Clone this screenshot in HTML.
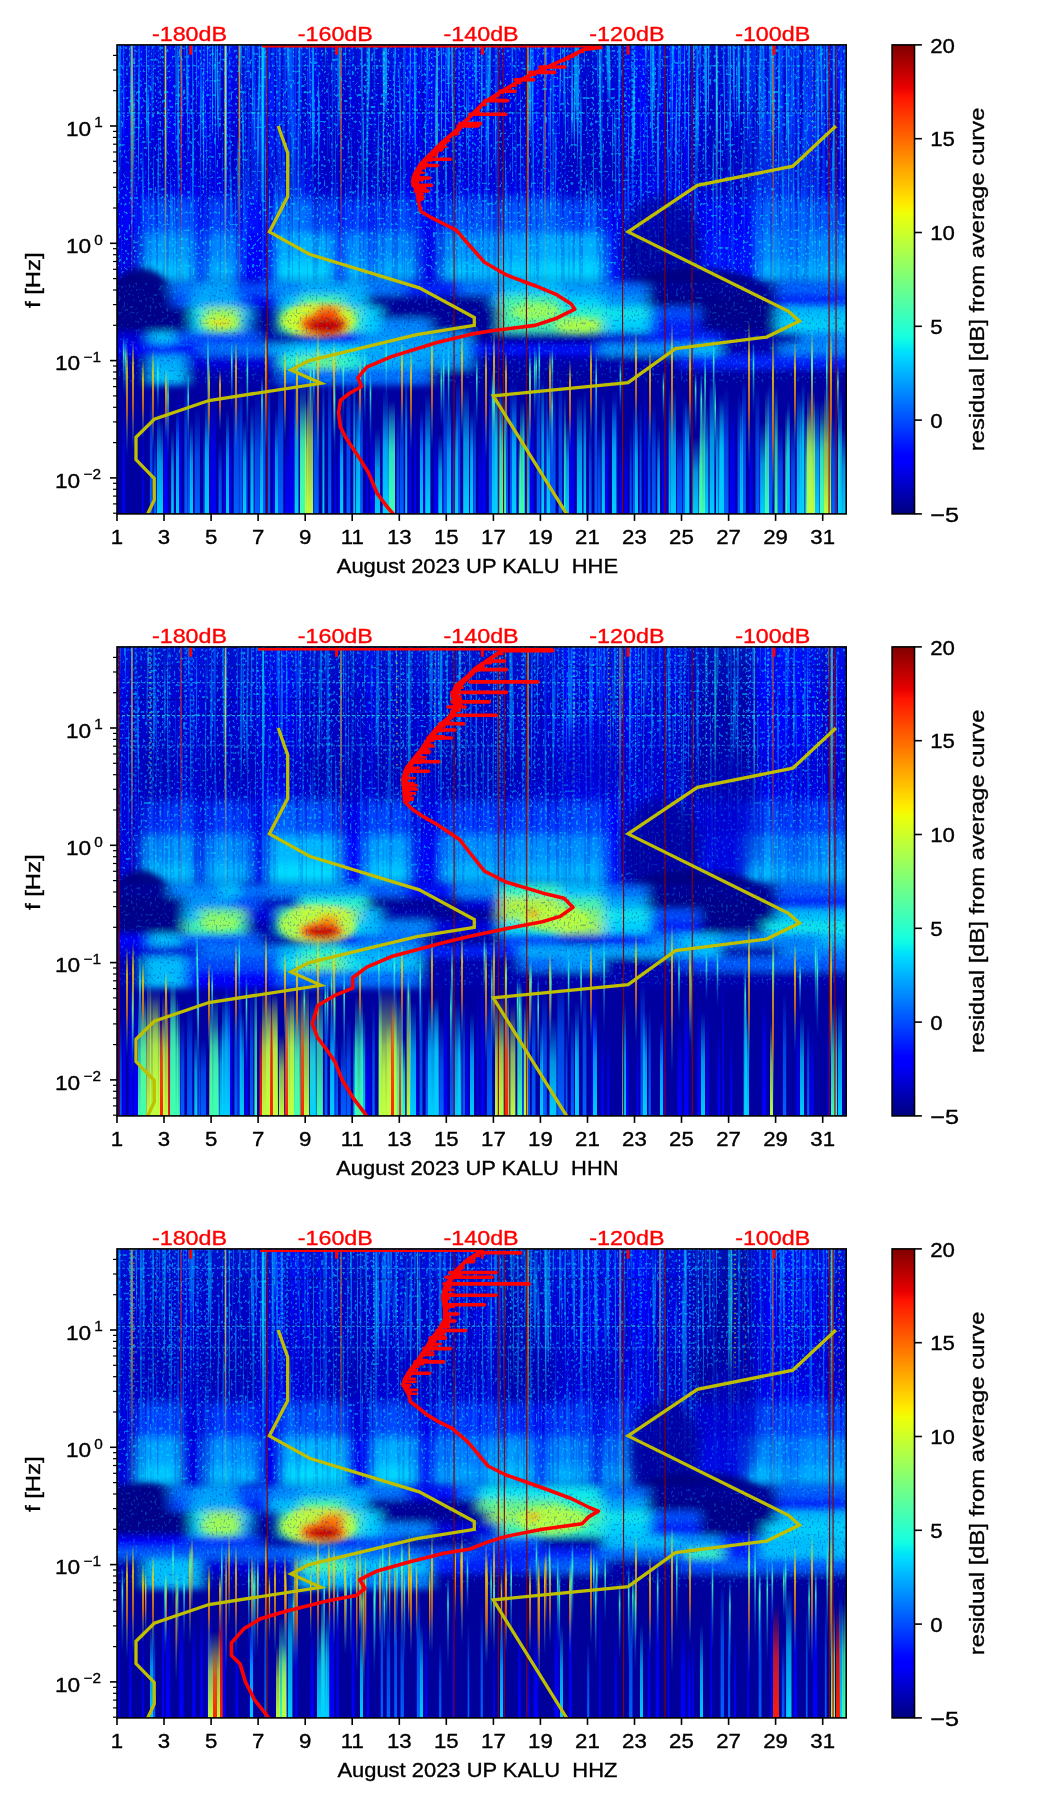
<!DOCTYPE html>
<html><head><meta charset="utf-8"><style>html,body{margin:0;padding:0;background:#fff;width:1052px;height:1806px;overflow:hidden}svg{display:block} text{opacity:0.999}</style></head>
<body><svg width="1052" height="1806" viewBox="0 0 1052 1806"><defs><linearGradient id="jetg" x1="0" y1="0" x2="0" y2="1"><stop offset="0.00" stop-color="#800000"/><stop offset="0.01" stop-color="#8b0000"/><stop offset="0.02" stop-color="#970000"/><stop offset="0.03" stop-color="#a20000"/><stop offset="0.04" stop-color="#ae0000"/><stop offset="0.05" stop-color="#b90000"/><stop offset="0.06" stop-color="#c50000"/><stop offset="0.07" stop-color="#d10000"/><stop offset="0.08" stop-color="#dc0000"/><stop offset="0.09" stop-color="#e80000"/><stop offset="0.10" stop-color="#f30900"/><stop offset="0.11" stop-color="#ff1300"/><stop offset="0.12" stop-color="#ff1c00"/><stop offset="0.13" stop-color="#ff2600"/><stop offset="0.14" stop-color="#ff2f00"/><stop offset="0.15" stop-color="#ff3900"/><stop offset="0.16" stop-color="#ff4200"/><stop offset="0.17" stop-color="#ff4c00"/><stop offset="0.18" stop-color="#ff5500"/><stop offset="0.19" stop-color="#ff5e00"/><stop offset="0.20" stop-color="#ff6800"/><stop offset="0.21" stop-color="#ff7100"/><stop offset="0.22" stop-color="#ff7b00"/><stop offset="0.23" stop-color="#ff8400"/><stop offset="0.24" stop-color="#ff8e00"/><stop offset="0.25" stop-color="#ff9700"/><stop offset="0.26" stop-color="#ffa100"/><stop offset="0.27" stop-color="#ffaa00"/><stop offset="0.28" stop-color="#ffb300"/><stop offset="0.29" stop-color="#ffbd00"/><stop offset="0.30" stop-color="#ffc600"/><stop offset="0.31" stop-color="#ffd000"/><stop offset="0.32" stop-color="#ffd900"/><stop offset="0.33" stop-color="#ffe300"/><stop offset="0.34" stop-color="#ffec00"/><stop offset="0.35" stop-color="#f7f600"/><stop offset="0.36" stop-color="#efff08"/><stop offset="0.37" stop-color="#e6ff10"/><stop offset="0.38" stop-color="#deff19"/><stop offset="0.39" stop-color="#d6ff21"/><stop offset="0.40" stop-color="#ceff29"/><stop offset="0.41" stop-color="#c5ff31"/><stop offset="0.42" stop-color="#bdff3a"/><stop offset="0.43" stop-color="#b5ff42"/><stop offset="0.44" stop-color="#adff4a"/><stop offset="0.45" stop-color="#a5ff52"/><stop offset="0.46" stop-color="#9cff5a"/><stop offset="0.47" stop-color="#94ff63"/><stop offset="0.48" stop-color="#8cff6b"/><stop offset="0.49" stop-color="#84ff73"/><stop offset="0.50" stop-color="#7bff7b"/><stop offset="0.51" stop-color="#73ff84"/><stop offset="0.52" stop-color="#6bff8c"/><stop offset="0.53" stop-color="#63ff94"/><stop offset="0.54" stop-color="#5aff9c"/><stop offset="0.55" stop-color="#52ffa5"/><stop offset="0.56" stop-color="#4affad"/><stop offset="0.57" stop-color="#42ffb5"/><stop offset="0.58" stop-color="#3affbd"/><stop offset="0.59" stop-color="#31ffc5"/><stop offset="0.60" stop-color="#29ffce"/><stop offset="0.61" stop-color="#21ffd6"/><stop offset="0.62" stop-color="#19ffde"/><stop offset="0.63" stop-color="#10fae6"/><stop offset="0.64" stop-color="#08f0ef"/><stop offset="0.65" stop-color="#00e5f7"/><stop offset="0.66" stop-color="#00dbff"/><stop offset="0.67" stop-color="#00d1ff"/><stop offset="0.68" stop-color="#00c7ff"/><stop offset="0.69" stop-color="#00bdff"/><stop offset="0.70" stop-color="#00b2ff"/><stop offset="0.71" stop-color="#00a8ff"/><stop offset="0.72" stop-color="#009eff"/><stop offset="0.73" stop-color="#0094ff"/><stop offset="0.74" stop-color="#008aff"/><stop offset="0.75" stop-color="#0080ff"/><stop offset="0.76" stop-color="#0075ff"/><stop offset="0.77" stop-color="#006bff"/><stop offset="0.78" stop-color="#0061ff"/><stop offset="0.79" stop-color="#0057ff"/><stop offset="0.80" stop-color="#004dff"/><stop offset="0.81" stop-color="#0042ff"/><stop offset="0.82" stop-color="#0038ff"/><stop offset="0.83" stop-color="#002eff"/><stop offset="0.84" stop-color="#0024ff"/><stop offset="0.85" stop-color="#0019ff"/><stop offset="0.86" stop-color="#000fff"/><stop offset="0.87" stop-color="#0005ff"/><stop offset="0.88" stop-color="#0000ff"/><stop offset="0.89" stop-color="#0000ff"/><stop offset="0.90" stop-color="#0000f3"/><stop offset="0.91" stop-color="#0000e8"/><stop offset="0.92" stop-color="#0000dc"/><stop offset="0.93" stop-color="#0000d1"/><stop offset="0.94" stop-color="#0000c5"/><stop offset="0.95" stop-color="#0000b9"/><stop offset="0.96" stop-color="#0000ae"/><stop offset="0.97" stop-color="#0000a2"/><stop offset="0.98" stop-color="#000097"/><stop offset="0.99" stop-color="#00008b"/><stop offset="1.00" stop-color="#000080"/></linearGradient><filter id="bl2" x="-20%" y="-20%" width="140%" height="140%"><feGaussianBlur stdDeviation="2"/></filter><filter id="bl3" x="-20%" y="-20%" width="140%" height="140%"><feGaussianBlur stdDeviation="3"/></filter><filter id="bl4" x="-5%" y="-5%" width="110%" height="110%"><feGaussianBlur stdDeviation="5.5 5"/></filter><filter id="bl5" x="-5%" y="-20%" width="110%" height="140%"><feGaussianBlur stdDeviation="6 3.5"/></filter><filter id="bl6" x="-20%" y="-20%" width="140%" height="140%"><feGaussianBlur stdDeviation="6"/></filter><linearGradient id="up0" gradientUnits="userSpaceOnUse" x1="0" y1="44.9" x2="0" y2="513.9"><stop offset="0" stop-color="#000080" stop-opacity="0"/><stop offset="0.4842" stop-color="#000080" stop-opacity="0"/><stop offset="0.5269" stop-color="#000080" stop-opacity="0.35"/><stop offset="0.5439" stop-color="#000080" stop-opacity="0.5"/></linearGradient><linearGradient id="up1" gradientUnits="userSpaceOnUse" x1="0" y1="44.9" x2="0" y2="513.9"><stop offset="0" stop-color="#000080" stop-opacity="0"/><stop offset="0.4842" stop-color="#000080" stop-opacity="0"/><stop offset="0.5269" stop-color="#000080" stop-opacity="0.35"/><stop offset="0.5439" stop-color="#000080" stop-opacity="0.5"/></linearGradient><linearGradient id="up2" gradientUnits="userSpaceOnUse" x1="0" y1="44.9" x2="0" y2="513.9"><stop offset="0" stop-color="#000080" stop-opacity="0"/><stop offset="0.4842" stop-color="#000080" stop-opacity="0"/><stop offset="0.5269" stop-color="#000080" stop-opacity="0.35"/><stop offset="0.5439" stop-color="#000080" stop-opacity="0.5"/></linearGradient><linearGradient id="vshade" gradientUnits="userSpaceOnUse" x1="0" y1="44" x2="0" y2="210"><stop offset="0" stop-color="#0090ff" stop-opacity="0.12"/><stop offset="0.35" stop-color="#0090ff" stop-opacity="0.0"/><stop offset="0.45" stop-color="#000080" stop-opacity="0.0"/><stop offset="0.75" stop-color="#000080" stop-opacity="0.18"/><stop offset="1" stop-color="#000080" stop-opacity="0"/></linearGradient><filter id="streaks" x="0" y="0" width="100%" height="100%" filterUnits="objectBoundingBox">
<feTurbulence type="fractalNoise" baseFrequency="0.45 0.012" numOctaves="2" seed="7" result="n"/>
<feColorMatrix in="n" type="matrix" values="0 0 0 0 0  0 0 0 0 0.55  0 0 0 0 1  0 0 0 9 -5.2"/>
</filter><filter id="speckd" x="0" y="0" width="100%" height="100%"><feTurbulence type="fractalNoise" baseFrequency="0.5 0.4" numOctaves="1" seed="11"/><feColorMatrix type="matrix" values="0 0 0 0 0  0 0 0 0 0  0 0 0 0 0.55  0 0 0 9 -5.2"/></filter><filter id="vl0" x="0" y="0" width="100%" height="100%"><feTurbulence type="fractalNoise" baseFrequency="0.4 0.006" numOctaves="2" seed="3"/><feColorMatrix type="matrix" values="0 0 0 0 0  0 0 0 0 0.5  0 0 0 0 1  0 0 0 7 -3.9"/></filter>
<filter id="vd0" x="0" y="0" width="100%" height="100%"><feTurbulence type="fractalNoise" baseFrequency="0.4 0.006" numOctaves="2" seed="9"/><feColorMatrix type="matrix" values="0 0 0 0 0  0 0 0 0 0  0 0 0 0 0.55  0 0 0 7 -3.4"/></filter>
<filter id="sp0" x="0" y="0" width="100%" height="100%"><feTurbulence type="fractalNoise" baseFrequency="0.42 0.34" numOctaves="1" seed="21"/><feColorMatrix type="matrix" values="0 0 0 0 0  0 0 0 0 0.75  0 0 0 0 1  0 0 0 12 -7.2"/></filter><filter id="vl1" x="0" y="0" width="100%" height="100%"><feTurbulence type="fractalNoise" baseFrequency="0.4 0.006" numOctaves="2" seed="13"/><feColorMatrix type="matrix" values="0 0 0 0 0  0 0 0 0 0.5  0 0 0 0 1  0 0 0 7 -3.9"/></filter>
<filter id="vd1" x="0" y="0" width="100%" height="100%"><feTurbulence type="fractalNoise" baseFrequency="0.4 0.006" numOctaves="2" seed="19"/><feColorMatrix type="matrix" values="0 0 0 0 0  0 0 0 0 0  0 0 0 0 0.55  0 0 0 7 -3.4"/></filter>
<filter id="sp1" x="0" y="0" width="100%" height="100%"><feTurbulence type="fractalNoise" baseFrequency="0.42 0.34" numOctaves="1" seed="31"/><feColorMatrix type="matrix" values="0 0 0 0 0  0 0 0 0 0.75  0 0 0 0 1  0 0 0 12 -7.2"/></filter><filter id="vl2" x="0" y="0" width="100%" height="100%"><feTurbulence type="fractalNoise" baseFrequency="0.4 0.006" numOctaves="2" seed="23"/><feColorMatrix type="matrix" values="0 0 0 0 0  0 0 0 0 0.5  0 0 0 0 1  0 0 0 7 -3.9"/></filter>
<filter id="vd2" x="0" y="0" width="100%" height="100%"><feTurbulence type="fractalNoise" baseFrequency="0.4 0.006" numOctaves="2" seed="29"/><feColorMatrix type="matrix" values="0 0 0 0 0  0 0 0 0 0  0 0 0 0 0.55  0 0 0 7 -3.4"/></filter>
<filter id="sp2" x="0" y="0" width="100%" height="100%"><feTurbulence type="fractalNoise" baseFrequency="0.42 0.34" numOctaves="1" seed="41"/><feColorMatrix type="matrix" values="0 0 0 0 0  0 0 0 0 0.75  0 0 0 0 1  0 0 0 12 -7.2"/></filter><linearGradient id="stm" gradientUnits="userSpaceOnUse" x1="0" y1="44" x2="0" y2="300"><stop offset="0" stop-color="#fff"/><stop offset="0.45" stop-color="#fff"/><stop offset="0.72" stop-color="#fff" stop-opacity="0.3"/><stop offset="1" stop-color="#fff" stop-opacity="0.15"/></linearGradient><mask id="stmask" maskUnits="userSpaceOnUse" x="100" y="30" width="760" height="290"><rect x="100" y="30" width="760" height="290" fill="url(#stm)"/></mask><linearGradient id="sLB" x1="0" y1="0" x2="0" y2="1"><stop offset="0" stop-color="#0060ff" stop-opacity="0"/><stop offset="0.45" stop-color="#0060ff" stop-opacity="0.7"/><stop offset="1" stop-color="#0060ff" stop-opacity="1"/></linearGradient><linearGradient id="sC" x1="0" y1="0" x2="0" y2="1"><stop offset="0" stop-color="#00d0ff" stop-opacity="0"/><stop offset="0.45" stop-color="#00d0ff" stop-opacity="0.7"/><stop offset="1" stop-color="#00d0ff" stop-opacity="1"/></linearGradient><linearGradient id="sG" x1="0" y1="0" x2="0" y2="1"><stop offset="0" stop-color="#40ffb0" stop-opacity="0"/><stop offset="0.45" stop-color="#40ffb0" stop-opacity="0.7"/><stop offset="1" stop-color="#40ffb0" stop-opacity="1"/></linearGradient><linearGradient id="sY" x1="0" y1="0" x2="0" y2="1"><stop offset="0" stop-color="#c0ff40" stop-opacity="0"/><stop offset="0.45" stop-color="#c0ff40" stop-opacity="0.7"/><stop offset="1" stop-color="#c0ff40" stop-opacity="1"/></linearGradient><linearGradient id="sB" x1="0" y1="0" x2="0" y2="1"><stop offset="0" stop-color="#0000ff" stop-opacity="0"/><stop offset="0.45" stop-color="#0000ff" stop-opacity="0.7"/><stop offset="1" stop-color="#0000ff" stop-opacity="1"/></linearGradient><linearGradient id="sR" x1="0" y1="0" x2="0" y2="1"><stop offset="0" stop-color="#ff2000" stop-opacity="0"/><stop offset="0.45" stop-color="#ff2000" stop-opacity="0.7"/><stop offset="1" stop-color="#ff2000" stop-opacity="1"/></linearGradient><linearGradient id="spk" x1="0" y1="0" x2="0" y2="1"><stop offset="0" stop-color="#ffff00" stop-opacity="0"/><stop offset="0.25" stop-color="#ffd000" stop-opacity="0.9"/><stop offset="0.6" stop-color="#ff8000" stop-opacity="0.8"/><stop offset="1" stop-color="#00c0ff" stop-opacity="0"/></linearGradient><linearGradient id="spkc" x1="0" y1="0" x2="0" y2="1"><stop offset="0" stop-color="#00ffff" stop-opacity="0"/><stop offset="0.3" stop-color="#40ffc0" stop-opacity="0.9"/><stop offset="1" stop-color="#0080ff" stop-opacity="0"/></linearGradient></defs>
<clipPath id="cp0"><rect x="117.0" y="44.9" width="729.2" height="469.0"/></clipPath>
<g clip-path="url(#cp0)">
<g transform="translate(0,0.0)"><rect x="117.0" y="44.9" width="729.2" height="469.0" fill="#0000a0"/><g><rect x="115.0" y="436" width="3.0" height="80" fill="url(#sB)"/><rect x="122.5" y="398" width="2.5" height="118" fill="url(#sB)"/><rect x="142.0" y="420" width="1.5" height="96" fill="url(#sB)"/><rect x="149.9" y="390" width="2.6" height="126" fill="url(#sLB)"/><rect x="153.7" y="437" width="2.6" height="79" fill="url(#sLB)"/><rect x="157.0" y="412" width="3.2" height="104" fill="url(#sC)"/><rect x="163.9" y="407" width="3.9" height="109" fill="url(#sB)"/><rect x="171.2" y="429" width="2.6" height="87" fill="url(#sC)"/><rect x="176.3" y="395" width="5.2" height="121" fill="url(#sB)"/><rect x="184.4" y="378" width="2.6" height="138" fill="url(#sLB)"/><rect x="187.3" y="425" width="3.9" height="91" fill="url(#sLB)"/><rect x="194.7" y="407" width="5.2" height="109" fill="url(#sLB)"/><rect x="203.5" y="423" width="5.2" height="93" fill="url(#sLB)"/><rect x="210.7" y="390" width="5.2" height="125" fill="url(#sB)"/><rect x="218.5" y="440" width="3.2" height="76" fill="url(#sLB)"/><rect x="223.4" y="432" width="2.0" height="84" fill="url(#sB)"/><rect x="227.8" y="423" width="3.9" height="93" fill="url(#sB)"/><rect x="233.7" y="384" width="5.2" height="132" fill="url(#sLB)"/><rect x="239.3" y="377" width="3.2" height="139" fill="url(#sLB)"/><rect x="245.5" y="419" width="2.0" height="97" fill="url(#sLB)"/><rect x="250.4" y="404" width="3.2" height="112" fill="url(#sC)"/><rect x="254.6" y="392" width="5.2" height="124" fill="url(#sLB)"/><rect x="261.6" y="379" width="3.9" height="136" fill="url(#sLB)"/><rect x="267.6" y="368" width="2.6" height="148" fill="url(#sLB)"/><rect x="272.9" y="411" width="2.6" height="105" fill="url(#sB)"/><rect x="278.1" y="368" width="5.2" height="148" fill="url(#sLB)"/><rect x="285.1" y="430" width="3.9" height="85" fill="url(#sB)"/><rect x="289.3" y="377" width="2.6" height="139" fill="url(#sB)"/><rect x="292.2" y="374" width="2.0" height="142" fill="url(#sB)"/><rect x="294.6" y="368" width="3.9" height="148" fill="url(#sC)"/><rect x="300.2" y="404" width="5.7" height="112" fill="url(#sG)"/><rect x="307.3" y="376" width="5.7" height="140" fill="url(#sY)"/><rect x="313.5" y="385" width="5.2" height="131" fill="url(#sLB)"/><rect x="322.4" y="379" width="2.0" height="137" fill="url(#sC)"/><rect x="328.1" y="365" width="3.2" height="151" fill="url(#sLB)"/><rect x="334.4" y="439" width="2.0" height="76" fill="url(#sB)"/><rect x="338.5" y="414" width="2.0" height="102" fill="url(#sB)"/><rect x="341.4" y="429" width="2.0" height="87" fill="url(#sLB)"/><rect x="346.5" y="368" width="3.9" height="148" fill="url(#sLB)"/><rect x="353.3" y="367" width="2.0" height="149" fill="url(#sC)"/><rect x="357.6" y="376" width="5.2" height="140" fill="url(#sLB)"/><rect x="366.2" y="418" width="2.0" height="98" fill="url(#sB)"/><rect x="370.2" y="420" width="3.9" height="96" fill="url(#sB)"/><rect x="374.9" y="428" width="5.2" height="88" fill="url(#sC)"/><rect x="382.3" y="412" width="5.2" height="103" fill="url(#sLB)"/><rect x="388.0" y="403" width="7.0" height="113" fill="url(#sC)"/><rect x="396.6" y="408" width="2.6" height="107" fill="url(#sLB)"/><rect x="399.8" y="397" width="3.9" height="119" fill="url(#sLB)"/><rect x="405.2" y="368" width="2.0" height="147" fill="url(#sC)"/><rect x="408.9" y="401" width="2.6" height="115" fill="url(#sB)"/><rect x="414.1" y="407" width="2.0" height="109" fill="url(#sB)"/><rect x="419.2" y="409" width="5.2" height="107" fill="url(#sB)"/><rect x="425.2" y="393" width="5.2" height="122" fill="url(#sC)"/><rect x="433.8" y="428" width="3.9" height="88" fill="url(#sB)"/><rect x="438.3" y="434" width="3.9" height="82" fill="url(#sC)"/><rect x="443.4" y="382" width="3.6" height="134" fill="url(#sLB)"/><rect x="449.9" y="406" width="2.2" height="110" fill="url(#sB)"/><rect x="452.6" y="420" width="2.2" height="96" fill="url(#sLB)"/><rect x="456.0" y="369" width="4.3" height="147" fill="url(#sLB)"/><rect x="463.2" y="384" width="5.8" height="132" fill="url(#sC)"/><rect x="471.0" y="417" width="2.0" height="99" fill="url(#sLB)"/><rect x="473.3" y="400" width="2.6" height="116" fill="url(#sLB)"/><rect x="478.5" y="431" width="3.2" height="85" fill="url(#sB)"/><rect x="482.4" y="388" width="3.2" height="128" fill="url(#sB)"/><rect x="488.9" y="379" width="5.2" height="137" fill="url(#sLB)"/><rect x="494.6" y="377" width="7.0" height="139" fill="url(#sC)"/><rect x="502.2" y="389" width="2.6" height="127" fill="url(#sC)"/><rect x="505.4" y="398" width="2.6" height="118" fill="url(#sLB)"/><rect x="509.9" y="377" width="7.0" height="139" fill="url(#sLB)"/><rect x="518.7" y="428" width="2.6" height="88" fill="url(#sG)"/><rect x="522.4" y="402" width="2.6" height="114" fill="url(#sC)"/><rect x="526.1" y="398" width="3.5" height="118" fill="url(#sC)"/><rect x="530.2" y="395" width="3.6" height="121" fill="url(#sB)"/><rect x="536.7" y="367" width="3.6" height="149" fill="url(#sLB)"/><rect x="541.3" y="369" width="2.9" height="147" fill="url(#sC)"/><rect x="545.6" y="378" width="2.2" height="138" fill="url(#sLB)"/><rect x="549.8" y="383" width="5.8" height="133" fill="url(#sLB)"/><rect x="558.6" y="368" width="3.6" height="148" fill="url(#sLB)"/><rect x="563.9" y="392" width="2.0" height="124" fill="url(#sG)"/><rect x="569.3" y="399" width="5.2" height="117" fill="url(#sB)"/><rect x="576.9" y="395" width="5.2" height="121" fill="url(#sC)"/><rect x="583.5" y="390" width="2.6" height="125" fill="url(#sC)"/><rect x="589.0" y="422" width="2.6" height="94" fill="url(#sLB)"/><rect x="594.5" y="371" width="2.6" height="145" fill="url(#sLB)"/><rect x="597.5" y="428" width="3.2" height="88" fill="url(#sLB)"/><rect x="601.7" y="395" width="3.2" height="120" fill="url(#sC)"/><rect x="605.3" y="417" width="3.2" height="99" fill="url(#sB)"/><rect x="612.0" y="387" width="5.2" height="129" fill="url(#sLB)"/><rect x="619.5" y="438" width="3.2" height="77" fill="url(#sB)"/><rect x="624.4" y="436" width="3.2" height="80" fill="url(#sB)"/><rect x="629.7" y="427" width="2.0" height="89" fill="url(#sLB)"/><rect x="632.9" y="405" width="3.9" height="111" fill="url(#sLB)"/><rect x="639.6" y="402" width="2.0" height="114" fill="url(#sLB)"/><rect x="644.0" y="372" width="2.0" height="144" fill="url(#sB)"/><rect x="647.8" y="405" width="2.6" height="111" fill="url(#sLB)"/><rect x="651.8" y="403" width="3.9" height="113" fill="url(#sLB)"/><rect x="657.3" y="426" width="2.6" height="90" fill="url(#sC)"/><rect x="661.7" y="416" width="5.2" height="100" fill="url(#sB)"/><rect x="668.7" y="387" width="2.0" height="129" fill="url(#sC)"/><rect x="670.8" y="387" width="5.2" height="129" fill="url(#sC)"/><rect x="676.9" y="428" width="5.2" height="87" fill="url(#sLB)"/><rect x="682.8" y="394" width="4.0" height="122" fill="url(#sLB)"/><rect x="687.0" y="423" width="2.4" height="93" fill="url(#sC)"/><rect x="692.0" y="437" width="6.4" height="79" fill="url(#sC)"/><rect x="698.9" y="427" width="3.2" height="89" fill="url(#sG)"/><rect x="704.4" y="404" width="4.0" height="112" fill="url(#sC)"/><rect x="709.6" y="374" width="4.8" height="142" fill="url(#sC)"/><rect x="716.0" y="403" width="2.4" height="113" fill="url(#sC)"/><rect x="718.7" y="394" width="4.8" height="122" fill="url(#sC)"/><rect x="723.7" y="385" width="4.8" height="131" fill="url(#sLB)"/><rect x="730.0" y="401" width="5.2" height="115" fill="url(#sB)"/><rect x="737.5" y="391" width="3.2" height="125" fill="url(#sLB)"/><rect x="742.0" y="365" width="3.9" height="151" fill="url(#sLB)"/><rect x="749.5" y="422" width="3.2" height="94" fill="url(#sB)"/><rect x="755.5" y="384" width="3.9" height="132" fill="url(#sLB)"/><rect x="760.1" y="422" width="6.4" height="94" fill="url(#sC)"/><rect x="767.5" y="374" width="4.8" height="142" fill="url(#sLB)"/><rect x="774.5" y="385" width="3.2" height="131" fill="url(#sG)"/><rect x="778.0" y="425" width="4.8" height="91" fill="url(#sLB)"/><rect x="785.3" y="409" width="4.0" height="107" fill="url(#sG)"/><rect x="791.1" y="421" width="4.0" height="95" fill="url(#sLB)"/><rect x="796.8" y="389" width="4.0" height="127" fill="url(#sC)"/><rect x="801.7" y="377" width="2.8" height="139" fill="url(#sC)"/><rect x="805.3" y="413" width="7.6" height="103" fill="url(#sG)"/><rect x="813.5" y="400" width="5.7" height="116" fill="url(#sC)"/><rect x="819.6" y="419" width="3.8" height="96" fill="url(#sC)"/><rect x="824.0" y="386" width="4.8" height="130" fill="url(#sY)"/><rect x="830.7" y="413" width="6.4" height="103" fill="url(#sLB)"/><rect x="838.0" y="424" width="2.4" height="92" fill="url(#sY)"/><rect x="842.1" y="428" width="4.8" height="88" fill="url(#sC)"/><rect x="300.0" y="380" width="6" height="136" fill="url(#sG)"/><rect x="305.0" y="400" width="3" height="116" fill="url(#sY)"/><rect x="383.0" y="390" width="5" height="126" fill="url(#sC)"/><rect x="389.0" y="400" width="6" height="116" fill="url(#sG)"/><rect x="447.0" y="400" width="4" height="116" fill="url(#sC)"/><rect x="455.0" y="410" width="3" height="106" fill="url(#sC)"/><rect x="492.0" y="390" width="5" height="126" fill="url(#sC)"/><rect x="500.0" y="400" width="6" height="116" fill="url(#sG)"/><rect x="512.0" y="395" width="4" height="121" fill="url(#sC)"/><rect x="520.0" y="400" width="4" height="116" fill="url(#sG)"/><rect x="547.0" y="410" width="3" height="106" fill="url(#sC)"/><rect x="565.0" y="420" width="4" height="96" fill="url(#sC)"/><rect x="612.0" y="400" width="4" height="116" fill="url(#sC)"/><rect x="635.0" y="410" width="3" height="106" fill="url(#sC)"/><rect x="685.0" y="400" width="4" height="116" fill="url(#sC)"/><rect x="700.0" y="390" width="5" height="126" fill="url(#sG)"/><rect x="720.0" y="400" width="4" height="116" fill="url(#sC)"/><rect x="740.0" y="400" width="3" height="116" fill="url(#sC)"/><rect x="765.0" y="390" width="4" height="126" fill="url(#sG)"/><rect x="787.0" y="400" width="3" height="116" fill="url(#sC)"/><rect x="800.0" y="400" width="4" height="116" fill="url(#sC)"/><rect x="807.0" y="390" width="8" height="126" fill="url(#sY)"/><rect x="820.0" y="400" width="4" height="116" fill="url(#sG)"/><rect x="828.0" y="395" width="3" height="121" fill="url(#sY)"/><rect x="838.0" y="390" width="4" height="126" fill="url(#sC)"/><rect x="160.0" y="420" width="3" height="96" fill="url(#sC)"/><rect x="176.0" y="410" width="3" height="106" fill="url(#sC)"/><rect x="190.0" y="420" width="3" height="96" fill="url(#sC)"/><rect x="205.0" y="400" width="4" height="116" fill="url(#sC)"/><rect x="226.0" y="410" width="3" height="106" fill="url(#sC)"/><rect x="243.0" y="420" width="3" height="96" fill="url(#sC)"/><rect x="260.0" y="410" width="3" height="106" fill="url(#sC)"/><rect x="275.0" y="410" width="3" height="106" fill="url(#sC)"/><rect x="340.0" y="410" width="3" height="106" fill="url(#sC)"/><rect x="356.0" y="400" width="4" height="116" fill="url(#sC)"/><rect x="420.0" y="410" width="3" height="106" fill="url(#sC)"/><rect x="470.0" y="410" width="3" height="106" fill="url(#sC)"/></g><g filter="url(#bl4)"><rect x="105.0" y="30" width="45.0" height="172" fill="#0000ff"/><rect x="150.0" y="30" width="15.0" height="172" fill="#0000e1"/><rect x="165.0" y="30" width="13.0" height="172" fill="#0000ff"/><rect x="178.0" y="30" width="22.0" height="172" fill="#0000ff"/><rect x="200.0" y="30" width="12.0" height="172" fill="#0000f8"/><rect x="212.0" y="30" width="18.0" height="172" fill="#0000f8"/><rect x="230.0" y="30" width="6.0" height="172" fill="#0000e1"/><rect x="236.0" y="30" width="9.0" height="172" fill="#0000e1"/><rect x="245.0" y="30" width="20.0" height="172" fill="#0028ff"/><rect x="265.0" y="30" width="3.0" height="172" fill="#0000ff"/><rect x="268.0" y="30" width="10.0" height="172" fill="#0000ff"/><rect x="278.0" y="30" width="22.0" height="172" fill="#003cff"/><rect x="300.0" y="30" width="14.0" height="172" fill="#0007ff"/><rect x="314.0" y="30" width="66.0" height="172" fill="#0000dc"/><rect x="380.0" y="30" width="20.0" height="172" fill="#0000e1"/><rect x="400.0" y="30" width="6.0" height="172" fill="#0000ff"/><rect x="406.0" y="30" width="24.0" height="172" fill="#0000ff"/><rect x="430.0" y="30" width="25.0" height="172" fill="#0000f3"/><rect x="455.0" y="30" width="5.0" height="172" fill="#0000f3"/><rect x="460.0" y="30" width="22.0" height="172" fill="#0000ff"/><rect x="482.0" y="30" width="48.0" height="172" fill="#0000f8"/><rect x="530.0" y="30" width="32.0" height="172" fill="#0000ff"/><rect x="562.0" y="30" width="38.0" height="172" fill="#0000d3"/><rect x="600.0" y="30" width="21.0" height="172" fill="#0000d3"/><rect x="621.0" y="30" width="1.0" height="172" fill="#0000dc"/><rect x="622.0" y="30" width="43.0" height="172" fill="#0000ff"/><rect x="665.0" y="30" width="30.0" height="172" fill="#0000fd"/><rect x="695.0" y="30" width="58.0" height="172" fill="#0000d8"/><rect x="753.0" y="30" width="17.0" height="172" fill="#0034ff"/><rect x="770.0" y="30" width="30.0" height="172" fill="#0034ff"/><rect x="800.0" y="30" width="15.0" height="172" fill="#0034ff"/><rect x="815.0" y="30" width="43.2" height="172" fill="#0007ff"/><rect x="105.0" y="200" width="40.0" height="36" fill="#0000fa"/><rect x="145.0" y="200" width="5.0" height="36" fill="#0055ff"/><rect x="150.0" y="200" width="15.0" height="36" fill="#0040ff"/><rect x="165.0" y="200" width="13.0" height="36" fill="#0055ff"/><rect x="178.0" y="200" width="15.0" height="36" fill="#0055ff"/><rect x="193.0" y="200" width="7.0" height="36" fill="#0000ff"/><rect x="200.0" y="200" width="7.0" height="36" fill="#0000f8"/><rect x="207.0" y="200" width="5.0" height="36" fill="#0040ff"/><rect x="212.0" y="200" width="18.0" height="36" fill="#0040ff"/><rect x="230.0" y="200" width="5.0" height="36" fill="#0036ff"/><rect x="235.0" y="200" width="1.0" height="36" fill="#0000f3"/><rect x="236.0" y="200" width="9.0" height="36" fill="#0000f3"/><rect x="245.0" y="200" width="20.0" height="36" fill="#000fff"/><rect x="265.0" y="200" width="3.0" height="36" fill="#0000ff"/><rect x="268.0" y="200" width="9.0" height="36" fill="#0000ff"/><rect x="277.0" y="200" width="1.0" height="36" fill="#005fff"/><rect x="278.0" y="200" width="22.0" height="36" fill="#007dff"/><rect x="300.0" y="200" width="14.0" height="36" fill="#0063ff"/><rect x="314.0" y="200" width="18.0" height="36" fill="#0048ff"/><rect x="332.0" y="200" width="14.0" height="36" fill="#0000f8"/><rect x="346.0" y="200" width="21.0" height="36" fill="#0038ff"/><rect x="367.0" y="200" width="7.0" height="36" fill="#0000f1"/><rect x="374.0" y="200" width="6.0" height="36" fill="#0034ff"/><rect x="380.0" y="200" width="20.0" height="36" fill="#0036ff"/><rect x="400.0" y="200" width="6.0" height="36" fill="#0046ff"/><rect x="406.0" y="200" width="9.0" height="36" fill="#0046ff"/><rect x="415.0" y="200" width="15.0" height="36" fill="#0000fa"/><rect x="430.0" y="200" width="13.0" height="36" fill="#0000f1"/><rect x="443.0" y="200" width="12.0" height="36" fill="#0046ff"/><rect x="455.0" y="200" width="5.0" height="36" fill="#0046ff"/><rect x="460.0" y="200" width="22.0" height="36" fill="#004fff"/><rect x="482.0" y="200" width="24.0" height="36" fill="#0048ff"/><rect x="506.0" y="200" width="24.0" height="36" fill="#004fff"/><rect x="530.0" y="200" width="17.0" height="36" fill="#0059ff"/><rect x="547.0" y="200" width="15.0" height="36" fill="#005fff"/><rect x="562.0" y="200" width="38.0" height="36" fill="#0044ff"/><rect x="600.0" y="200" width="3.0" height="36" fill="#0044ff"/><rect x="603.0" y="200" width="18.0" height="36" fill="#0000f8"/><rect x="621.0" y="200" width="1.0" height="36" fill="#0000fd"/><rect x="622.0" y="200" width="43.0" height="36" fill="#0000e1"/><rect x="665.0" y="200" width="30.0" height="36" fill="#0000da"/><rect x="695.0" y="200" width="58.0" height="36" fill="#0000fa"/><rect x="753.0" y="200" width="7.0" height="36" fill="#0020ff"/><rect x="760.0" y="200" width="10.0" height="36" fill="#0069ff"/><rect x="770.0" y="200" width="14.0" height="36" fill="#0069ff"/><rect x="784.0" y="200" width="16.0" height="36" fill="#0055ff"/><rect x="800.0" y="200" width="15.0" height="36" fill="#0065ff"/><rect x="815.0" y="200" width="43.2" height="36" fill="#004fff"/><rect x="105.0" y="234" width="40.0" height="28" fill="#0000e5"/><rect x="105.0" y="261" width="40.0" height="30" fill="#0000e5"/><rect x="145.0" y="234" width="48.0" height="28" fill="#009aff"/><rect x="145.0" y="261" width="48.0" height="30" fill="#00bfff"/><rect x="193.0" y="234" width="14.0" height="28" fill="#0000f8"/><rect x="193.0" y="261" width="14.0" height="30" fill="#0000f8"/><rect x="207.0" y="234" width="28.0" height="28" fill="#0086ff"/><rect x="207.0" y="261" width="28.0" height="30" fill="#00aaff"/><rect x="235.0" y="234" width="42.0" height="28" fill="#0000ff"/><rect x="235.0" y="261" width="42.0" height="30" fill="#0000ff"/><rect x="277.0" y="234" width="55.0" height="28" fill="#00aeff"/><rect x="277.0" y="261" width="55.0" height="30" fill="#00d3ff"/><rect x="332.0" y="234" width="14.0" height="28" fill="#0003ff"/><rect x="332.0" y="261" width="14.0" height="30" fill="#0003ff"/><rect x="346.0" y="234" width="21.0" height="28" fill="#008eff"/><rect x="346.0" y="261" width="21.0" height="30" fill="#00b2ff"/><rect x="367.0" y="234" width="7.0" height="28" fill="#0000ff"/><rect x="367.0" y="261" width="7.0" height="30" fill="#0000ff"/><rect x="374.0" y="234" width="41.0" height="28" fill="#0086ff"/><rect x="374.0" y="261" width="41.0" height="30" fill="#00aaff"/><rect x="415.0" y="234" width="28.0" height="28" fill="#0000ef"/><rect x="415.0" y="261" width="28.0" height="30" fill="#0000ef"/><rect x="443.0" y="234" width="63.0" height="28" fill="#0096ff"/><rect x="443.0" y="261" width="63.0" height="30" fill="#00bbff"/><rect x="506.0" y="234" width="41.0" height="28" fill="#00a2ff"/><rect x="506.0" y="261" width="41.0" height="30" fill="#00c7ff"/><rect x="547.0" y="234" width="56.0" height="28" fill="#00aeff"/><rect x="547.0" y="261" width="56.0" height="30" fill="#00d3ff"/><rect x="603.0" y="234" width="19.0" height="28" fill="#000bff"/><rect x="603.0" y="261" width="19.0" height="30" fill="#000bff"/><rect x="622.0" y="234" width="73.0" height="28" fill="#0000b7"/><rect x="622.0" y="261" width="73.0" height="30" fill="#0000b7"/><rect x="695.0" y="234" width="65.0" height="28" fill="#000bff"/><rect x="695.0" y="261" width="65.0" height="30" fill="#000bff"/><rect x="760.0" y="234" width="24.0" height="28" fill="#008eff"/><rect x="760.0" y="261" width="24.0" height="30" fill="#00b2ff"/><rect x="784.0" y="234" width="16.0" height="28" fill="#0065ff"/><rect x="784.0" y="261" width="16.0" height="30" fill="#008aff"/><rect x="800.0" y="234" width="58.2" height="28" fill="#0086ff"/><rect x="800.0" y="261" width="58.2" height="30" fill="#00aaff"/></g><g mask="url(#stmask)"><rect x="117.0" y="44.9" width="729.2" height="255.1" filter="url(#vd0)" opacity="0.9"/><rect x="117.0" y="44.9" width="729.2" height="255.1" filter="url(#vl0)" opacity="0.75"/><rect x="118.0" y="44.9" width="1.2" height="158" fill="#10d8ff" opacity="0.54"/><line x1="134.8" y1="44.9" x2="134.8" y2="265" stroke="#00b0ff" stroke-width="1.2" stroke-dasharray="2.6 1.5" opacity="0.53"/><line x1="148.7" y1="44.9" x2="148.7" y2="232" stroke="#0090ff" stroke-width="1.2" stroke-dasharray="2.6 2.4" opacity="0.53"/><line x1="160.2" y1="44.9" x2="160.2" y2="243" stroke="#00b0ff" stroke-width="1.2" stroke-dasharray="2.0 2.0" opacity="0.60"/><line x1="178.8" y1="44.9" x2="178.8" y2="229" stroke="#0090ff" stroke-width="1.5" stroke-dasharray="3.8 2.3" opacity="0.51"/><rect x="192.0" y="44.9" width="1.2" height="226" fill="#00b0ff" opacity="0.53"/><line x1="204.2" y1="44.9" x2="204.2" y2="218" stroke="#0070ff" stroke-width="2" stroke-dasharray="2.1 2.6" opacity="0.34"/><line x1="210.2" y1="44.9" x2="210.2" y2="246" stroke="#00b0ff" stroke-width="2" stroke-dasharray="2.8 1.6" opacity="0.39"/><rect x="224.3" y="44.9" width="1.2" height="183" fill="#40ffd0" opacity="0.38"/><line x1="229.7" y1="44.9" x2="229.7" y2="209" stroke="#00b0ff" stroke-width="2" stroke-dasharray="2.9 3.0" opacity="0.40"/><line x1="245.5" y1="44.9" x2="245.5" y2="281" stroke="#0090ff" stroke-width="1.5" stroke-dasharray="3.8 2.7" opacity="0.44"/><rect x="260.9" y="44.9" width="2" height="157" fill="#00b0ff" opacity="0.64"/><line x1="279.6" y1="44.9" x2="279.6" y2="213" stroke="#00b0ff" stroke-width="2" stroke-dasharray="1.5 2.6" opacity="0.27"/><rect x="290.4" y="44.9" width="1.2" height="207" fill="#0090ff" opacity="0.34"/><line x1="298.4" y1="44.9" x2="298.4" y2="266" stroke="#0070ff" stroke-width="1.2" stroke-dasharray="1.6 3.0" opacity="0.43"/><line x1="313.2" y1="44.9" x2="313.2" y2="237" stroke="#0090ff" stroke-width="1.5" stroke-dasharray="4.0 2.3" opacity="0.53"/><rect x="331.7" y="44.9" width="1.5" height="163" fill="#00b0ff" opacity="0.32"/><line x1="349.6" y1="44.9" x2="349.6" y2="285" stroke="#0090ff" stroke-width="2" stroke-dasharray="1.6 2.5" opacity="0.40"/><rect x="361.6" y="44.9" width="1.2" height="167" fill="#40ffd0" opacity="0.34"/><rect x="366.5" y="44.9" width="1.5" height="221" fill="#0090ff" opacity="0.57"/><line x1="374.6" y1="44.9" x2="374.6" y2="240" stroke="#0090ff" stroke-width="2.5" stroke-dasharray="1.6 1.8" opacity="0.29"/><line x1="394.0" y1="44.9" x2="394.0" y2="248" stroke="#0090ff" stroke-width="2.5" stroke-dasharray="2.7 2.7" opacity="0.32"/><rect x="403.0" y="44.9" width="2.5" height="199" fill="#0070ff" opacity="0.58"/><line x1="414.9" y1="44.9" x2="414.9" y2="290" stroke="#0090ff" stroke-width="2" stroke-dasharray="2.9 1.3" opacity="0.34"/><rect x="427.4" y="44.9" width="1.5" height="180" fill="#0070ff" opacity="0.26"/><rect x="436.0" y="44.9" width="2" height="163" fill="#40ffd0" opacity="0.60"/><line x1="454.1" y1="44.9" x2="454.1" y2="247" stroke="#0090ff" stroke-width="2" stroke-dasharray="2.0 1.7" opacity="0.63"/><line x1="459.1" y1="44.9" x2="459.1" y2="229" stroke="#40ffd0" stroke-width="1.5" stroke-dasharray="3.3 2.1" opacity="0.45"/><line x1="472.9" y1="44.9" x2="472.9" y2="246" stroke="#00b0ff" stroke-width="2" stroke-dasharray="2.7 3.0" opacity="0.36"/><rect x="485.4" y="44.9" width="2" height="234" fill="#00b0ff" opacity="0.42"/><rect x="495.7" y="44.9" width="2.5" height="235" fill="#0070ff" opacity="0.45"/><rect x="515.1" y="44.9" width="2" height="176" fill="#0070ff" opacity="0.31"/><rect x="531.5" y="44.9" width="2.5" height="200" fill="#00b0ff" opacity="0.37"/><line x1="537.8" y1="44.9" x2="537.8" y2="266" stroke="#00b0ff" stroke-width="1.2" stroke-dasharray="2.5 1.9" opacity="0.51"/><rect x="552.3" y="44.9" width="2" height="169" fill="#0090ff" opacity="0.56"/><line x1="565.1" y1="44.9" x2="565.1" y2="215" stroke="#0070ff" stroke-width="1.2" stroke-dasharray="3.8 2.2" opacity="0.50"/><line x1="579.6" y1="44.9" x2="579.6" y2="223" stroke="#0070ff" stroke-width="2" stroke-dasharray="2.0 2.0" opacity="0.32"/><line x1="592.6" y1="44.9" x2="592.6" y2="229" stroke="#10d8ff" stroke-width="1.2" stroke-dasharray="2.3 2.9" opacity="0.43"/><rect x="601.1" y="44.9" width="1.5" height="238" fill="#0090ff" opacity="0.34"/><rect x="618.0" y="44.9" width="2" height="171" fill="#0070ff" opacity="0.63"/><line x1="625.5" y1="44.9" x2="625.5" y2="218" stroke="#0070ff" stroke-width="2.5" stroke-dasharray="2.0 2.6" opacity="0.61"/><line x1="632.7" y1="44.9" x2="632.7" y2="242" stroke="#00b0ff" stroke-width="2.5" stroke-dasharray="3.9 1.7" opacity="0.63"/><line x1="647.1" y1="44.9" x2="647.1" y2="254" stroke="#0090ff" stroke-width="1.2" stroke-dasharray="3.6 1.7" opacity="0.26"/><line x1="654.2" y1="44.9" x2="654.2" y2="272" stroke="#0070ff" stroke-width="1.5" stroke-dasharray="3.0 2.2" opacity="0.40"/><rect x="670.4" y="44.9" width="1.2" height="237" fill="#00b0ff" opacity="0.52"/><line x1="679.0" y1="44.9" x2="679.0" y2="267" stroke="#10d8ff" stroke-width="1.2" stroke-dasharray="3.4 1.8" opacity="0.52"/><rect x="695.7" y="44.9" width="2.5" height="187" fill="#0090ff" opacity="0.43"/><rect x="715.7" y="44.9" width="2" height="234" fill="#40ffd0" opacity="0.54"/><rect x="727.3" y="44.9" width="2.5" height="186" fill="#0070ff" opacity="0.31"/><rect x="743.3" y="44.9" width="2" height="240" fill="#0070ff" opacity="0.53"/><line x1="760.7" y1="44.9" x2="760.7" y2="206" stroke="#10d8ff" stroke-width="1.5" stroke-dasharray="2.7 2.4" opacity="0.38"/><line x1="775.4" y1="44.9" x2="775.4" y2="262" stroke="#10d8ff" stroke-width="1.5" stroke-dasharray="1.8 2.8" opacity="0.29"/><line x1="786.6" y1="44.9" x2="786.6" y2="282" stroke="#0090ff" stroke-width="1.2" stroke-dasharray="1.7 2.2" opacity="0.51"/><rect x="797.8" y="44.9" width="1.2" height="233" fill="#0070ff" opacity="0.47"/><rect x="803.9" y="44.9" width="2.5" height="194" fill="#0070ff" opacity="0.53"/><rect x="816.5" y="44.9" width="2" height="227" fill="#0070ff" opacity="0.62"/><rect x="822.6" y="44.9" width="2.5" height="229" fill="#0070ff" opacity="0.41"/><rect x="832.9" y="44.9" width="2" height="216" fill="#00b0ff" opacity="0.65"/><rect x="845.0" y="44.9" width="1.5" height="168" fill="#00b0ff" opacity="0.30"/><line x1="181.3" y1="44.9" x2="181.3" y2="208" stroke="#00ffff" stroke-width="1.3" stroke-dasharray="1.5 4.1" opacity="0.52"/><line x1="425.3" y1="44.9" x2="425.3" y2="181" stroke="#00ffff" stroke-width="1.3" stroke-dasharray="1.5 4.4" opacity="0.58"/><line x1="703.9" y1="44.9" x2="703.9" y2="206" stroke="#40e0ff" stroke-width="1.3" stroke-dasharray="1.5 4.6" opacity="0.50"/><line x1="431.7" y1="44.9" x2="431.7" y2="228" stroke="#00ffff" stroke-width="1.3" stroke-dasharray="1.5 4.5" opacity="0.74"/><line x1="187.2" y1="44.9" x2="187.2" y2="276" stroke="#0090ff" stroke-width="1.3" stroke-dasharray="1.5 5.8" opacity="0.41"/><line x1="634.8" y1="44.9" x2="634.8" y2="261" stroke="#00ffff" stroke-width="1.3" stroke-dasharray="1.5 3.7" opacity="0.62"/><line x1="694.2" y1="44.9" x2="694.2" y2="187" stroke="#00ffff" stroke-width="1.3" stroke-dasharray="1.5 2.8" opacity="0.64"/><line x1="304.9" y1="44.9" x2="304.9" y2="242" stroke="#00ffff" stroke-width="1.3" stroke-dasharray="1.5 6.3" opacity="0.53"/><line x1="479.6" y1="44.9" x2="479.6" y2="282" stroke="#40e0ff" stroke-width="1.3" stroke-dasharray="1.5 2.5" opacity="0.56"/><line x1="472.5" y1="44.9" x2="472.5" y2="256" stroke="#00ffff" stroke-width="1.3" stroke-dasharray="1.5 6.0" opacity="0.61"/><line x1="384.3" y1="44.9" x2="384.3" y2="174" stroke="#00ffff" stroke-width="1.3" stroke-dasharray="1.5 6.0" opacity="0.50"/><line x1="812.5" y1="44.9" x2="812.5" y2="247" stroke="#ff8000" stroke-width="1.3" stroke-dasharray="1.5 3.5" opacity="0.60"/><line x1="645.8" y1="44.9" x2="645.8" y2="162" stroke="#0090ff" stroke-width="1.3" stroke-dasharray="1.5 3.8" opacity="0.45"/><line x1="388.3" y1="44.9" x2="388.3" y2="258" stroke="#40e0ff" stroke-width="1.3" stroke-dasharray="1.5 6.5" opacity="0.73"/><line x1="446.1" y1="44.9" x2="446.1" y2="285" stroke="#0090ff" stroke-width="1.3" stroke-dasharray="1.5 6.9" opacity="0.58"/><line x1="203.6" y1="44.9" x2="203.6" y2="175" stroke="#40e0ff" stroke-width="1.3" stroke-dasharray="1.5 3.1" opacity="0.50"/><line x1="470.0" y1="44.9" x2="470.0" y2="163" stroke="#0090ff" stroke-width="1.3" stroke-dasharray="1.5 4.8" opacity="0.70"/><line x1="653.3" y1="44.9" x2="653.3" y2="205" stroke="#00ffff" stroke-width="1.3" stroke-dasharray="1.5 3.1" opacity="0.46"/><line x1="463.2" y1="44.9" x2="463.2" y2="278" stroke="#00ffff" stroke-width="1.3" stroke-dasharray="1.5 6.0" opacity="0.56"/><line x1="387.1" y1="44.9" x2="387.1" y2="262" stroke="#00ffff" stroke-width="1.3" stroke-dasharray="1.5 5.5" opacity="0.47"/><line x1="367.8" y1="44.9" x2="367.8" y2="215" stroke="#00ffff" stroke-width="1.3" stroke-dasharray="1.5 6.0" opacity="0.60"/><line x1="367.2" y1="44.9" x2="367.2" y2="198" stroke="#00ffff" stroke-width="1.3" stroke-dasharray="1.5 5.2" opacity="0.64"/><line x1="599.4" y1="44.9" x2="599.4" y2="256" stroke="#00ffff" stroke-width="1.3" stroke-dasharray="1.5 6.4" opacity="0.56"/><line x1="158.3" y1="44.9" x2="158.3" y2="242" stroke="#0090ff" stroke-width="1.3" stroke-dasharray="1.5 3.7" opacity="0.69"/><line x1="383.6" y1="44.9" x2="383.6" y2="248" stroke="#ffff00" stroke-width="1.3" stroke-dasharray="1.5 5.0" opacity="0.42"/><line x1="117.0" y1="113" x2="846.2" y2="113" stroke="#20c0ff" stroke-width="1.3" stroke-dasharray="3 2" opacity="0.5"/><line x1="117.0" y1="66" x2="846.2" y2="66" stroke="#20c0ff" stroke-width="1.3" stroke-dasharray="3 2" opacity="0.3"/><line x1="117.0" y1="111.5" x2="846.2" y2="111.5" stroke="#000070" stroke-width="1.3" stroke-dasharray="3 2" opacity="0.5"/><rect x="131.2" y="44.9" width="1.6" height="255" fill="#ffd000" opacity="0.8"/><rect x="164.7" y="44.9" width="1.6" height="255" fill="#ffff00" opacity="0.8"/><rect x="180.4" y="44.9" width="1.6" height="255" fill="#ff4000" opacity="0.7"/><rect x="224.7" y="44.9" width="1.6" height="255" fill="#ffff40" opacity="0.8"/><rect x="238.6" y="44.9" width="1.6" height="255" fill="#ffb000" opacity="0.8"/><rect x="262.2" y="44.9" width="1.6" height="255" fill="#00ffff" opacity="0.8"/><rect x="340.2" y="44.9" width="1.6" height="255" fill="#ff8000" opacity="0.7"/><rect x="527.2" y="44.9" width="1.6" height="255" fill="#ffff00" opacity="0.6"/><rect x="544.2" y="44.9" width="1.6" height="255" fill="#ffd000" opacity="0.5"/><rect x="772.2" y="44.9" width="1.6" height="255" fill="#ff6000" opacity="0.7"/></g><rect x="117.0" y="44.9" width="729.2" height="255.1" filter="url(#sp0)" opacity="0.6"/><g filter="url(#bl6)"><ellipse cx="662.0" cy="247.5" rx="40.0" ry="52.5" fill="#000092" fill-opacity="0.65"/></g><rect x="117.0" y="44.9" width="729.2" height="255.1" fill="url(#up0)"/><rect x="117.0" y="44.9" width="729.2" height="165.1" fill="url(#vshade)"/><g filter="url(#bl3)"><ellipse cx="141.0" cy="301.5" rx="31.0" ry="33.5" fill="#000080" fill-opacity="0.95"/><ellipse cx="695.0" cy="294.0" rx="70.0" ry="26.0" fill="#000080" fill-opacity="0.9"/><ellipse cx="432.5" cy="298.5" rx="22.5" ry="13.5" fill="#000097" fill-opacity="0.7"/><ellipse cx="253.0" cy="292.5" rx="17.0" ry="12.5" fill="#0000ae" fill-opacity="0.6"/></g><g filter="url(#bl5)" opacity="0.95"><rect x="105.0" y="282" width="65.0" height="15" fill="#000089"/><rect x="170.0" y="282" width="25.0" height="15" fill="#0075ff"/><rect x="195.0" y="282" width="40.0" height="15" fill="#00a6ff"/><rect x="235.0" y="282" width="35.0" height="15" fill="#004dff"/><rect x="270.0" y="282" width="30.0" height="15" fill="#008aff"/><rect x="300.0" y="282" width="67.0" height="15" fill="#00b2ff"/><rect x="367.0" y="282" width="38.0" height="15" fill="#0075ff"/><rect x="405.0" y="282" width="55.0" height="15" fill="#0024ff"/><rect x="460.0" y="282" width="40.0" height="15" fill="#0075ff"/><rect x="500.0" y="282" width="60.0" height="15" fill="#00c7ff"/><rect x="560.0" y="282" width="43.0" height="15" fill="#009eff"/><rect x="603.0" y="282" width="44.0" height="15" fill="#0075ff"/><rect x="647.0" y="282" width="130.0" height="15" fill="#000097"/><rect x="777.0" y="282" width="81.2" height="15" fill="#0061ff"/><rect x="105.0" y="295" width="67.0" height="14" fill="#000089"/><rect x="172.0" y="295" width="18.0" height="14" fill="#004dff"/><rect x="190.0" y="295" width="48.0" height="14" fill="#00b2ff"/><rect x="238.0" y="295" width="12.0" height="14" fill="#004dff"/><rect x="250.0" y="295" width="30.0" height="14" fill="#0000f3"/><rect x="280.0" y="295" width="20.0" height="14" fill="#00c7ff"/><rect x="300.0" y="295" width="45.0" height="14" fill="#4affad"/><rect x="345.0" y="295" width="22.0" height="14" fill="#00c7ff"/><rect x="367.0" y="295" width="38.0" height="14" fill="#000097"/><rect x="405.0" y="295" width="55.0" height="14" fill="#000097"/><rect x="460.0" y="295" width="32.0" height="14" fill="#000097"/><rect x="492.0" y="295" width="8.0" height="14" fill="#009eff"/><rect x="500.0" y="295" width="60.0" height="14" fill="#4affad"/><rect x="560.0" y="295" width="43.0" height="14" fill="#00dbff"/><rect x="603.0" y="295" width="44.0" height="14" fill="#009eff"/><rect x="647.0" y="295" width="130.0" height="14" fill="#000089"/><rect x="777.0" y="295" width="81.2" height="14" fill="#0024ff"/><rect x="105.0" y="307" width="87.0" height="14" fill="#000089"/><rect x="192.0" y="307" width="13.0" height="14" fill="#08f0ef"/><rect x="205.0" y="307" width="35.0" height="14" fill="#9cff5a"/><rect x="240.0" y="307" width="10.0" height="14" fill="#00c7ff"/><rect x="250.0" y="307" width="32.0" height="14" fill="#0000ae"/><rect x="282.0" y="307" width="18.0" height="14" fill="#3affbd"/><rect x="300.0" y="307" width="45.0" height="14" fill="#ff8e00"/><rect x="345.0" y="307" width="15.0" height="14" fill="#6bff8c"/><rect x="360.0" y="307" width="20.0" height="14" fill="#00dbff"/><rect x="380.0" y="307" width="50.0" height="14" fill="#000097"/><rect x="430.0" y="307" width="70.0" height="14" fill="#000097"/><rect x="500.0" y="307" width="60.0" height="14" fill="#5aff9c"/><rect x="560.0" y="307" width="43.0" height="14" fill="#29ffce"/><rect x="603.0" y="307" width="47.0" height="14" fill="#08f0ef"/><rect x="650.0" y="307" width="50.0" height="14" fill="#004dff"/><rect x="700.0" y="307" width="77.0" height="14" fill="#000089"/><rect x="777.0" y="307" width="81.2" height="14" fill="#00c7ff"/><rect x="105.0" y="319" width="87.0" height="15" fill="#000089"/><rect x="192.0" y="319" width="13.0" height="15" fill="#00dbff"/><rect x="205.0" y="319" width="35.0" height="15" fill="#7bff7b"/><rect x="240.0" y="319" width="10.0" height="15" fill="#009eff"/><rect x="250.0" y="319" width="32.0" height="15" fill="#000097"/><rect x="282.0" y="319" width="18.0" height="15" fill="#3affbd"/><rect x="300.0" y="319" width="45.0" height="15" fill="#ff4200"/><rect x="345.0" y="319" width="15.0" height="15" fill="#4affad"/><rect x="360.0" y="319" width="20.0" height="15" fill="#00dbff"/><rect x="380.0" y="319" width="50.0" height="15" fill="#008aff"/><rect x="430.0" y="319" width="70.0" height="15" fill="#000097"/><rect x="500.0" y="319" width="60.0" height="15" fill="#4affad"/><rect x="560.0" y="319" width="43.0" height="15" fill="#7bff7b"/><rect x="603.0" y="319" width="47.0" height="15" fill="#00dbff"/><rect x="650.0" y="319" width="50.0" height="15" fill="#0024ff"/><rect x="700.0" y="319" width="77.0" height="15" fill="#000089"/><rect x="777.0" y="319" width="81.2" height="15" fill="#00dbff"/><rect x="105.0" y="332" width="45.0" height="14" fill="#0000dc"/><rect x="150.0" y="332" width="25.0" height="14" fill="#00c7ff"/><rect x="175.0" y="332" width="85.0" height="14" fill="#004dff"/><rect x="260.0" y="332" width="40.0" height="14" fill="#0000ae"/><rect x="300.0" y="332" width="60.0" height="14" fill="#0024ff"/><rect x="360.0" y="332" width="110.0" height="14" fill="#009eff"/><rect x="470.0" y="332" width="130.0" height="14" fill="#0000a0"/><rect x="600.0" y="332" width="50.0" height="14" fill="#0000dc"/><rect x="650.0" y="332" width="70.0" height="14" fill="#0024ff"/><rect x="720.0" y="332" width="80.0" height="14" fill="#0000ae"/><rect x="800.0" y="332" width="58.2" height="14" fill="#008aff"/><rect x="105.0" y="344" width="95.0" height="13" fill="#0000ff"/><rect x="200.0" y="344" width="70.0" height="13" fill="#0075ff"/><rect x="270.0" y="344" width="20.0" height="13" fill="#00b2ff"/><rect x="290.0" y="344" width="70.0" height="13" fill="#00dbff"/><rect x="360.0" y="344" width="110.0" height="13" fill="#00b2ff"/><rect x="470.0" y="344" width="130.0" height="13" fill="#000fff"/><rect x="600.0" y="344" width="90.0" height="13" fill="#009eff"/><rect x="690.0" y="344" width="30.0" height="13" fill="#00c7ff"/><rect x="720.0" y="344" width="60.0" height="13" fill="#0000ae"/><rect x="780.0" y="344" width="78.2" height="13" fill="#008aff"/><rect x="105.0" y="355" width="45.0" height="16" fill="#0000ae"/><rect x="150.0" y="355" width="35.0" height="16" fill="#00b2ff"/><rect x="185.0" y="355" width="95.0" height="16" fill="#0000dc"/><rect x="280.0" y="355" width="20.0" height="16" fill="#29ffce"/><rect x="300.0" y="355" width="40.0" height="16" fill="#6bff8c"/><rect x="340.0" y="355" width="20.0" height="16" fill="#29ffce"/><rect x="360.0" y="355" width="60.0" height="16" fill="#00b2ff"/><rect x="420.0" y="355" width="50.0" height="16" fill="#009eff"/><rect x="470.0" y="355" width="210.0" height="16" fill="#0000ae"/><rect x="680.0" y="355" width="40.0" height="16" fill="#0024ff"/><rect x="720.0" y="355" width="138.2" height="16" fill="#0024ff"/><rect x="105.0" y="369" width="45.0" height="16" fill="#000097"/><rect x="150.0" y="369" width="35.0" height="16" fill="#00c7ff"/><rect x="185.0" y="369" width="95.0" height="16" fill="#0000ae"/><rect x="280.0" y="369" width="150.0" height="16" fill="#0075ff"/><rect x="430.0" y="369" width="428.2" height="16" fill="#0000a0"/></g><g filter="url(#bl3)"><ellipse cx="220.0" cy="322.0" rx="20.0" ry="7.0" fill="#bdff3a" fill-opacity="0.8"/><ellipse cx="221.0" cy="323.0" rx="11.0" ry="4.0" fill="#ffd900" fill-opacity="0.7"/><ellipse cx="318.0" cy="320.5" rx="38.0" ry="16.5" fill="#ceff29" fill-opacity="0.95"/><ellipse cx="324.0" cy="324.0" rx="24.0" ry="12.0" fill="#ff5500" fill-opacity="0.95"/><ellipse cx="326.5" cy="326.0" rx="18.5" ry="8.0" fill="#c50000" fill-opacity="0.95"/><ellipse cx="327.5" cy="312.0" rx="12.5" ry="6.0" fill="#ff4200" fill-opacity="0.8"/><ellipse cx="536.0" cy="311.5" rx="24.0" ry="8.5" fill="#adff4a" fill-opacity="0.8"/><ellipse cx="577.5" cy="325.0" rx="22.5" ry="7.0" fill="#bdff3a" fill-opacity="0.8"/></g><rect x="117.0" y="283" width="729.2" height="100" filter="url(#sp0)" opacity="0.22"/><rect x="117.0" y="283" width="729.2" height="100" filter="url(#speckd)" opacity="0.25"/><rect x="126.1" y="345" width="1.8" height="110" fill="url(#spk)"/><rect x="132.1" y="340" width="1.8" height="110" fill="url(#spk)"/><rect x="142.1" y="360" width="1.8" height="80" fill="url(#spk)"/><rect x="152.1" y="350" width="1.8" height="100" fill="url(#spk)"/><rect x="165.1" y="370" width="1.8" height="70" fill="url(#spk)"/><rect x="208.1" y="360" width="1.8" height="90" fill="url(#spk)"/><rect x="219.1" y="370" width="1.8" height="60" fill="url(#spk)"/><rect x="235.1" y="340" width="1.8" height="110" fill="url(#spk)"/><rect x="265.1" y="330" width="1.8" height="120" fill="url(#spk)"/><rect x="284.1" y="350" width="1.8" height="90" fill="url(#spk)"/><rect x="296.1" y="350" width="1.8" height="110" fill="url(#spk)"/><rect x="317.1" y="330" width="1.8" height="130" fill="url(#spk)"/><rect x="333.1" y="340" width="1.8" height="100" fill="url(#spk)"/><rect x="359.1" y="360" width="1.8" height="70" fill="url(#spk)"/><rect x="401.1" y="340" width="1.8" height="100" fill="url(#spk)"/><rect x="410.1" y="350" width="1.8" height="100" fill="url(#spk)"/><rect x="431.1" y="330" width="1.8" height="120" fill="url(#spk)"/><rect x="461.1" y="330" width="1.8" height="110" fill="url(#spk)"/><rect x="485.1" y="340" width="1.8" height="120" fill="url(#spk)"/><rect x="493.1" y="330" width="1.8" height="120" fill="url(#spk)"/><rect x="505.1" y="350" width="1.8" height="100" fill="url(#spk)"/><rect x="529.1" y="360" width="1.8" height="90" fill="url(#spk)"/><rect x="549.1" y="350" width="1.8" height="90" fill="url(#spk)"/><rect x="569.1" y="360" width="1.8" height="90" fill="url(#spk)"/><rect x="590.1" y="340" width="1.8" height="100" fill="url(#spk)"/><rect x="635.1" y="330" width="1.8" height="110" fill="url(#spk)"/><rect x="649.1" y="350" width="1.8" height="100" fill="url(#spk)"/><rect x="671.1" y="320" width="1.8" height="150" fill="url(#spk)"/><rect x="689.1" y="340" width="1.8" height="100" fill="url(#spk)"/><rect x="748.1" y="320" width="1.8" height="150" fill="url(#spk)"/><rect x="772.1" y="330" width="1.8" height="180" fill="url(#spk)"/><rect x="794.1" y="340" width="1.8" height="110" fill="url(#spk)"/><rect x="811.1" y="330" width="1.8" height="130" fill="url(#spk)"/><rect x="830.1" y="330" width="1.8" height="140" fill="url(#spk)"/><rect x="551.5" y="347" width="1.6" height="50" fill="url(#spkc)"/><rect x="369.7" y="371" width="1.6" height="75" fill="url(#spkc)"/><rect x="538.5" y="338" width="1.6" height="76" fill="url(#spkc)"/><rect x="385.5" y="337" width="1.6" height="65" fill="url(#spkc)"/><rect x="187.4" y="373" width="1.6" height="80" fill="url(#spkc)"/><rect x="491.8" y="369" width="1.6" height="91" fill="url(#spkc)"/><rect x="333.8" y="374" width="1.6" height="83" fill="url(#spkc)"/><rect x="811.3" y="344" width="1.6" height="71" fill="url(#spkc)"/><rect x="167.2" y="370" width="1.6" height="87" fill="url(#spkc)"/><rect x="704.3" y="349" width="1.6" height="105" fill="url(#spkc)"/><rect x="662.7" y="371" width="1.6" height="52" fill="url(#spkc)"/><rect x="714.4" y="378" width="1.6" height="94" fill="url(#spkc)"/><rect x="440.5" y="361" width="1.6" height="66" fill="url(#spkc)"/><rect x="261.2" y="375" width="1.6" height="88" fill="url(#spkc)"/><rect x="752.7" y="342" width="1.6" height="75" fill="url(#spkc)"/><rect x="712.9" y="337" width="1.6" height="81" fill="url(#spkc)"/><rect x="447.8" y="342" width="1.6" height="95" fill="url(#spkc)"/><rect x="595.4" y="350" width="1.6" height="96" fill="url(#spkc)"/><rect x="826.0" y="334" width="1.6" height="110" fill="url(#spkc)"/><rect x="313.0" y="352" width="1.6" height="63" fill="url(#spkc)"/><rect x="157.1" y="358" width="1.6" height="57" fill="url(#spkc)"/><rect x="551.3" y="377" width="1.6" height="99" fill="url(#spkc)"/><rect x="246.6" y="340" width="1.6" height="102" fill="url(#spkc)"/><rect x="493.2" y="380" width="1.6" height="72" fill="url(#spkc)"/><rect x="535.5" y="350" width="1.6" height="55" fill="url(#spkc)"/><rect x="476.0" y="356" width="1.6" height="73" fill="url(#spkc)"/><rect x="837.1" y="365" width="1.6" height="61" fill="url(#spkc)"/><rect x="122.9" y="335" width="1.6" height="59" fill="url(#spkc)"/><rect x="207.2" y="333" width="1.6" height="97" fill="url(#spkc)"/><rect x="342.5" y="348" width="1.6" height="74" fill="url(#spkc)"/><rect x="442.8" y="347" width="1.6" height="81" fill="url(#spkc)"/><rect x="533.9" y="345" width="1.6" height="80" fill="url(#spkc)"/><rect x="231.0" y="340" width="1.6" height="70" fill="url(#spkc)"/><rect x="364.0" y="345" width="1.6" height="81" fill="url(#spkc)"/><rect x="619.6" y="359" width="1.6" height="57" fill="url(#spkc)"/><rect x="124.8" y="339" width="1.6" height="61" fill="url(#spkc)"/><rect x="694.8" y="371" width="1.6" height="61" fill="url(#spkc)"/><rect x="700.5" y="373" width="1.6" height="89" fill="url(#spkc)"/><rect x="529.1" y="347" width="1.6" height="87" fill="url(#spkc)"/><rect x="309.7" y="348" width="1.6" height="91" fill="url(#spkc)"/><rect x="266.7" y="44.9" width="1.1" height="469.0" fill="#8b0000"/><rect x="453.5" y="44.9" width="1.1" height="469.0" fill="#8b0000"/><rect x="497.8" y="44.9" width="1.1" height="469.0" fill="#8b0000"/><rect x="503.0" y="44.9" width="1.1" height="469.0" fill="#8b0000"/><rect x="525.9" y="44.9" width="1.1" height="469.0" fill="#8b0000"/><rect x="622.0" y="44.9" width="1.1" height="469.0" fill="#8b0000"/><rect x="664.4" y="44.9" width="1.1" height="469.0" fill="#8b0000"/><rect x="691.5" y="44.9" width="1.1" height="469.0" fill="#8b0000"/><rect x="828.5" y="44.9" width="1.1" height="469.0" fill="#8b0000"/><rect x="835.5" y="44.9" width="1.1" height="469.0" fill="#8b0000"/></g>
<polyline points="278.2,126.0 287.7,153.0 287.7,196.6 269.4,231.9 309.5,254.3 419.3,287.9 474.3,317.6 474.3,325.3 416.7,334.6 309.2,360.6 291.0,369.9 321.0,383.3 208.9,400.5 154.3,419.2 136.0,437.2 136.0,459.7 154.2,478.4 154.3,499.9 136.1,538.4" fill="none" stroke="#bfbf00" stroke-width="3.3" stroke-linejoin="miter"/>
<polyline points="835.9,126.0 792.8,166.2 697.4,185.3 628.1,231.9 788.5,311.3 799.4,321.0 766.6,337.1 675.5,348.6 628.1,382.6 493.3,395.9 584.3,542.4" fill="none" stroke="#bfbf00" stroke-width="3.3" stroke-linejoin="miter"/>
<g transform="translate(0,0.0)" fill="none" stroke="#ff0000" stroke-linejoin="round" stroke-linecap="round"><line x1="262" y1="46.4" x2="600" y2="46.4" stroke-width="2.4" stroke-linecap="butt"/><polyline points="600.8,47.5 584.0,49.4 563.0,59.9 542.0,69.3 521.0,79.7 500.0,92.3 483.6,102.7 469.0,117.4 456.5,130.0 441.8,142.5 431.4,153.0 421.0,163.4 414.6,173.8 412.5,182.2 416.7,190.6 418.8,203.1 421.0,211.5 431.4,217.7 448.0,226.0 456.5,230.3 464.8,240.0 470.0,246.0 484.5,262.2 506.0,274.8 535.0,285.7 556.7,294.7 571.0,303.7 574.8,309.2 556.7,318.2 535.0,325.4 491.7,330.8 470.0,334.4 437.0,342.5 391.4,356.6 366.8,367.1 358.0,377.7 361.5,386.5 349.2,393.5 340.4,400.5 338.6,412.8 340.4,426.9 345.7,437.5 352.7,448.0 359.7,458.6 368.5,472.6 377.3,493.7 387.9,507.8 395.0,516.0" stroke-width="3.6"/><polyline points="460.0,128.0 446.0,140.0 434.0,152.0 424.0,162.0 418.0,175.0 417.0,185.0 420.0,200.0" stroke-width="3.6"/><line x1="578.8" y1="52.0" x2="583.0" y2="52.0" stroke-width="2.6"/><line x1="573.0" y1="54.9" x2="576.3" y2="54.9" stroke-width="2.6"/><line x1="569.2" y1="56.8" x2="573.2" y2="56.8" stroke-width="2.6"/><line x1="565.1" y1="58.9" x2="569.3" y2="58.9" stroke-width="2.6"/><line x1="560.8" y1="60.9" x2="564.1" y2="60.9" stroke-width="2.6"/><line x1="554.8" y1="63.6" x2="555.9" y2="63.6" stroke-width="2.6"/><line x1="550.3" y1="65.6" x2="552.9" y2="65.6" stroke-width="2.6"/><line x1="546.0" y1="67.5" x2="550.7" y2="67.5" stroke-width="2.6"/><line x1="542.4" y1="69.1" x2="545.2" y2="69.1" stroke-width="2.6"/><line x1="538.4" y1="71.1" x2="540.0" y2="71.1" stroke-width="2.6"/><line x1="535.0" y1="72.7" x2="539.6" y2="72.7" stroke-width="2.6"/><line x1="530.9" y1="74.8" x2="535.6" y2="74.8" stroke-width="2.6"/><line x1="526.7" y1="76.9" x2="529.1" y2="76.9" stroke-width="2.6"/><line x1="523.1" y1="78.6" x2="524.5" y2="78.6" stroke-width="2.6"/><line x1="520.3" y1="80.1" x2="524.3" y2="80.1" stroke-width="2.6"/><line x1="515.5" y1="83.0" x2="520.3" y2="83.0" stroke-width="2.6"/><line x1="511.2" y1="85.6" x2="515.8" y2="85.6" stroke-width="2.6"/><line x1="507.2" y1="88.0" x2="510.1" y2="88.0" stroke-width="2.6"/><line x1="502.4" y1="90.9" x2="505.6" y2="90.9" stroke-width="2.6"/><line x1="499.4" y1="92.6" x2="502.7" y2="92.6" stroke-width="2.6"/><line x1="495.0" y1="95.5" x2="499.0" y2="95.5" stroke-width="2.6"/><line x1="491.4" y1="97.7" x2="495.4" y2="97.7" stroke-width="2.6"/><line x1="488.4" y1="99.7" x2="492.1" y2="99.7" stroke-width="2.6"/><line x1="484.6" y1="102.1" x2="485.8" y2="102.1" stroke-width="2.6"/><line x1="481.3" y1="105.0" x2="485.7" y2="105.0" stroke-width="2.6"/><line x1="478.7" y1="107.7" x2="480.7" y2="107.7" stroke-width="2.6"/><line x1="476.0" y1="110.3" x2="478.4" y2="110.3" stroke-width="2.6"/><line x1="474.4" y1="111.9" x2="479.0" y2="111.9" stroke-width="2.6"/><line x1="471.9" y1="114.5" x2="473.9" y2="114.5" stroke-width="2.6"/><line x1="469.7" y1="116.7" x2="471.4" y2="116.7" stroke-width="2.6"/><line x1="466.9" y1="119.5" x2="469.2" y2="119.5" stroke-width="2.6"/><line x1="464.2" y1="122.3" x2="466.8" y2="122.3" stroke-width="2.6"/><line x1="461.8" y1="124.6" x2="463.9" y2="124.6" stroke-width="2.6"/><line x1="460.3" y1="126.2" x2="461.4" y2="126.2" stroke-width="2.6"/><line x1="458.5" y1="128.0" x2="461.1" y2="128.0" stroke-width="2.6"/><line x1="456.9" y1="129.6" x2="459.8" y2="129.6" stroke-width="2.6"/><line x1="456.5" y1="130.0" x2="459.9" y2="130.0" stroke-width="2.6"/><line x1="454.1" y1="132.1" x2="457.6" y2="132.1" stroke-width="2.6"/><line x1="451.5" y1="134.3" x2="457.7" y2="134.3" stroke-width="2.6"/><line x1="448.7" y1="136.6" x2="449.8" y2="136.6" stroke-width="2.6"/><line x1="446.7" y1="138.3" x2="448.4" y2="138.3" stroke-width="2.6"/><line x1="444.1" y1="140.6" x2="449.4" y2="140.6" stroke-width="2.6"/><line x1="441.7" y1="142.6" x2="446.5" y2="142.6" stroke-width="2.6"/><line x1="440.0" y1="144.3" x2="444.3" y2="144.3" stroke-width="2.6"/><line x1="437.7" y1="146.7" x2="446.2" y2="146.7" stroke-width="2.6"/><line x1="435.5" y1="148.9" x2="442.7" y2="148.9" stroke-width="2.6"/><line x1="433.9" y1="150.5" x2="441.6" y2="150.5" stroke-width="2.6"/><line x1="431.7" y1="152.7" x2="437.6" y2="152.7" stroke-width="2.6"/><line x1="429.0" y1="155.4" x2="436.5" y2="155.4" stroke-width="2.6"/><line x1="427.0" y1="157.4" x2="431.4" y2="157.4" stroke-width="2.6"/><line x1="424.0" y1="160.4" x2="431.5" y2="160.4" stroke-width="2.6"/><line x1="421.1" y1="163.3" x2="426.5" y2="163.3" stroke-width="2.6"/><line x1="419.4" y1="165.9" x2="426.1" y2="165.9" stroke-width="2.6"/><line x1="418.0" y1="168.3" x2="424.6" y2="168.3" stroke-width="2.6"/><line x1="416.5" y1="170.8" x2="420.6" y2="170.8" stroke-width="2.6"/><line x1="415.3" y1="172.7" x2="423.8" y2="172.7" stroke-width="2.6"/><line x1="414.2" y1="175.3" x2="418.5" y2="175.3" stroke-width="2.6"/><line x1="413.7" y1="177.5" x2="423.3" y2="177.5" stroke-width="2.6"/><line x1="413.0" y1="180.1" x2="422.7" y2="180.1" stroke-width="2.6"/><line x1="412.9" y1="183.0" x2="415.9" y2="183.0" stroke-width="2.6"/><line x1="414.0" y1="185.3" x2="422.9" y2="185.3" stroke-width="2.6"/><line x1="415.5" y1="188.2" x2="425.4" y2="188.2" stroke-width="2.6"/><line x1="416.5" y1="190.1" x2="420.5" y2="190.1" stroke-width="2.6"/><line x1="417.0" y1="192.6" x2="420.4" y2="192.6" stroke-width="2.6"/><line x1="417.3" y1="194.2" x2="422.9" y2="194.2" stroke-width="2.6"/><line x1="417.8" y1="196.9" x2="423.2" y2="196.9" stroke-width="2.6"/><line x1="418.1" y1="199.2" x2="423.1" y2="199.2" stroke-width="2.6"/><line x1="540.0" y1="67.0" x2="565.0" y2="67.0" stroke-width="3.6"/><line x1="530.0" y1="72.4" x2="554.7" y2="72.4" stroke-width="3.6"/><line x1="515.0" y1="79.7" x2="533.8" y2="79.7" stroke-width="3.6"/><line x1="500.0" y1="91.2" x2="515.0" y2="91.2" stroke-width="3.6"/><line x1="485.0" y1="100.6" x2="507.7" y2="100.6" stroke-width="3.6"/><line x1="470.0" y1="114.2" x2="505.6" y2="114.2" stroke-width="3.6"/><line x1="460.0" y1="123.6" x2="480.5" y2="123.6" stroke-width="3.6"/><line x1="458.0" y1="126.0" x2="478.0" y2="126.0" stroke-width="3.6"/><line x1="430.0" y1="159.2" x2="450.2" y2="159.2" stroke-width="3.6"/><line x1="421.0" y1="165.5" x2="437.6" y2="165.5" stroke-width="3.6"/><line x1="413.0" y1="178.0" x2="429.3" y2="178.0" stroke-width="3.6"/><line x1="413.0" y1="185.3" x2="431.4" y2="185.3" stroke-width="3.6"/><line x1="415.0" y1="191.0" x2="428.0" y2="191.0" stroke-width="3.6"/></g>
</g>
<rect x="189.2" y="44.9" width="2.9" height="9.8" fill="#ff0000"/>
<rect x="335.1" y="44.9" width="2.9" height="9.8" fill="#ff0000"/>
<rect x="480.9" y="44.9" width="2.9" height="9.8" fill="#ff0000"/>
<rect x="626.6" y="44.9" width="2.9" height="9.8" fill="#ff0000"/>
<rect x="772.5" y="44.9" width="2.9" height="9.8" fill="#ff0000"/>
<rect x="117.0" y="44.9" width="729.2" height="469.0" fill="none" stroke="#000" stroke-width="1.6"/>
<line x1="117.0" y1="513.9" x2="117.0" y2="520.9" stroke="#000" stroke-width="1.6"/>
<text transform="translate(117.0,543.6) scale(1.060,1)" text-anchor="middle" fill="#000" stroke="#000" stroke-width="0.35" xml:space="preserve" style="font-family:'Liberation Sans',sans-serif;font-size:21px">1</text>
<line x1="164.0" y1="513.9" x2="164.0" y2="520.9" stroke="#000" stroke-width="1.6"/>
<text transform="translate(164.0,543.6) scale(1.060,1)" text-anchor="middle" fill="#000" stroke="#000" stroke-width="0.35" xml:space="preserve" style="font-family:'Liberation Sans',sans-serif;font-size:21px">3</text>
<line x1="211.1" y1="513.9" x2="211.1" y2="520.9" stroke="#000" stroke-width="1.6"/>
<text transform="translate(211.1,543.6) scale(1.060,1)" text-anchor="middle" fill="#000" stroke="#000" stroke-width="0.35" xml:space="preserve" style="font-family:'Liberation Sans',sans-serif;font-size:21px">5</text>
<line x1="258.1" y1="513.9" x2="258.1" y2="520.9" stroke="#000" stroke-width="1.6"/>
<text transform="translate(258.1,543.6) scale(1.060,1)" text-anchor="middle" fill="#000" stroke="#000" stroke-width="0.35" xml:space="preserve" style="font-family:'Liberation Sans',sans-serif;font-size:21px">7</text>
<line x1="305.2" y1="513.9" x2="305.2" y2="520.9" stroke="#000" stroke-width="1.6"/>
<text transform="translate(305.2,543.6) scale(1.060,1)" text-anchor="middle" fill="#000" stroke="#000" stroke-width="0.35" xml:space="preserve" style="font-family:'Liberation Sans',sans-serif;font-size:21px">9</text>
<line x1="352.2" y1="513.9" x2="352.2" y2="520.9" stroke="#000" stroke-width="1.6"/>
<text transform="translate(352.2,543.6) scale(1.060,1)" text-anchor="middle" fill="#000" stroke="#000" stroke-width="0.35" xml:space="preserve" style="font-family:'Liberation Sans',sans-serif;font-size:21px">11</text>
<line x1="399.3" y1="513.9" x2="399.3" y2="520.9" stroke="#000" stroke-width="1.6"/>
<text transform="translate(399.3,543.6) scale(1.060,1)" text-anchor="middle" fill="#000" stroke="#000" stroke-width="0.35" xml:space="preserve" style="font-family:'Liberation Sans',sans-serif;font-size:21px">13</text>
<line x1="446.3" y1="513.9" x2="446.3" y2="520.9" stroke="#000" stroke-width="1.6"/>
<text transform="translate(446.3,543.6) scale(1.060,1)" text-anchor="middle" fill="#000" stroke="#000" stroke-width="0.35" xml:space="preserve" style="font-family:'Liberation Sans',sans-serif;font-size:21px">15</text>
<line x1="493.4" y1="513.9" x2="493.4" y2="520.9" stroke="#000" stroke-width="1.6"/>
<text transform="translate(493.4,543.6) scale(1.060,1)" text-anchor="middle" fill="#000" stroke="#000" stroke-width="0.35" xml:space="preserve" style="font-family:'Liberation Sans',sans-serif;font-size:21px">17</text>
<line x1="540.4" y1="513.9" x2="540.4" y2="520.9" stroke="#000" stroke-width="1.6"/>
<text transform="translate(540.4,543.6) scale(1.060,1)" text-anchor="middle" fill="#000" stroke="#000" stroke-width="0.35" xml:space="preserve" style="font-family:'Liberation Sans',sans-serif;font-size:21px">19</text>
<line x1="587.5" y1="513.9" x2="587.5" y2="520.9" stroke="#000" stroke-width="1.6"/>
<text transform="translate(587.5,543.6) scale(1.060,1)" text-anchor="middle" fill="#000" stroke="#000" stroke-width="0.35" xml:space="preserve" style="font-family:'Liberation Sans',sans-serif;font-size:21px">21</text>
<line x1="634.5" y1="513.9" x2="634.5" y2="520.9" stroke="#000" stroke-width="1.6"/>
<text transform="translate(634.5,543.6) scale(1.060,1)" text-anchor="middle" fill="#000" stroke="#000" stroke-width="0.35" xml:space="preserve" style="font-family:'Liberation Sans',sans-serif;font-size:21px">23</text>
<line x1="681.5" y1="513.9" x2="681.5" y2="520.9" stroke="#000" stroke-width="1.6"/>
<text transform="translate(681.5,543.6) scale(1.060,1)" text-anchor="middle" fill="#000" stroke="#000" stroke-width="0.35" xml:space="preserve" style="font-family:'Liberation Sans',sans-serif;font-size:21px">25</text>
<line x1="728.6" y1="513.9" x2="728.6" y2="520.9" stroke="#000" stroke-width="1.6"/>
<text transform="translate(728.6,543.6) scale(1.060,1)" text-anchor="middle" fill="#000" stroke="#000" stroke-width="0.35" xml:space="preserve" style="font-family:'Liberation Sans',sans-serif;font-size:21px">27</text>
<line x1="775.6" y1="513.9" x2="775.6" y2="520.9" stroke="#000" stroke-width="1.6"/>
<text transform="translate(775.6,543.6) scale(1.060,1)" text-anchor="middle" fill="#000" stroke="#000" stroke-width="0.35" xml:space="preserve" style="font-family:'Liberation Sans',sans-serif;font-size:21px">29</text>
<line x1="822.7" y1="513.9" x2="822.7" y2="520.9" stroke="#000" stroke-width="1.6"/>
<text transform="translate(822.7,543.6) scale(1.060,1)" text-anchor="middle" fill="#000" stroke="#000" stroke-width="0.35" xml:space="preserve" style="font-family:'Liberation Sans',sans-serif;font-size:21px">31</text>
<line x1="110.0" y1="126.0" x2="117.0" y2="126.0" stroke="#000" stroke-width="1.6"/>
<text transform="translate(91.2,135.6) scale(1.080,1)" text-anchor="end" fill="#000" stroke="#000" stroke-width="0.35" xml:space="preserve" style="font-family:'Liberation Sans',sans-serif;font-size:21px">10</text>
<text transform="translate(94.3,127.2) scale(1.050,1)" text-anchor="start" fill="#000" stroke="#000" stroke-width="0.35" xml:space="preserve" style="font-family:'Liberation Sans',sans-serif;font-size:14.6px">1</text>
<line x1="110.0" y1="243.3" x2="117.0" y2="243.3" stroke="#000" stroke-width="1.6"/>
<text transform="translate(91.2,252.9) scale(1.080,1)" text-anchor="end" fill="#000" stroke="#000" stroke-width="0.35" xml:space="preserve" style="font-family:'Liberation Sans',sans-serif;font-size:21px">10</text>
<text transform="translate(94.3,244.5) scale(1.050,1)" text-anchor="start" fill="#000" stroke="#000" stroke-width="0.35" xml:space="preserve" style="font-family:'Liberation Sans',sans-serif;font-size:14.6px">0</text>
<line x1="110.0" y1="360.6" x2="117.0" y2="360.6" stroke="#000" stroke-width="1.6"/>
<text transform="translate(80.2,370.2) scale(1.080,1)" text-anchor="end" fill="#000" stroke="#000" stroke-width="0.35" xml:space="preserve" style="font-family:'Liberation Sans',sans-serif;font-size:21px">10</text>
<text transform="translate(83.6,361.8) scale(1.050,1)" text-anchor="start" fill="#000" stroke="#000" stroke-width="0.35" xml:space="preserve" style="font-family:'Liberation Sans',sans-serif;font-size:14.6px">−1</text>
<line x1="110.0" y1="477.9" x2="117.0" y2="477.9" stroke="#000" stroke-width="1.6"/>
<text transform="translate(80.2,487.5) scale(1.080,1)" text-anchor="end" fill="#000" stroke="#000" stroke-width="0.35" xml:space="preserve" style="font-family:'Liberation Sans',sans-serif;font-size:21px">10</text>
<text transform="translate(83.6,479.1) scale(1.050,1)" text-anchor="start" fill="#000" stroke="#000" stroke-width="0.35" xml:space="preserve" style="font-family:'Liberation Sans',sans-serif;font-size:14.6px">−2</text>
<line x1="113.0" y1="513.2" x2="117.0" y2="513.2" stroke="#000" stroke-width="1.2"/>
<line x1="113.0" y1="503.9" x2="117.0" y2="503.9" stroke="#000" stroke-width="1.2"/>
<line x1="113.0" y1="496.1" x2="117.0" y2="496.1" stroke="#000" stroke-width="1.2"/>
<line x1="113.0" y1="489.3" x2="117.0" y2="489.3" stroke="#000" stroke-width="1.2"/>
<line x1="113.0" y1="483.3" x2="117.0" y2="483.3" stroke="#000" stroke-width="1.2"/>
<line x1="113.0" y1="442.6" x2="117.0" y2="442.6" stroke="#000" stroke-width="1.2"/>
<line x1="113.0" y1="421.9" x2="117.0" y2="421.9" stroke="#000" stroke-width="1.2"/>
<line x1="113.0" y1="407.3" x2="117.0" y2="407.3" stroke="#000" stroke-width="1.2"/>
<line x1="113.0" y1="395.9" x2="117.0" y2="395.9" stroke="#000" stroke-width="1.2"/>
<line x1="113.0" y1="386.6" x2="117.0" y2="386.6" stroke="#000" stroke-width="1.2"/>
<line x1="113.0" y1="378.8" x2="117.0" y2="378.8" stroke="#000" stroke-width="1.2"/>
<line x1="113.0" y1="372.0" x2="117.0" y2="372.0" stroke="#000" stroke-width="1.2"/>
<line x1="113.0" y1="366.0" x2="117.0" y2="366.0" stroke="#000" stroke-width="1.2"/>
<line x1="113.0" y1="325.3" x2="117.0" y2="325.3" stroke="#000" stroke-width="1.2"/>
<line x1="113.0" y1="304.6" x2="117.0" y2="304.6" stroke="#000" stroke-width="1.2"/>
<line x1="113.0" y1="290.0" x2="117.0" y2="290.0" stroke="#000" stroke-width="1.2"/>
<line x1="113.0" y1="278.6" x2="117.0" y2="278.6" stroke="#000" stroke-width="1.2"/>
<line x1="113.0" y1="269.3" x2="117.0" y2="269.3" stroke="#000" stroke-width="1.2"/>
<line x1="113.0" y1="261.5" x2="117.0" y2="261.5" stroke="#000" stroke-width="1.2"/>
<line x1="113.0" y1="254.7" x2="117.0" y2="254.7" stroke="#000" stroke-width="1.2"/>
<line x1="113.0" y1="248.7" x2="117.0" y2="248.7" stroke="#000" stroke-width="1.2"/>
<line x1="113.0" y1="208.0" x2="117.0" y2="208.0" stroke="#000" stroke-width="1.2"/>
<line x1="113.0" y1="187.3" x2="117.0" y2="187.3" stroke="#000" stroke-width="1.2"/>
<line x1="113.0" y1="172.7" x2="117.0" y2="172.7" stroke="#000" stroke-width="1.2"/>
<line x1="113.0" y1="161.3" x2="117.0" y2="161.3" stroke="#000" stroke-width="1.2"/>
<line x1="113.0" y1="152.0" x2="117.0" y2="152.0" stroke="#000" stroke-width="1.2"/>
<line x1="113.0" y1="144.2" x2="117.0" y2="144.2" stroke="#000" stroke-width="1.2"/>
<line x1="113.0" y1="137.4" x2="117.0" y2="137.4" stroke="#000" stroke-width="1.2"/>
<line x1="113.0" y1="131.4" x2="117.0" y2="131.4" stroke="#000" stroke-width="1.2"/>
<line x1="113.0" y1="90.7" x2="117.0" y2="90.7" stroke="#000" stroke-width="1.2"/>
<line x1="113.0" y1="70.0" x2="117.0" y2="70.0" stroke="#000" stroke-width="1.2"/>
<line x1="113.0" y1="55.4" x2="117.0" y2="55.4" stroke="#000" stroke-width="1.2"/>
<text transform="translate(189.5,41.0) scale(1.110,1)" text-anchor="middle" fill="#ff0000" stroke="#ff0000" stroke-width="0.35" xml:space="preserve" style="font-family:'Liberation Sans',sans-serif;font-size:21px">-180dB</text>
<text transform="translate(335.3,41.0) scale(1.110,1)" text-anchor="middle" fill="#ff0000" stroke="#ff0000" stroke-width="0.35" xml:space="preserve" style="font-family:'Liberation Sans',sans-serif;font-size:21px">-160dB</text>
<text transform="translate(481.1,41.0) scale(1.110,1)" text-anchor="middle" fill="#ff0000" stroke="#ff0000" stroke-width="0.35" xml:space="preserve" style="font-family:'Liberation Sans',sans-serif;font-size:21px">-140dB</text>
<text transform="translate(626.9,41.0) scale(1.110,1)" text-anchor="middle" fill="#ff0000" stroke="#ff0000" stroke-width="0.35" xml:space="preserve" style="font-family:'Liberation Sans',sans-serif;font-size:21px">-120dB</text>
<text transform="translate(772.7,41.0) scale(1.110,1)" text-anchor="middle" fill="#ff0000" stroke="#ff0000" stroke-width="0.35" xml:space="preserve" style="font-family:'Liberation Sans',sans-serif;font-size:21px">-100dB</text>
<text transform="translate(477.4,572.9) scale(1.045,1)" text-anchor="middle" fill="#000" stroke="#000" stroke-width="0.35" xml:space="preserve" style="font-family:'Liberation Sans',sans-serif;font-size:21px">August 2023 UP KALU  HHE</text>
<text transform="translate(39.8,280.2) rotate(-90) scale(1.140,1)" text-anchor="middle" fill="#000" stroke="#000" stroke-width="0.35" xml:space="preserve" style="font-family:'Liberation Sans',sans-serif;font-size:21px">f [Hz]</text>
<rect x="892.1" y="44.9" width="22.4" height="469.0" fill="url(#jetg)"/>
<rect x="892.1" y="44.9" width="22.4" height="469.0" fill="none" stroke="#000" stroke-width="1.6"/>
<line x1="914.5" y1="44.9" x2="921.9" y2="44.9" stroke="#000" stroke-width="1.6"/>
<text transform="translate(930.2,52.5) scale(1.060,1)" text-anchor="start" fill="#000" stroke="#000" stroke-width="0.35" xml:space="preserve" style="font-family:'Liberation Sans',sans-serif;font-size:21px">20</text>
<line x1="914.5" y1="138.7" x2="921.9" y2="138.7" stroke="#000" stroke-width="1.6"/>
<text transform="translate(930.2,146.3) scale(1.060,1)" text-anchor="start" fill="#000" stroke="#000" stroke-width="0.35" xml:space="preserve" style="font-family:'Liberation Sans',sans-serif;font-size:21px">15</text>
<line x1="914.5" y1="232.5" x2="921.9" y2="232.5" stroke="#000" stroke-width="1.6"/>
<text transform="translate(930.2,240.1) scale(1.060,1)" text-anchor="start" fill="#000" stroke="#000" stroke-width="0.35" xml:space="preserve" style="font-family:'Liberation Sans',sans-serif;font-size:21px">10</text>
<line x1="914.5" y1="326.3" x2="921.9" y2="326.3" stroke="#000" stroke-width="1.6"/>
<text transform="translate(930.2,333.9) scale(1.060,1)" text-anchor="start" fill="#000" stroke="#000" stroke-width="0.35" xml:space="preserve" style="font-family:'Liberation Sans',sans-serif;font-size:21px">5</text>
<line x1="914.5" y1="420.1" x2="921.9" y2="420.1" stroke="#000" stroke-width="1.6"/>
<text transform="translate(930.2,427.7) scale(1.060,1)" text-anchor="start" fill="#000" stroke="#000" stroke-width="0.35" xml:space="preserve" style="font-family:'Liberation Sans',sans-serif;font-size:21px">0</text>
<line x1="914.5" y1="513.9" x2="921.9" y2="513.9" stroke="#000" stroke-width="1.6"/>
<text transform="translate(930.2,521.5) scale(1.200,1)" text-anchor="start" fill="#000" stroke="#000" stroke-width="0.35" xml:space="preserve" style="font-family:'Liberation Sans',sans-serif;font-size:21px">−5</text>
<text transform="translate(983.5,279.4) rotate(-90) scale(1.133,1)" text-anchor="middle" fill="#000" stroke="#000" stroke-width="0.35" xml:space="preserve" style="font-family:'Liberation Sans',sans-serif;font-size:21px">residual [dB] from average curve</text><clipPath id="cp1"><rect x="117.0" y="646.9" width="729.2" height="469.0"/></clipPath>
<g clip-path="url(#cp1)">
<g transform="translate(0,602.0)"><rect x="117.0" y="44.9" width="729.2" height="469.0" fill="#0000a0"/><g><rect x="115.0" y="433" width="2.6" height="83" fill="url(#sLB)"/><rect x="119.7" y="415" width="2.0" height="101" fill="url(#sLB)"/><rect x="122.6" y="401" width="3.2" height="114" fill="url(#sB)"/><rect x="128.8" y="370" width="3.9" height="146" fill="url(#sB)"/><rect x="133.6" y="392" width="5.2" height="123" fill="url(#sB)"/><rect x="140.7" y="397" width="6.1" height="119" fill="url(#sY)"/><rect x="147.0" y="373" width="4.1" height="143" fill="url(#sY)"/><rect x="152.8" y="395" width="5.1" height="121" fill="url(#sY)"/><rect x="158.7" y="421" width="6.1" height="95" fill="url(#sY)"/><rect x="165.7" y="405" width="4.1" height="111" fill="url(#sR)"/><rect x="170.5" y="366" width="5.1" height="150" fill="url(#sG)"/><rect x="176.8" y="397" width="3.1" height="119" fill="url(#sG)"/><rect x="180.5" y="416" width="3.9" height="100" fill="url(#sLB)"/><rect x="187.1" y="401" width="5.2" height="115" fill="url(#sLB)"/><rect x="194.3" y="430" width="3.2" height="86" fill="url(#sC)"/><rect x="198.4" y="437" width="2.0" height="79" fill="url(#sLB)"/><rect x="200.8" y="436" width="5.2" height="80" fill="url(#sLB)"/><rect x="209.3" y="416" width="2.8" height="100" fill="url(#sY)"/><rect x="213.4" y="424" width="5.5" height="91" fill="url(#sG)"/><rect x="219.4" y="420" width="3.7" height="96" fill="url(#sC)"/><rect x="225.1" y="371" width="2.6" height="145" fill="url(#sLB)"/><rect x="228.4" y="370" width="3.9" height="146" fill="url(#sB)"/><rect x="234.4" y="400" width="3.2" height="116" fill="url(#sLB)"/><rect x="238.5" y="372" width="3.2" height="144" fill="url(#sLB)"/><rect x="245.3" y="397" width="2.6" height="119" fill="url(#sB)"/><rect x="250.0" y="383" width="3.2" height="133" fill="url(#sLB)"/><rect x="254.4" y="366" width="2.6" height="150" fill="url(#sG)"/><rect x="259.5" y="414" width="6.4" height="102" fill="url(#sR)"/><rect x="266.0" y="400" width="5.3" height="116" fill="url(#sY)"/><rect x="271.8" y="390" width="5.3" height="126" fill="url(#sY)"/><rect x="278.9" y="432" width="5.3" height="84" fill="url(#sY)"/><rect x="285.0" y="404" width="4.3" height="112" fill="url(#sG)"/><rect x="289.8" y="391" width="4.3" height="125" fill="url(#sY)"/><rect x="294.8" y="416" width="4.3" height="100" fill="url(#sY)"/><rect x="300.4" y="381" width="8.6" height="135" fill="url(#sY)"/><rect x="309.8" y="416" width="5.3" height="100" fill="url(#sY)"/><rect x="316.5" y="380" width="6.4" height="136" fill="url(#sG)"/><rect x="324.7" y="369" width="2.7" height="147" fill="url(#sLB)"/><rect x="330.9" y="398" width="4.1" height="118" fill="url(#sLB)"/><rect x="335.3" y="436" width="2.7" height="80" fill="url(#sLB)"/><rect x="340.8" y="434" width="5.4" height="82" fill="url(#sLB)"/><rect x="346.6" y="415" width="4.1" height="101" fill="url(#sLB)"/><rect x="353.4" y="421" width="4.1" height="95" fill="url(#sC)"/><rect x="360.5" y="410" width="4.8" height="106" fill="url(#sC)"/><rect x="365.6" y="425" width="5.2" height="91" fill="url(#sB)"/><rect x="372.2" y="400" width="2.6" height="116" fill="url(#sLB)"/><rect x="378.5" y="383" width="3.2" height="133" fill="url(#sG)"/><rect x="382.2" y="439" width="3.2" height="77" fill="url(#sY)"/><rect x="386.7" y="420" width="4.3" height="96" fill="url(#sY)"/><rect x="392.1" y="399" width="4.3" height="117" fill="url(#sY)"/><rect x="396.6" y="436" width="8.6" height="80" fill="url(#sG)"/><rect x="406.6" y="373" width="4.3" height="143" fill="url(#sY)"/><rect x="411.9" y="433" width="5.8" height="83" fill="url(#sB)"/><rect x="419.6" y="373" width="2.9" height="143" fill="url(#sLB)"/><rect x="425.6" y="418" width="5.8" height="97" fill="url(#sLB)"/><rect x="434.5" y="395" width="4.4" height="121" fill="url(#sC)"/><rect x="439.3" y="416" width="4.4" height="100" fill="url(#sLB)"/><rect x="444.0" y="383" width="3.2" height="133" fill="url(#sB)"/><rect x="450.0" y="393" width="5.2" height="122" fill="url(#sLB)"/><rect x="458.2" y="417" width="3.2" height="99" fill="url(#sC)"/><rect x="462.5" y="400" width="2.6" height="116" fill="url(#sLB)"/><rect x="466.0" y="402" width="2.6" height="114" fill="url(#sB)"/><rect x="470.5" y="422" width="3.2" height="94" fill="url(#sB)"/><rect x="476.7" y="382" width="2.0" height="134" fill="url(#sB)"/><rect x="480.7" y="375" width="3.9" height="141" fill="url(#sB)"/><rect x="486.9" y="393" width="5.2" height="123" fill="url(#sLB)"/><rect x="495.1" y="435" width="8.2" height="81" fill="url(#sR)"/><rect x="503.9" y="415" width="6.1" height="101" fill="url(#sR)"/><rect x="510.3" y="401" width="5.1" height="115" fill="url(#sY)"/><rect x="517.3" y="368" width="4.8" height="148" fill="url(#sG)"/><rect x="522.4" y="402" width="3.2" height="114" fill="url(#sLB)"/><rect x="526.7" y="397" width="3.2" height="119" fill="url(#sLB)"/><rect x="531.8" y="385" width="3.7" height="131" fill="url(#sLB)"/><rect x="541.8" y="386" width="5.0" height="130" fill="url(#sLB)"/><rect x="549.5" y="415" width="7.0" height="101" fill="url(#sC)"/><rect x="557.3" y="369" width="7.0" height="147" fill="url(#sLB)"/><rect x="565.6" y="421" width="1.9" height="94" fill="url(#sLB)"/><rect x="570.8" y="412" width="3.1" height="104" fill="url(#sLB)"/><rect x="575.1" y="423" width="2.5" height="93" fill="url(#sC)"/><rect x="582.7" y="373" width="3.7" height="143" fill="url(#sLB)"/><rect x="591.4" y="370" width="5.0" height="146" fill="url(#sB)"/><rect x="600.9" y="427" width="2.8" height="89" fill="url(#sB)"/><rect x="607.2" y="430" width="2.2" height="86" fill="url(#sB)"/><rect x="624.3" y="422" width="4.4" height="93" fill="url(#sB)"/><rect x="636.5" y="433" width="2.2" height="83" fill="url(#sB)"/><rect x="640.5" y="373" width="4.4" height="143" fill="url(#sLB)"/><rect x="648.6" y="405" width="2.2" height="111" fill="url(#sLB)"/><rect x="660.9" y="409" width="4.4" height="107" fill="url(#sB)"/><rect x="677.4" y="420" width="4.4" height="96" fill="url(#sB)"/><rect x="684.1" y="379" width="4.4" height="137" fill="url(#sB)"/><rect x="697.2" y="402" width="3.3" height="113" fill="url(#sB)"/><rect x="706.5" y="402" width="2.2" height="113" fill="url(#sB)"/><rect x="717.5" y="425" width="2.8" height="90" fill="url(#sB)"/><rect x="722.3" y="366" width="1.7" height="150" fill="url(#sB)"/><rect x="730.2" y="435" width="2.2" height="81" fill="url(#sB)"/><rect x="743.7" y="383" width="3.3" height="132" fill="url(#sC)"/><rect x="762.1" y="390" width="4.4" height="126" fill="url(#sB)"/><rect x="782.9" y="389" width="3.3" height="127" fill="url(#sLB)"/><rect x="796.5" y="404" width="2.8" height="112" fill="url(#sB)"/><rect x="807.1" y="419" width="2.2" height="97" fill="url(#sLB)"/><rect x="810.4" y="427" width="3.3" height="89" fill="url(#sB)"/><rect x="827.4" y="398" width="2.2" height="117" fill="url(#sB)"/><rect x="845.7" y="371" width="1.7" height="145" fill="url(#sB)"/><rect x="138.0" y="392" width="8" height="124" fill="url(#sG)"/><rect x="150.0" y="385" width="10" height="131" fill="url(#sY)"/><rect x="162.0" y="392" width="6" height="124" fill="url(#sY)"/><rect x="170.0" y="392" width="8" height="124" fill="url(#sG)"/><rect x="210.0" y="392" width="8" height="124" fill="url(#sG)"/><rect x="222.0" y="392" width="8" height="124" fill="url(#sC)"/><rect x="262.0" y="385" width="9" height="131" fill="url(#sY)"/><rect x="272.0" y="392" width="6" height="124" fill="url(#sY)"/><rect x="286.0" y="385" width="8" height="131" fill="url(#sY)"/><rect x="294.0" y="392" width="6" height="124" fill="url(#sG)"/><rect x="310.0" y="392" width="6" height="124" fill="url(#sC)"/><rect x="355.0" y="392" width="8" height="124" fill="url(#sG)"/><rect x="379.0" y="385" width="10" height="131" fill="url(#sY)"/><rect x="389.0" y="385" width="8" height="131" fill="url(#sY)"/><rect x="397.0" y="392" width="6" height="124" fill="url(#sG)"/><rect x="410.0" y="400" width="6" height="116" fill="url(#sC)"/><rect x="428.0" y="395" width="10" height="121" fill="url(#sC)"/><rect x="455.0" y="400" width="5" height="116" fill="url(#sC)"/><rect x="495.0" y="392" width="8" height="124" fill="url(#sY)"/><rect x="503.0" y="392" width="6" height="124" fill="url(#sG)"/><rect x="524.0" y="400" width="4" height="116" fill="url(#sY)"/><rect x="575.0" y="400" width="4" height="116" fill="url(#sC)"/><rect x="593.0" y="410" width="4" height="106" fill="url(#sC)"/><rect x="622.0" y="400" width="4" height="116" fill="url(#sC)"/><rect x="643.0" y="410" width="4" height="106" fill="url(#sC)"/><rect x="701.0" y="410" width="4" height="106" fill="url(#sC)"/><rect x="745.0" y="410" width="4" height="106" fill="url(#sC)"/><rect x="770.0" y="420" width="3" height="96" fill="url(#sY)"/><rect x="831.0" y="400" width="6" height="116" fill="url(#sG)"/><rect x="838.0" y="400" width="4" height="116" fill="url(#sC)"/><rect x="240.0" y="410" width="4" height="106" fill="url(#sC)"/><rect x="330.0" y="410" width="4" height="106" fill="url(#sC)"/><rect x="470.0" y="410" width="4" height="106" fill="url(#sC)"/><rect x="540.0" y="420" width="3" height="96" fill="url(#sC)"/><rect x="660.0" y="420" width="3" height="96" fill="url(#sC)"/><rect x="800.0" y="410" width="4" height="106" fill="url(#sC)"/><rect x="270.0" y="400" width="3" height="116" fill="url(#sR)"/><rect x="285.0" y="395" width="3" height="121" fill="url(#sR)"/><rect x="301.0" y="400" width="3" height="116" fill="url(#sR)"/><rect x="391.0" y="395" width="3" height="121" fill="url(#sR)"/><rect x="399.0" y="400" width="2" height="116" fill="url(#sR)"/><rect x="505.0" y="395" width="3" height="121" fill="url(#sR)"/><rect x="160.0" y="410" width="3" height="106" fill="url(#sR)"/></g><g filter="url(#bl4)"><rect x="105.0" y="30" width="30.0" height="172" fill="#0000e1"/><rect x="135.0" y="30" width="5.0" height="172" fill="#0000ca"/><rect x="140.0" y="30" width="35.0" height="172" fill="#0000ca"/><rect x="175.0" y="30" width="5.0" height="172" fill="#0000e1"/><rect x="180.0" y="30" width="20.0" height="172" fill="#0000e1"/><rect x="200.0" y="30" width="10.0" height="172" fill="#0000d3"/><rect x="210.0" y="30" width="30.0" height="172" fill="#0000d3"/><rect x="240.0" y="30" width="20.0" height="172" fill="#0000d3"/><rect x="260.0" y="30" width="5.0" height="172" fill="#0000ff"/><rect x="265.0" y="30" width="25.0" height="172" fill="#0000ff"/><rect x="290.0" y="30" width="20.0" height="172" fill="#0000e1"/><rect x="310.0" y="30" width="10.0" height="172" fill="#0000c5"/><rect x="320.0" y="30" width="15.0" height="172" fill="#0000c5"/><rect x="335.0" y="30" width="25.0" height="172" fill="#0000c5"/><rect x="360.0" y="30" width="5.0" height="172" fill="#0000ea"/><rect x="365.0" y="30" width="10.0" height="172" fill="#0000ea"/><rect x="375.0" y="30" width="5.0" height="172" fill="#0000ca"/><rect x="380.0" y="30" width="30.0" height="172" fill="#0000ca"/><rect x="410.0" y="30" width="10.0" height="172" fill="#0000ca"/><rect x="420.0" y="30" width="20.0" height="172" fill="#0000e1"/><rect x="440.0" y="30" width="10.0" height="172" fill="#0000ca"/><rect x="450.0" y="30" width="32.0" height="172" fill="#0000ca"/><rect x="482.0" y="30" width="38.0" height="172" fill="#0000ca"/><rect x="520.0" y="30" width="35.0" height="172" fill="#0000d8"/><rect x="555.0" y="30" width="5.0" height="172" fill="#0000d8"/><rect x="560.0" y="30" width="30.0" height="172" fill="#0000f8"/><rect x="590.0" y="30" width="10.0" height="172" fill="#0000f8"/><rect x="600.0" y="30" width="10.0" height="172" fill="#0000e1"/><rect x="610.0" y="30" width="10.0" height="172" fill="#0000e1"/><rect x="620.0" y="30" width="6.0" height="172" fill="#0000f8"/><rect x="626.0" y="30" width="14.0" height="172" fill="#0000f8"/><rect x="640.0" y="30" width="40.0" height="172" fill="#0000ea"/><rect x="680.0" y="30" width="20.0" height="172" fill="#0000ca"/><rect x="700.0" y="30" width="45.0" height="172" fill="#0000a9"/><rect x="745.0" y="30" width="10.0" height="172" fill="#0000a9"/><rect x="755.0" y="30" width="45.0" height="172" fill="#0000ff"/><rect x="800.0" y="30" width="15.0" height="172" fill="#0000ff"/><rect x="815.0" y="30" width="43.2" height="172" fill="#0000ea"/><rect x="105.0" y="200" width="30.0" height="36" fill="#0000dc"/><rect x="135.0" y="200" width="5.0" height="36" fill="#0000d1"/><rect x="140.0" y="200" width="5.0" height="36" fill="#0000d1"/><rect x="145.0" y="200" width="30.0" height="36" fill="#0036ff"/><rect x="175.0" y="200" width="5.0" height="36" fill="#0040ff"/><rect x="180.0" y="200" width="13.0" height="36" fill="#0040ff"/><rect x="193.0" y="200" width="7.0" height="36" fill="#0000e8"/><rect x="200.0" y="200" width="7.0" height="36" fill="#0000e1"/><rect x="207.0" y="200" width="3.0" height="36" fill="#0034ff"/><rect x="210.0" y="200" width="30.0" height="36" fill="#0034ff"/><rect x="240.0" y="200" width="9.0" height="36" fill="#0034ff"/><rect x="249.0" y="200" width="11.0" height="36" fill="#0000e1"/><rect x="260.0" y="200" width="5.0" height="36" fill="#0000f8"/><rect x="265.0" y="200" width="5.0" height="36" fill="#0000f8"/><rect x="270.0" y="200" width="20.0" height="36" fill="#005dff"/><rect x="290.0" y="200" width="20.0" height="36" fill="#004fff"/><rect x="310.0" y="200" width="10.0" height="36" fill="#0042ff"/><rect x="320.0" y="200" width="15.0" height="36" fill="#0042ff"/><rect x="335.0" y="200" width="4.0" height="36" fill="#0042ff"/><rect x="339.0" y="200" width="21.0" height="36" fill="#0000e6"/><rect x="360.0" y="200" width="5.0" height="36" fill="#0000f8"/><rect x="365.0" y="200" width="2.0" height="36" fill="#0000f8"/><rect x="367.0" y="200" width="8.0" height="36" fill="#0048ff"/><rect x="375.0" y="200" width="5.0" height="36" fill="#003aff"/><rect x="380.0" y="200" width="28.0" height="36" fill="#003aff"/><rect x="408.0" y="200" width="2.0" height="36" fill="#0000e1"/><rect x="410.0" y="200" width="10.0" height="36" fill="#0000e1"/><rect x="420.0" y="200" width="20.0" height="36" fill="#0000ec"/><rect x="440.0" y="200" width="3.0" height="36" fill="#0000e1"/><rect x="443.0" y="200" width="7.0" height="36" fill="#0030ff"/><rect x="450.0" y="200" width="32.0" height="36" fill="#0030ff"/><rect x="482.0" y="200" width="17.0" height="36" fill="#0030ff"/><rect x="499.0" y="200" width="7.0" height="36" fill="#0007ff"/><rect x="506.0" y="200" width="14.0" height="36" fill="#0030ff"/><rect x="520.0" y="200" width="35.0" height="36" fill="#0036ff"/><rect x="555.0" y="200" width="5.0" height="36" fill="#0036ff"/><rect x="560.0" y="200" width="1.0" height="36" fill="#0044ff"/><rect x="561.0" y="200" width="29.0" height="36" fill="#0044ff"/><rect x="590.0" y="200" width="10.0" height="36" fill="#0044ff"/><rect x="600.0" y="200" width="3.0" height="36" fill="#003aff"/><rect x="603.0" y="200" width="7.0" height="36" fill="#0000ff"/><rect x="610.0" y="200" width="10.0" height="36" fill="#0000ff"/><rect x="620.0" y="200" width="2.0" height="36" fill="#0000ff"/><rect x="622.0" y="200" width="4.0" height="36" fill="#0000dc"/><rect x="626.0" y="200" width="14.0" height="36" fill="#0000dc"/><rect x="640.0" y="200" width="40.0" height="36" fill="#0000d5"/><rect x="680.0" y="200" width="15.0" height="36" fill="#0000c5"/><rect x="695.0" y="200" width="5.0" height="36" fill="#0000f3"/><rect x="700.0" y="200" width="45.0" height="36" fill="#0000e3"/><rect x="745.0" y="200" width="10.0" height="36" fill="#0022ff"/><rect x="755.0" y="200" width="29.0" height="36" fill="#0048ff"/><rect x="784.0" y="200" width="16.0" height="36" fill="#0034ff"/><rect x="800.0" y="200" width="15.0" height="36" fill="#0044ff"/><rect x="815.0" y="200" width="43.2" height="36" fill="#003aff"/><rect x="105.0" y="234" width="40.0" height="28" fill="#0000d8"/><rect x="105.0" y="261" width="40.0" height="30" fill="#0000d8"/><rect x="145.0" y="234" width="48.0" height="28" fill="#009aff"/><rect x="145.0" y="261" width="48.0" height="30" fill="#00bfff"/><rect x="193.0" y="234" width="14.0" height="28" fill="#0000ef"/><rect x="193.0" y="261" width="14.0" height="30" fill="#0000ef"/><rect x="207.0" y="234" width="42.0" height="28" fill="#008eff"/><rect x="207.0" y="261" width="42.0" height="30" fill="#00b2ff"/><rect x="249.0" y="234" width="21.0" height="28" fill="#0000ef"/><rect x="249.0" y="261" width="21.0" height="30" fill="#0000ef"/><rect x="270.0" y="234" width="69.0" height="28" fill="#00b7ff"/><rect x="270.0" y="261" width="69.0" height="30" fill="#00dbff"/><rect x="339.0" y="234" width="28.0" height="28" fill="#0000ff"/><rect x="339.0" y="261" width="28.0" height="30" fill="#0000ff"/><rect x="367.0" y="234" width="41.0" height="28" fill="#00a2ff"/><rect x="367.0" y="261" width="41.0" height="30" fill="#00c7ff"/><rect x="408.0" y="234" width="35.0" height="28" fill="#0000f8"/><rect x="408.0" y="261" width="35.0" height="30" fill="#0000f8"/><rect x="443.0" y="234" width="56.0" height="28" fill="#008eff"/><rect x="443.0" y="261" width="56.0" height="30" fill="#00b2ff"/><rect x="499.0" y="234" width="7.0" height="28" fill="#004dff"/><rect x="499.0" y="261" width="7.0" height="30" fill="#004dff"/><rect x="506.0" y="234" width="55.0" height="28" fill="#008eff"/><rect x="506.0" y="261" width="55.0" height="30" fill="#00b2ff"/><rect x="561.0" y="234" width="42.0" height="28" fill="#008eff"/><rect x="561.0" y="261" width="42.0" height="30" fill="#00b2ff"/><rect x="603.0" y="234" width="19.0" height="28" fill="#000bff"/><rect x="603.0" y="261" width="19.0" height="30" fill="#000bff"/><rect x="622.0" y="234" width="73.0" height="28" fill="#0000c0"/><rect x="622.0" y="261" width="73.0" height="30" fill="#0000c0"/><rect x="695.0" y="234" width="50.0" height="28" fill="#000bff"/><rect x="695.0" y="261" width="50.0" height="30" fill="#000bff"/><rect x="745.0" y="234" width="39.0" height="28" fill="#008eff"/><rect x="745.0" y="261" width="39.0" height="30" fill="#00b2ff"/><rect x="784.0" y="234" width="16.0" height="28" fill="#0065ff"/><rect x="784.0" y="261" width="16.0" height="30" fill="#008aff"/><rect x="800.0" y="234" width="58.2" height="28" fill="#0086ff"/><rect x="800.0" y="261" width="58.2" height="30" fill="#00aaff"/></g><g mask="url(#stmask)"><rect x="117.0" y="44.9" width="729.2" height="255.1" filter="url(#vd1)" opacity="0.9"/><rect x="117.0" y="44.9" width="729.2" height="255.1" filter="url(#vl1)" opacity="0.5"/><line x1="118.6" y1="44.9" x2="118.6" y2="270" stroke="#00b0ff" stroke-width="1.2" stroke-dasharray="3.2 2.4" opacity="0.42"/><line x1="135.6" y1="44.9" x2="135.6" y2="255" stroke="#0090ff" stroke-width="2" stroke-dasharray="2.9 2.0" opacity="0.60"/><line x1="151.1" y1="44.9" x2="151.1" y2="201" stroke="#10d8ff" stroke-width="1.5" stroke-dasharray="2.9 2.9" opacity="0.62"/><line x1="169.2" y1="44.9" x2="169.2" y2="252" stroke="#00b0ff" stroke-width="2.5" stroke-dasharray="3.1 1.8" opacity="0.26"/><line x1="185.3" y1="44.9" x2="185.3" y2="228" stroke="#0090ff" stroke-width="2" stroke-dasharray="2.9 1.8" opacity="0.55"/><line x1="191.8" y1="44.9" x2="191.8" y2="287" stroke="#00b0ff" stroke-width="2.5" stroke-dasharray="2.5 2.7" opacity="0.42"/><rect x="214.6" y="44.9" width="1.2" height="184" fill="#0070ff" opacity="0.49"/><line x1="226.7" y1="44.9" x2="226.7" y2="216" stroke="#0090ff" stroke-width="1.5" stroke-dasharray="2.2 2.7" opacity="0.26"/><rect x="247.0" y="44.9" width="1.2" height="201" fill="#0090ff" opacity="0.60"/><line x1="270.4" y1="44.9" x2="270.4" y2="241" stroke="#0090ff" stroke-width="1.2" stroke-dasharray="3.4 2.5" opacity="0.40"/><line x1="286.8" y1="44.9" x2="286.8" y2="281" stroke="#0090ff" stroke-width="2" stroke-dasharray="1.6 1.9" opacity="0.57"/><line x1="292.7" y1="44.9" x2="292.7" y2="239" stroke="#0090ff" stroke-width="1.5" stroke-dasharray="1.5 3.0" opacity="0.60"/><line x1="314.3" y1="44.9" x2="314.3" y2="289" stroke="#0070ff" stroke-width="2" stroke-dasharray="3.9 2.6" opacity="0.45"/><rect x="326.6" y="44.9" width="2.5" height="215" fill="#0070ff" opacity="0.65"/><rect x="344.9" y="44.9" width="1.5" height="201" fill="#0070ff" opacity="0.49"/><line x1="352.1" y1="44.9" x2="352.1" y2="215" stroke="#0090ff" stroke-width="1.5" stroke-dasharray="3.1 1.6" opacity="0.41"/><line x1="372.2" y1="44.9" x2="372.2" y2="226" stroke="#0090ff" stroke-width="1.2" stroke-dasharray="3.2 3.0" opacity="0.33"/><rect x="388.9" y="44.9" width="2" height="156" fill="#0090ff" opacity="0.62"/><rect x="407.9" y="44.9" width="2.5" height="238" fill="#10d8ff" opacity="0.53"/><line x1="418.0" y1="44.9" x2="418.0" y2="273" stroke="#0070ff" stroke-width="1.2" stroke-dasharray="2.1 2.0" opacity="0.44"/><rect x="440.4" y="44.9" width="1.2" height="208" fill="#00b0ff" opacity="0.59"/><line x1="446.7" y1="44.9" x2="446.7" y2="265" stroke="#10d8ff" stroke-width="1.5" stroke-dasharray="1.8 2.7" opacity="0.48"/><rect x="458.4" y="44.9" width="2" height="232" fill="#0090ff" opacity="0.56"/><line x1="476.4" y1="44.9" x2="476.4" y2="230" stroke="#0090ff" stroke-width="1.5" stroke-dasharray="2.8 2.1" opacity="0.27"/><line x1="499.9" y1="44.9" x2="499.9" y2="213" stroke="#40ffd0" stroke-width="1.5" stroke-dasharray="3.2 1.7" opacity="0.49"/><line x1="523.6" y1="44.9" x2="523.6" y2="282" stroke="#10d8ff" stroke-width="1.5" stroke-dasharray="3.2 2.5" opacity="0.61"/><line x1="534.7" y1="44.9" x2="534.7" y2="244" stroke="#0090ff" stroke-width="1.5" stroke-dasharray="3.1 2.8" opacity="0.63"/><rect x="543.9" y="44.9" width="2.5" height="209" fill="#0070ff" opacity="0.30"/><line x1="562.4" y1="44.9" x2="562.4" y2="283" stroke="#10d8ff" stroke-width="1.5" stroke-dasharray="1.7 1.5" opacity="0.49"/><line x1="573.9" y1="44.9" x2="573.9" y2="212" stroke="#40ffd0" stroke-width="2.5" stroke-dasharray="2.4 2.2" opacity="0.54"/><rect x="589.8" y="44.9" width="2.5" height="211" fill="#0070ff" opacity="0.48"/><rect x="598.8" y="44.9" width="1.5" height="218" fill="#00b0ff" opacity="0.39"/><rect x="606.9" y="44.9" width="1.2" height="232" fill="#0070ff" opacity="0.51"/><line x1="615.7" y1="44.9" x2="615.7" y2="206" stroke="#0090ff" stroke-width="1.2" stroke-dasharray="3.8 2.2" opacity="0.59"/><rect x="629.2" y="44.9" width="1.5" height="233" fill="#00b0ff" opacity="0.49"/><line x1="635.6" y1="44.9" x2="635.6" y2="233" stroke="#10d8ff" stroke-width="1.2" stroke-dasharray="2.3 1.1" opacity="0.63"/><line x1="652.7" y1="44.9" x2="652.7" y2="244" stroke="#0070ff" stroke-width="1.2" stroke-dasharray="3.0 2.2" opacity="0.56"/><line x1="669.7" y1="44.9" x2="669.7" y2="200" stroke="#10d8ff" stroke-width="2.5" stroke-dasharray="4.0 1.7" opacity="0.35"/><line x1="681.4" y1="44.9" x2="681.4" y2="226" stroke="#0090ff" stroke-width="1.2" stroke-dasharray="2.6 1.2" opacity="0.52"/><line x1="696.7" y1="44.9" x2="696.7" y2="227" stroke="#00b0ff" stroke-width="1.2" stroke-dasharray="2.7 2.0" opacity="0.34"/><rect x="714.6" y="44.9" width="1.2" height="212" fill="#40ffd0" opacity="0.54"/><rect x="730.4" y="44.9" width="1.2" height="192" fill="#0070ff" opacity="0.53"/><rect x="736.8" y="44.9" width="1.5" height="207" fill="#00b0ff" opacity="0.45"/><rect x="753.5" y="44.9" width="1.5" height="180" fill="#40ffd0" opacity="0.56"/><line x1="768.1" y1="44.9" x2="768.1" y2="287" stroke="#10d8ff" stroke-width="1.2" stroke-dasharray="1.9 2.3" opacity="0.51"/><rect x="785.2" y="44.9" width="1.2" height="171" fill="#0070ff" opacity="0.64"/><line x1="808.0" y1="44.9" x2="808.0" y2="233" stroke="#0090ff" stroke-width="2" stroke-dasharray="1.8 1.8" opacity="0.34"/><rect x="829.1" y="44.9" width="2.5" height="234" fill="#0090ff" opacity="0.43"/><line x1="314.2" y1="44.9" x2="314.2" y2="211" stroke="#0090ff" stroke-width="1.3" stroke-dasharray="1.5 2.9" opacity="0.65"/><line x1="150.0" y1="44.9" x2="150.0" y2="250" stroke="#ffff00" stroke-width="1.3" stroke-dasharray="1.5 3.5" opacity="0.68"/><line x1="244.7" y1="44.9" x2="244.7" y2="168" stroke="#00ffff" stroke-width="1.3" stroke-dasharray="1.5 4.1" opacity="0.62"/><line x1="158.4" y1="44.9" x2="158.4" y2="188" stroke="#0090ff" stroke-width="1.3" stroke-dasharray="1.5 3.8" opacity="0.61"/><line x1="464.3" y1="44.9" x2="464.3" y2="262" stroke="#ffff00" stroke-width="1.3" stroke-dasharray="1.5 6.2" opacity="0.45"/><line x1="412.2" y1="44.9" x2="412.2" y2="239" stroke="#00ffff" stroke-width="1.3" stroke-dasharray="1.5 6.6" opacity="0.48"/><line x1="392.3" y1="44.9" x2="392.3" y2="196" stroke="#0090ff" stroke-width="1.3" stroke-dasharray="1.5 4.7" opacity="0.54"/><line x1="300.3" y1="44.9" x2="300.3" y2="283" stroke="#00ffff" stroke-width="1.3" stroke-dasharray="1.5 6.2" opacity="0.74"/><line x1="703.0" y1="44.9" x2="703.0" y2="191" stroke="#40e0ff" stroke-width="1.3" stroke-dasharray="1.5 6.7" opacity="0.48"/><line x1="401.4" y1="44.9" x2="401.4" y2="248" stroke="#40e0ff" stroke-width="1.3" stroke-dasharray="1.5 3.8" opacity="0.68"/><line x1="459.8" y1="44.9" x2="459.8" y2="275" stroke="#ff8000" stroke-width="1.3" stroke-dasharray="1.5 5.3" opacity="0.56"/><line x1="323.0" y1="44.9" x2="323.0" y2="245" stroke="#0090ff" stroke-width="1.3" stroke-dasharray="1.5 6.8" opacity="0.58"/><line x1="495.7" y1="44.9" x2="495.7" y2="263" stroke="#40e0ff" stroke-width="1.3" stroke-dasharray="1.5 2.6" opacity="0.61"/><line x1="675.1" y1="44.9" x2="675.1" y2="278" stroke="#40e0ff" stroke-width="1.3" stroke-dasharray="1.5 6.0" opacity="0.75"/><line x1="459.7" y1="44.9" x2="459.7" y2="175" stroke="#40e0ff" stroke-width="1.3" stroke-dasharray="1.5 3.6" opacity="0.61"/><line x1="685.1" y1="44.9" x2="685.1" y2="174" stroke="#40e0ff" stroke-width="1.3" stroke-dasharray="1.5 5.9" opacity="0.54"/><line x1="186.5" y1="44.9" x2="186.5" y2="203" stroke="#40e0ff" stroke-width="1.3" stroke-dasharray="1.5 3.9" opacity="0.50"/><line x1="162.5" y1="44.9" x2="162.5" y2="171" stroke="#0090ff" stroke-width="1.3" stroke-dasharray="1.5 6.2" opacity="0.77"/><line x1="579.6" y1="44.9" x2="579.6" y2="290" stroke="#40e0ff" stroke-width="1.3" stroke-dasharray="1.5 6.9" opacity="0.56"/><line x1="809.7" y1="44.9" x2="809.7" y2="259" stroke="#0090ff" stroke-width="1.3" stroke-dasharray="1.5 3.0" opacity="0.74"/><line x1="749.8" y1="44.9" x2="749.8" y2="173" stroke="#40e0ff" stroke-width="1.3" stroke-dasharray="1.5 4.2" opacity="0.59"/><line x1="573.9" y1="44.9" x2="573.9" y2="199" stroke="#40e0ff" stroke-width="1.3" stroke-dasharray="1.5 5.7" opacity="0.49"/><line x1="685.1" y1="44.9" x2="685.1" y2="277" stroke="#0090ff" stroke-width="1.3" stroke-dasharray="1.5 2.7" opacity="0.72"/><line x1="149.1" y1="44.9" x2="149.1" y2="177" stroke="#40e0ff" stroke-width="1.3" stroke-dasharray="1.5 4.5" opacity="0.50"/><line x1="577.1" y1="44.9" x2="577.1" y2="246" stroke="#00ffff" stroke-width="1.3" stroke-dasharray="1.5 5.4" opacity="0.43"/><line x1="579.2" y1="44.9" x2="579.2" y2="275" stroke="#0090ff" stroke-width="1.3" stroke-dasharray="1.5 2.5" opacity="0.72"/><line x1="558.9" y1="44.9" x2="558.9" y2="235" stroke="#00ffff" stroke-width="1.3" stroke-dasharray="1.5 5.5" opacity="0.55"/><line x1="593.4" y1="44.9" x2="593.4" y2="174" stroke="#40e0ff" stroke-width="1.3" stroke-dasharray="1.5 4.4" opacity="0.67"/><line x1="257.4" y1="44.9" x2="257.4" y2="203" stroke="#00ffff" stroke-width="1.3" stroke-dasharray="1.5 6.2" opacity="0.74"/><line x1="746.6" y1="44.9" x2="746.6" y2="199" stroke="#00ffff" stroke-width="1.3" stroke-dasharray="1.5 5.5" opacity="0.57"/><line x1="617.5" y1="44.9" x2="617.5" y2="161" stroke="#00ffff" stroke-width="1.3" stroke-dasharray="1.5 2.6" opacity="0.64"/><line x1="639.0" y1="44.9" x2="639.0" y2="154" stroke="#00ffff" stroke-width="1.3" stroke-dasharray="1.5 6.4" opacity="0.67"/><line x1="639.0" y1="44.9" x2="639.0" y2="236" stroke="#0090ff" stroke-width="1.3" stroke-dasharray="1.5 5.0" opacity="0.46"/><line x1="786.4" y1="44.9" x2="786.4" y2="239" stroke="#00ffff" stroke-width="1.3" stroke-dasharray="1.5 4.3" opacity="0.41"/><line x1="825.8" y1="44.9" x2="825.8" y2="152" stroke="#ffff00" stroke-width="1.3" stroke-dasharray="1.5 6.2" opacity="0.54"/><line x1="396.9" y1="44.9" x2="396.9" y2="169" stroke="#ffff00" stroke-width="1.3" stroke-dasharray="1.5 6.3" opacity="0.78"/><line x1="329.7" y1="44.9" x2="329.7" y2="158" stroke="#00ffff" stroke-width="1.3" stroke-dasharray="1.5 5.3" opacity="0.48"/><line x1="803.3" y1="44.9" x2="803.3" y2="185" stroke="#40e0ff" stroke-width="1.3" stroke-dasharray="1.5 6.4" opacity="0.59"/><line x1="155.7" y1="44.9" x2="155.7" y2="205" stroke="#0090ff" stroke-width="1.3" stroke-dasharray="1.5 4.3" opacity="0.48"/><line x1="522.1" y1="44.9" x2="522.1" y2="158" stroke="#40e0ff" stroke-width="1.3" stroke-dasharray="1.5 2.8" opacity="0.71"/><line x1="817.5" y1="44.9" x2="817.5" y2="258" stroke="#40e0ff" stroke-width="1.3" stroke-dasharray="1.5 4.1" opacity="0.72"/><line x1="630.0" y1="44.9" x2="630.0" y2="161" stroke="#00ffff" stroke-width="1.3" stroke-dasharray="1.5 5.6" opacity="0.48"/><line x1="586.2" y1="44.9" x2="586.2" y2="243" stroke="#40e0ff" stroke-width="1.3" stroke-dasharray="1.5 6.4" opacity="0.54"/><line x1="502.3" y1="44.9" x2="502.3" y2="180" stroke="#0090ff" stroke-width="1.3" stroke-dasharray="1.5 3.3" opacity="0.75"/><line x1="706.5" y1="44.9" x2="706.5" y2="193" stroke="#40e0ff" stroke-width="1.3" stroke-dasharray="1.5 4.2" opacity="0.79"/><line x1="339.4" y1="44.9" x2="339.4" y2="211" stroke="#40e0ff" stroke-width="1.3" stroke-dasharray="1.5 6.7" opacity="0.62"/><line x1="768.0" y1="44.9" x2="768.0" y2="178" stroke="#40e0ff" stroke-width="1.3" stroke-dasharray="1.5 4.4" opacity="0.71"/><line x1="438.5" y1="44.9" x2="438.5" y2="273" stroke="#40e0ff" stroke-width="1.3" stroke-dasharray="1.5 2.5" opacity="0.45"/><line x1="608.7" y1="44.9" x2="608.7" y2="272" stroke="#ffff00" stroke-width="1.3" stroke-dasharray="1.5 3.7" opacity="0.64"/><line x1="434.8" y1="44.9" x2="434.8" y2="163" stroke="#ffff00" stroke-width="1.3" stroke-dasharray="1.5 6.5" opacity="0.46"/><line x1="429.7" y1="44.9" x2="429.7" y2="228" stroke="#0090ff" stroke-width="1.3" stroke-dasharray="1.5 2.8" opacity="0.52"/><line x1="461.4" y1="44.9" x2="461.4" y2="158" stroke="#0090ff" stroke-width="1.3" stroke-dasharray="1.5 6.6" opacity="0.67"/><line x1="510.8" y1="44.9" x2="510.8" y2="214" stroke="#0090ff" stroke-width="1.3" stroke-dasharray="1.5 3.8" opacity="0.65"/><line x1="649.0" y1="44.9" x2="649.0" y2="263" stroke="#0090ff" stroke-width="1.3" stroke-dasharray="1.5 6.2" opacity="0.58"/><line x1="503.0" y1="44.9" x2="503.0" y2="180" stroke="#0090ff" stroke-width="1.3" stroke-dasharray="1.5 3.6" opacity="0.52"/><line x1="792.9" y1="44.9" x2="792.9" y2="240" stroke="#40e0ff" stroke-width="1.3" stroke-dasharray="1.5 5.4" opacity="0.42"/><line x1="748.1" y1="44.9" x2="748.1" y2="234" stroke="#40e0ff" stroke-width="1.3" stroke-dasharray="1.5 6.3" opacity="0.55"/><line x1="679.0" y1="44.9" x2="679.0" y2="256" stroke="#40e0ff" stroke-width="1.3" stroke-dasharray="1.5 6.7" opacity="0.57"/><line x1="329.3" y1="44.9" x2="329.3" y2="247" stroke="#00ffff" stroke-width="1.3" stroke-dasharray="1.5 5.4" opacity="0.46"/><line x1="381.3" y1="44.9" x2="381.3" y2="180" stroke="#40e0ff" stroke-width="1.3" stroke-dasharray="1.5 2.9" opacity="0.49"/><line x1="117.0" y1="113.6" x2="846.2" y2="113.6" stroke="#30e0ff" stroke-width="1.3" stroke-dasharray="3 2" opacity="0.7"/><line x1="117.0" y1="80.7" x2="846.2" y2="80.7" stroke="#30e0ff" stroke-width="1.3" stroke-dasharray="3 2" opacity="0.45"/><line x1="117.0" y1="111.8" x2="846.2" y2="111.8" stroke="#000060" stroke-width="1.3" stroke-dasharray="3 2" opacity="0.6"/><line x1="117.0" y1="97.4" x2="846.2" y2="97.4" stroke="#000060" stroke-width="1.3" stroke-dasharray="3 2" opacity="0.5"/><line x1="117.0" y1="64.7" x2="846.2" y2="64.7" stroke="#000060" stroke-width="1.3" stroke-dasharray="3 2" opacity="0.5"/><line x1="117.0" y1="143.5" x2="846.2" y2="143.5" stroke="#30e0ff" stroke-width="1.3" stroke-dasharray="3 2" opacity="0.35"/><rect x="131.2" y="44.9" width="1.6" height="255" fill="#ffd000" opacity="0.7"/><rect x="180.2" y="44.9" width="1.6" height="255" fill="#ff4000" opacity="0.6"/><rect x="224.7" y="44.9" width="1.6" height="255" fill="#ffff40" opacity="0.7"/><rect x="262.2" y="44.9" width="1.6" height="255" fill="#00ffff" opacity="0.7"/><rect x="340.2" y="44.9" width="1.6" height="255" fill="#ff8000" opacity="0.6"/><rect x="527.2" y="44.9" width="1.6" height="255" fill="#ffff00" opacity="0.6"/><rect x="619.2" y="44.9" width="1.6" height="255" fill="#ffd000" opacity="0.5"/><rect x="772.2" y="44.9" width="1.6" height="255" fill="#ff6000" opacity="0.6"/><rect x="831.2" y="44.9" width="1.6" height="255" fill="#ffff00" opacity="0.6"/></g><rect x="117.0" y="44.9" width="729.2" height="255.1" filter="url(#sp1)" opacity="0.5"/><g filter="url(#bl6)"><ellipse cx="730.0" cy="217.5" rx="30.0" ry="67.5" fill="#0000c5" fill-opacity="0.5"/><ellipse cx="590.0" cy="160.0" rx="30.0" ry="40.0" fill="#0000dc" fill-opacity="0.4"/><ellipse cx="662.0" cy="247.5" rx="40.0" ry="52.5" fill="#000092" fill-opacity="0.65"/></g><rect x="117.0" y="44.9" width="729.2" height="255.1" fill="url(#up1)"/><rect x="117.0" y="44.9" width="729.2" height="165.1" fill="url(#vshade)"/><g filter="url(#bl3)"><ellipse cx="141.0" cy="303.0" rx="31.0" ry="35.0" fill="#000080" fill-opacity="0.95"/><ellipse cx="695.0" cy="294.0" rx="70.0" ry="26.0" fill="#000080" fill-opacity="0.9"/><ellipse cx="432.5" cy="298.5" rx="22.5" ry="13.5" fill="#000097" fill-opacity="0.7"/><ellipse cx="253.0" cy="292.5" rx="17.0" ry="12.5" fill="#0000ae" fill-opacity="0.6"/></g><g filter="url(#bl5)" opacity="0.95"><rect x="105.0" y="282" width="65.0" height="15" fill="#000097"/><rect x="170.0" y="282" width="50.0" height="15" fill="#008aff"/><rect x="220.0" y="282" width="20.0" height="15" fill="#00c7ff"/><rect x="240.0" y="282" width="30.0" height="15" fill="#0075ff"/><rect x="270.0" y="282" width="30.0" height="15" fill="#008aff"/><rect x="300.0" y="282" width="67.0" height="15" fill="#009eff"/><rect x="367.0" y="282" width="38.0" height="15" fill="#0061ff"/><rect x="405.0" y="282" width="50.0" height="15" fill="#000fff"/><rect x="455.0" y="282" width="45.0" height="15" fill="#008aff"/><rect x="500.0" y="282" width="60.0" height="15" fill="#3affbd"/><rect x="560.0" y="282" width="43.0" height="15" fill="#00c7ff"/><rect x="603.0" y="282" width="44.0" height="15" fill="#0075ff"/><rect x="647.0" y="282" width="130.0" height="15" fill="#000097"/><rect x="777.0" y="282" width="81.2" height="15" fill="#0061ff"/><rect x="105.0" y="295" width="80.0" height="14" fill="#000089"/><rect x="185.0" y="295" width="50.0" height="14" fill="#009eff"/><rect x="235.0" y="295" width="25.0" height="14" fill="#004dff"/><rect x="260.0" y="295" width="40.0" height="14" fill="#0000c5"/><rect x="300.0" y="295" width="67.0" height="14" fill="#29ffce"/><rect x="367.0" y="295" width="38.0" height="14" fill="#000097"/><rect x="405.0" y="295" width="55.0" height="14" fill="#000097"/><rect x="460.0" y="295" width="40.0" height="14" fill="#0000dc"/><rect x="500.0" y="295" width="60.0" height="14" fill="#bdff3a"/><rect x="560.0" y="295" width="43.0" height="14" fill="#4affad"/><rect x="603.0" y="295" width="44.0" height="14" fill="#00b2ff"/><rect x="647.0" y="295" width="130.0" height="14" fill="#000089"/><rect x="777.0" y="295" width="81.2" height="14" fill="#0024ff"/><rect x="105.0" y="307" width="80.0" height="14" fill="#000089"/><rect x="185.0" y="307" width="15.0" height="14" fill="#00c7ff"/><rect x="200.0" y="307" width="45.0" height="14" fill="#7bff7b"/><rect x="245.0" y="307" width="35.0" height="14" fill="#0000dc"/><rect x="280.0" y="307" width="20.0" height="14" fill="#4affad"/><rect x="300.0" y="307" width="45.0" height="14" fill="#ffd900"/><rect x="345.0" y="307" width="15.0" height="14" fill="#8cff6b"/><rect x="360.0" y="307" width="20.0" height="14" fill="#00c7ff"/><rect x="380.0" y="307" width="50.0" height="14" fill="#0000ae"/><rect x="430.0" y="307" width="70.0" height="14" fill="#000097"/><rect x="500.0" y="307" width="60.0" height="14" fill="#adff4a"/><rect x="560.0" y="307" width="43.0" height="14" fill="#8cff6b"/><rect x="603.0" y="307" width="47.0" height="14" fill="#08f0ef"/><rect x="650.0" y="307" width="50.0" height="14" fill="#004dff"/><rect x="700.0" y="307" width="77.0" height="14" fill="#000089"/><rect x="777.0" y="307" width="81.2" height="14" fill="#00c7ff"/><rect x="105.0" y="319" width="80.0" height="15" fill="#000089"/><rect x="185.0" y="319" width="60.0" height="15" fill="#4affad"/><rect x="245.0" y="319" width="35.0" height="15" fill="#0000ae"/><rect x="280.0" y="319" width="20.0" height="15" fill="#08f0ef"/><rect x="300.0" y="319" width="45.0" height="15" fill="#ff1c00"/><rect x="345.0" y="319" width="15.0" height="15" fill="#08f0ef"/><rect x="360.0" y="319" width="20.0" height="15" fill="#00c7ff"/><rect x="380.0" y="319" width="50.0" height="15" fill="#008aff"/><rect x="430.0" y="319" width="70.0" height="15" fill="#0000dc"/><rect x="500.0" y="319" width="60.0" height="15" fill="#08f0ef"/><rect x="560.0" y="319" width="43.0" height="15" fill="#adff4a"/><rect x="603.0" y="319" width="47.0" height="15" fill="#00dbff"/><rect x="650.0" y="319" width="50.0" height="15" fill="#0024ff"/><rect x="700.0" y="319" width="65.0" height="15" fill="#000089"/><rect x="765.0" y="319" width="93.2" height="15" fill="#08f0ef"/><rect x="105.0" y="332" width="45.0" height="14" fill="#0000ff"/><rect x="150.0" y="332" width="30.0" height="14" fill="#00c7ff"/><rect x="180.0" y="332" width="80.0" height="14" fill="#0061ff"/><rect x="260.0" y="332" width="40.0" height="14" fill="#0000ae"/><rect x="300.0" y="332" width="60.0" height="14" fill="#0024ff"/><rect x="360.0" y="332" width="60.0" height="14" fill="#0075ff"/><rect x="420.0" y="332" width="80.0" height="14" fill="#0000a0"/><rect x="500.0" y="332" width="60.0" height="14" fill="#004dff"/><rect x="560.0" y="332" width="43.0" height="14" fill="#0000dc"/><rect x="603.0" y="332" width="47.0" height="14" fill="#0000ff"/><rect x="650.0" y="332" width="30.0" height="14" fill="#008aff"/><rect x="680.0" y="332" width="40.0" height="14" fill="#00c7ff"/><rect x="720.0" y="332" width="40.0" height="14" fill="#008aff"/><rect x="760.0" y="332" width="60.0" height="14" fill="#008aff"/><rect x="820.0" y="332" width="38.2" height="14" fill="#00c7ff"/><rect x="105.0" y="344" width="95.0" height="13" fill="#0000dc"/><rect x="200.0" y="344" width="80.0" height="13" fill="#0075ff"/><rect x="280.0" y="344" width="20.0" height="13" fill="#00c7ff"/><rect x="300.0" y="344" width="45.0" height="13" fill="#29ffce"/><rect x="345.0" y="344" width="15.0" height="13" fill="#00c7ff"/><rect x="360.0" y="344" width="60.0" height="13" fill="#00b2ff"/><rect x="420.0" y="344" width="100.0" height="13" fill="#0024ff"/><rect x="520.0" y="344" width="83.0" height="13" fill="#00b2ff"/><rect x="603.0" y="344" width="87.0" height="13" fill="#00b2ff"/><rect x="690.0" y="344" width="30.0" height="13" fill="#00c7ff"/><rect x="720.0" y="344" width="60.0" height="13" fill="#0000ae"/><rect x="780.0" y="344" width="78.2" height="13" fill="#008aff"/><rect x="105.0" y="355" width="40.0" height="16" fill="#0000ae"/><rect x="145.0" y="355" width="40.0" height="16" fill="#00c7ff"/><rect x="185.0" y="355" width="95.0" height="16" fill="#004dff"/><rect x="280.0" y="355" width="20.0" height="16" fill="#08f0ef"/><rect x="300.0" y="355" width="45.0" height="16" fill="#6bff8c"/><rect x="345.0" y="355" width="15.0" height="16" fill="#08f0ef"/><rect x="360.0" y="355" width="60.0" height="16" fill="#00c7ff"/><rect x="420.0" y="355" width="100.0" height="16" fill="#0000ae"/><rect x="520.0" y="355" width="40.0" height="16" fill="#0075ff"/><rect x="560.0" y="355" width="43.0" height="16" fill="#009eff"/><rect x="603.0" y="355" width="77.0" height="16" fill="#0000ae"/><rect x="680.0" y="355" width="40.0" height="16" fill="#004dff"/><rect x="720.0" y="355" width="138.2" height="16" fill="#0061ff"/><rect x="105.0" y="369" width="40.0" height="17" fill="#0000ae"/><rect x="145.0" y="369" width="40.0" height="17" fill="#00c7ff"/><rect x="185.0" y="369" width="95.0" height="17" fill="#0000ff"/><rect x="280.0" y="369" width="80.0" height="17" fill="#0075ff"/><rect x="360.0" y="369" width="60.0" height="17" fill="#0075ff"/><rect x="420.0" y="369" width="438.2" height="17" fill="#0000ae"/></g><g filter="url(#bl3)"><ellipse cx="220.0" cy="322.0" rx="20.0" ry="7.0" fill="#adff4a" fill-opacity="0.75"/><ellipse cx="317.0" cy="323.0" rx="39.0" ry="19.0" fill="#bdff3a" fill-opacity="0.9"/><ellipse cx="321.5" cy="329.0" rx="21.5" ry="9.0" fill="#ff4200" fill-opacity="0.95"/><ellipse cx="323.0" cy="330.5" rx="15.0" ry="5.5" fill="#c50000" fill-opacity="0.95"/><ellipse cx="329.0" cy="317.5" rx="11.0" ry="4.5" fill="#ff8e00" fill-opacity="0.8"/><ellipse cx="555.0" cy="317.5" rx="35.0" ry="12.5" fill="#bdff3a" fill-opacity="0.85"/><ellipse cx="533.5" cy="312.0" rx="6.5" ry="4.0" fill="#ff8e00" fill-opacity="0.8"/></g><rect x="117.0" y="283" width="729.2" height="100" filter="url(#sp1)" opacity="0.22"/><rect x="117.0" y="283" width="729.2" height="100" filter="url(#speckd)" opacity="0.25"/><rect x="126.1" y="345" width="1.8" height="110" fill="url(#spk)"/><rect x="132.1" y="340" width="1.8" height="110" fill="url(#spk)"/><rect x="142.1" y="360" width="1.8" height="80" fill="url(#spk)"/><rect x="165.1" y="370" width="1.8" height="70" fill="url(#spk)"/><rect x="208.1" y="360" width="1.8" height="90" fill="url(#spk)"/><rect x="235.1" y="340" width="1.8" height="110" fill="url(#spk)"/><rect x="265.1" y="330" width="1.8" height="120" fill="url(#spk)"/><rect x="284.1" y="350" width="1.8" height="90" fill="url(#spk)"/><rect x="296.1" y="350" width="1.8" height="110" fill="url(#spk)"/><rect x="317.1" y="330" width="1.8" height="130" fill="url(#spk)"/><rect x="333.1" y="340" width="1.8" height="100" fill="url(#spk)"/><rect x="359.1" y="360" width="1.8" height="70" fill="url(#spk)"/><rect x="401.1" y="340" width="1.8" height="100" fill="url(#spk)"/><rect x="431.1" y="330" width="1.8" height="120" fill="url(#spk)"/><rect x="461.1" y="330" width="1.8" height="110" fill="url(#spk)"/><rect x="485.1" y="340" width="1.8" height="120" fill="url(#spk)"/><rect x="493.1" y="330" width="1.8" height="120" fill="url(#spk)"/><rect x="505.1" y="350" width="1.8" height="100" fill="url(#spk)"/><rect x="529.1" y="360" width="1.8" height="90" fill="url(#spk)"/><rect x="549.1" y="350" width="1.8" height="90" fill="url(#spk)"/><rect x="590.1" y="340" width="1.8" height="100" fill="url(#spk)"/><rect x="635.1" y="330" width="1.8" height="110" fill="url(#spk)"/><rect x="671.1" y="320" width="1.8" height="150" fill="url(#spk)"/><rect x="689.1" y="340" width="1.8" height="100" fill="url(#spk)"/><rect x="748.1" y="320" width="1.8" height="150" fill="url(#spk)"/><rect x="772.1" y="330" width="1.8" height="180" fill="url(#spk)"/><rect x="794.1" y="340" width="1.8" height="110" fill="url(#spk)"/><rect x="830.1" y="330" width="1.8" height="140" fill="url(#spk)"/><rect x="407.6" y="370" width="1.6" height="80" fill="url(#spkc)"/><rect x="451.2" y="342" width="1.6" height="90" fill="url(#spkc)"/><rect x="303.5" y="379" width="1.6" height="65" fill="url(#spkc)"/><rect x="814.8" y="335" width="1.6" height="77" fill="url(#spkc)"/><rect x="519.0" y="378" width="1.6" height="101" fill="url(#spkc)"/><rect x="343.4" y="362" width="1.6" height="101" fill="url(#spkc)"/><rect x="245.7" y="371" width="1.6" height="99" fill="url(#spkc)"/><rect x="816.6" y="341" width="1.6" height="94" fill="url(#spkc)"/><rect x="450.1" y="378" width="1.6" height="96" fill="url(#spkc)"/><rect x="131.8" y="377" width="1.6" height="99" fill="url(#spkc)"/><rect x="324.5" y="378" width="1.6" height="60" fill="url(#spkc)"/><rect x="799.3" y="360" width="1.6" height="51" fill="url(#spkc)"/><rect x="705.7" y="346" width="1.6" height="54" fill="url(#spkc)"/><rect x="238.5" y="334" width="1.6" height="77" fill="url(#spkc)"/><rect x="326.8" y="376" width="1.6" height="73" fill="url(#spkc)"/><rect x="196.4" y="330" width="1.6" height="92" fill="url(#spkc)"/><rect x="197.3" y="378" width="1.6" height="95" fill="url(#spkc)"/><rect x="530.3" y="359" width="1.6" height="67" fill="url(#spkc)"/><rect x="772.6" y="345" width="1.6" height="59" fill="url(#spkc)"/><rect x="537.4" y="373" width="1.6" height="108" fill="url(#spkc)"/><rect x="393.6" y="342" width="1.6" height="78" fill="url(#spkc)"/><rect x="196.9" y="360" width="1.6" height="63" fill="url(#spkc)"/><rect x="333.9" y="369" width="1.6" height="107" fill="url(#spkc)"/><rect x="567.8" y="344" width="1.6" height="107" fill="url(#spkc)"/><rect x="550.1" y="358" width="1.6" height="74" fill="url(#spkc)"/><rect x="716.7" y="346" width="1.6" height="60" fill="url(#spkc)"/><rect x="378.1" y="346" width="1.6" height="60" fill="url(#spkc)"/><rect x="211.4" y="365" width="1.6" height="65" fill="url(#spkc)"/><rect x="744.4" y="363" width="1.6" height="100" fill="url(#spkc)"/><rect x="603.3" y="333" width="1.6" height="98" fill="url(#spkc)"/><rect x="139.2" y="351" width="1.6" height="100" fill="url(#spkc)"/><rect x="516.8" y="375" width="1.6" height="81" fill="url(#spkc)"/><rect x="678.2" y="350" width="1.6" height="71" fill="url(#spkc)"/><rect x="580.3" y="354" width="1.6" height="71" fill="url(#spkc)"/><rect x="690.7" y="350" width="1.6" height="107" fill="url(#spkc)"/><rect x="491.1" y="351" width="1.6" height="107" fill="url(#spkc)"/><rect x="505.1" y="349" width="1.6" height="87" fill="url(#spkc)"/><rect x="483.6" y="332" width="1.6" height="64" fill="url(#spkc)"/><rect x="330.8" y="361" width="1.6" height="77" fill="url(#spkc)"/><rect x="419.4" y="347" width="1.6" height="97" fill="url(#spkc)"/><rect x="118.5" y="44.9" width="1.1" height="469.0" fill="#8b0000"/><rect x="453.5" y="44.9" width="1.1" height="469.0" fill="#8b0000"/><rect x="497.8" y="44.9" width="1.1" height="469.0" fill="#8b0000"/><rect x="503.8" y="44.9" width="1.1" height="469.0" fill="#8b0000"/><rect x="526.2" y="44.9" width="1.1" height="469.0" fill="#8b0000"/><rect x="623.0" y="44.9" width="1.1" height="469.0" fill="#8b0000"/><rect x="664.5" y="44.9" width="1.1" height="469.0" fill="#8b0000"/><rect x="691.7" y="44.9" width="1.1" height="469.0" fill="#8b0000"/><rect x="829.0" y="44.9" width="1.1" height="469.0" fill="#8b0000"/><rect x="834.4" y="44.9" width="1.1" height="469.0" fill="#8b0000"/></g>
<polyline points="278.2,728.0 287.7,755.0 287.7,798.6 269.4,833.9 309.5,856.3 419.3,889.9 474.3,919.6 474.3,927.3 416.7,936.6 309.2,962.6 291.0,971.9 321.0,985.3 208.9,1002.5 154.3,1021.2 136.0,1039.2 136.0,1061.7 154.2,1080.4 154.3,1101.9 136.1,1140.4" fill="none" stroke="#bfbf00" stroke-width="3.3" stroke-linejoin="miter"/>
<polyline points="835.9,728.0 792.8,768.2 697.4,787.3 628.1,833.9 788.5,913.3 799.4,923.0 766.6,939.1 675.5,950.6 628.1,984.6 493.3,997.9 584.3,1144.4" fill="none" stroke="#bfbf00" stroke-width="3.3" stroke-linejoin="miter"/>
<g transform="translate(0,602.0)" fill="none" stroke="#ff0000" stroke-linejoin="round" stroke-linecap="round"><line x1="258" y1="47.3" x2="553" y2="47.3" stroke-width="2.4" stroke-linecap="butt"/><polyline points="553.0,48.6 501.7,48.6 486.5,59.0 475.0,66.6 467.5,74.2 456.0,83.7 452.2,93.2 455.0,102.7 450.3,114.1 439.0,123.6 429.4,135.0 421.8,146.5 414.2,156.0 406.6,165.5 402.8,176.9 403.8,188.3 404.7,199.7 412.3,207.3 423.7,214.9 437.0,222.5 448.4,230.1 459.8,237.7 470.0,251.0 484.5,269.2 506.0,280.0 542.3,290.9 564.0,296.3 573.0,305.3 560.3,314.4 542.3,319.8 513.4,325.2 470.0,334.2 444.0,340.5 391.4,354.6 366.8,365.1 352.7,375.7 352.7,386.2 335.0,393.3 317.5,403.8 312.3,421.4 317.5,435.5 328.0,449.5 335.1,460.1 342.1,477.7 352.7,495.3 363.3,509.3 368.0,516.0" stroke-width="3.6"/><polyline points="490.0,57.0 478.0,65.0 470.0,74.0 460.0,84.0 456.0,94.0 458.0,103.0 453.0,114.0 443.0,122.0 433.0,134.0 425.0,145.0 417.0,155.0 410.0,165.0 406.0,177.0 407.0,188.0 408.0,199.0" stroke-width="3.6"/><line x1="496.7" y1="52.0" x2="502.2" y2="52.0" stroke-width="2.6"/><line x1="493.2" y1="54.4" x2="495.8" y2="54.4" stroke-width="2.6"/><line x1="489.2" y1="57.2" x2="492.6" y2="57.2" stroke-width="2.6"/><line x1="486.2" y1="59.2" x2="492.2" y2="59.2" stroke-width="2.6"/><line x1="483.1" y1="61.2" x2="490.8" y2="61.2" stroke-width="2.6"/><line x1="479.8" y1="63.4" x2="483.4" y2="63.4" stroke-width="2.6"/><line x1="477.5" y1="64.9" x2="483.8" y2="64.9" stroke-width="2.6"/><line x1="474.8" y1="66.8" x2="479.0" y2="66.8" stroke-width="2.6"/><line x1="472.4" y1="69.3" x2="476.6" y2="69.3" stroke-width="2.6"/><line x1="469.5" y1="72.2" x2="473.2" y2="72.2" stroke-width="2.6"/><line x1="467.4" y1="74.2" x2="469.2" y2="74.2" stroke-width="2.6"/><line x1="465.6" y1="75.8" x2="467.4" y2="75.8" stroke-width="2.6"/><line x1="462.7" y1="78.1" x2="464.5" y2="78.1" stroke-width="2.6"/><line x1="460.0" y1="80.4" x2="462.1" y2="80.4" stroke-width="2.6"/><line x1="456.7" y1="83.1" x2="458.0" y2="83.1" stroke-width="2.6"/><line x1="455.2" y1="85.7" x2="462.7" y2="85.7" stroke-width="2.6"/><line x1="454.0" y1="88.7" x2="458.3" y2="88.7" stroke-width="2.6"/><line x1="452.9" y1="91.4" x2="455.1" y2="91.4" stroke-width="2.6"/><line x1="452.5" y1="94.3" x2="460.4" y2="94.3" stroke-width="2.6"/><line x1="453.3" y1="96.9" x2="461.1" y2="96.9" stroke-width="2.6"/><line x1="454.0" y1="99.3" x2="461.8" y2="99.3" stroke-width="2.6"/><line x1="454.6" y1="101.4" x2="456.2" y2="101.4" stroke-width="2.6"/><line x1="454.8" y1="103.2" x2="461.8" y2="103.2" stroke-width="2.6"/><line x1="453.6" y1="106.0" x2="457.3" y2="106.0" stroke-width="2.6"/><line x1="452.6" y1="108.6" x2="459.9" y2="108.6" stroke-width="2.6"/><line x1="451.7" y1="110.6" x2="454.6" y2="110.6" stroke-width="2.6"/><line x1="450.5" y1="113.6" x2="454.1" y2="113.6" stroke-width="2.6"/><line x1="447.5" y1="116.5" x2="450.3" y2="116.5" stroke-width="2.6"/><line x1="445.7" y1="118.0" x2="447.2" y2="118.0" stroke-width="2.6"/><line x1="443.2" y1="120.0" x2="449.9" y2="120.0" stroke-width="2.6"/><line x1="441.4" y1="121.6" x2="452.9" y2="121.6" stroke-width="2.6"/><line x1="438.2" y1="124.5" x2="444.6" y2="124.5" stroke-width="2.6"/><line x1="436.1" y1="127.1" x2="440.5" y2="127.1" stroke-width="2.6"/><line x1="434.4" y1="129.0" x2="444.1" y2="129.0" stroke-width="2.6"/><line x1="432.5" y1="131.3" x2="434.8" y2="131.3" stroke-width="2.6"/><line x1="430.0" y1="134.3" x2="443.9" y2="134.3" stroke-width="2.6"/><line x1="428.3" y1="136.7" x2="441.3" y2="136.7" stroke-width="2.6"/><line x1="427.0" y1="138.7" x2="433.6" y2="138.7" stroke-width="2.6"/><line x1="425.3" y1="141.2" x2="427.3" y2="141.2" stroke-width="2.6"/><line x1="424.3" y1="142.7" x2="432.0" y2="142.7" stroke-width="2.6"/><line x1="423.1" y1="144.5" x2="433.9" y2="144.5" stroke-width="2.6"/><line x1="421.4" y1="147.0" x2="427.7" y2="147.0" stroke-width="2.6"/><line x1="419.6" y1="149.2" x2="429.6" y2="149.2" stroke-width="2.6"/><line x1="418.3" y1="150.9" x2="429.4" y2="150.9" stroke-width="2.6"/><line x1="416.1" y1="153.6" x2="419.8" y2="153.6" stroke-width="2.6"/><line x1="414.7" y1="155.3" x2="425.5" y2="155.3" stroke-width="2.6"/><line x1="412.7" y1="157.8" x2="424.1" y2="157.8" stroke-width="2.6"/><line x1="410.3" y1="160.8" x2="420.7" y2="160.8" stroke-width="2.6"/><line x1="408.0" y1="163.7" x2="411.7" y2="163.7" stroke-width="2.6"/><line x1="406.5" y1="165.8" x2="419.0" y2="165.8" stroke-width="2.6"/><line x1="405.6" y1="168.4" x2="415.0" y2="168.4" stroke-width="2.6"/><line x1="404.9" y1="170.5" x2="409.0" y2="170.5" stroke-width="2.6"/><line x1="404.0" y1="173.3" x2="405.6" y2="173.3" stroke-width="2.6"/><line x1="403.1" y1="176.1" x2="414.9" y2="176.1" stroke-width="2.6"/><line x1="403.0" y1="179.0" x2="404.5" y2="179.0" stroke-width="2.6"/><line x1="403.2" y1="181.3" x2="413.6" y2="181.3" stroke-width="2.6"/><line x1="403.4" y1="183.4" x2="416.7" y2="183.4" stroke-width="2.6"/><line x1="403.6" y1="186.0" x2="415.5" y2="186.0" stroke-width="2.6"/><line x1="403.7" y1="187.5" x2="417.1" y2="187.5" stroke-width="2.6"/><line x1="403.9" y1="189.3" x2="408.9" y2="189.3" stroke-width="2.6"/><line x1="404.0" y1="191.4" x2="414.9" y2="191.4" stroke-width="2.6"/><line x1="404.2" y1="193.0" x2="410.9" y2="193.0" stroke-width="2.6"/><line x1="404.4" y1="195.8" x2="413.0" y2="195.8" stroke-width="2.6"/><line x1="404.5" y1="197.8" x2="412.9" y2="197.8" stroke-width="2.6"/><line x1="404.7" y1="199.5" x2="406.8" y2="199.5" stroke-width="2.6"/><line x1="470.0" y1="79.9" x2="537.8" y2="79.9" stroke-width="3.6"/><line x1="452.0" y1="90.4" x2="506.4" y2="90.4" stroke-width="3.6"/><line x1="452.0" y1="99.9" x2="489.3" y2="99.9" stroke-width="3.6"/><line x1="450.0" y1="113.2" x2="496.0" y2="113.2" stroke-width="3.6"/><line x1="486.0" y1="59.0" x2="504.5" y2="59.0" stroke-width="3.6"/><line x1="475.0" y1="67.6" x2="506.4" y2="67.6" stroke-width="3.6"/><line x1="440.0" y1="121.7" x2="463.7" y2="121.7" stroke-width="3.6"/><line x1="428.0" y1="136.0" x2="451.3" y2="136.0" stroke-width="3.6"/><line x1="412.0" y1="159.8" x2="439.0" y2="159.8" stroke-width="3.6"/><line x1="405.0" y1="169.3" x2="428.5" y2="169.3" stroke-width="3.6"/><line x1="448.0" y1="105.0" x2="465.0" y2="105.0" stroke-width="3.6"/><line x1="435.0" y1="128.0" x2="455.0" y2="128.0" stroke-width="3.6"/></g>
</g>
<rect x="189.2" y="646.9" width="2.9" height="9.8" fill="#ff0000"/>
<rect x="335.1" y="646.9" width="2.9" height="9.8" fill="#ff0000"/>
<rect x="480.9" y="646.9" width="2.9" height="9.8" fill="#ff0000"/>
<rect x="626.6" y="646.9" width="2.9" height="9.8" fill="#ff0000"/>
<rect x="772.5" y="646.9" width="2.9" height="9.8" fill="#ff0000"/>
<rect x="117.0" y="646.9" width="729.2" height="469.0" fill="none" stroke="#000" stroke-width="1.6"/>
<line x1="117.0" y1="1115.9" x2="117.0" y2="1122.9" stroke="#000" stroke-width="1.6"/>
<text transform="translate(117.0,1145.6) scale(1.060,1)" text-anchor="middle" fill="#000" stroke="#000" stroke-width="0.35" xml:space="preserve" style="font-family:'Liberation Sans',sans-serif;font-size:21px">1</text>
<line x1="164.0" y1="1115.9" x2="164.0" y2="1122.9" stroke="#000" stroke-width="1.6"/>
<text transform="translate(164.0,1145.6) scale(1.060,1)" text-anchor="middle" fill="#000" stroke="#000" stroke-width="0.35" xml:space="preserve" style="font-family:'Liberation Sans',sans-serif;font-size:21px">3</text>
<line x1="211.1" y1="1115.9" x2="211.1" y2="1122.9" stroke="#000" stroke-width="1.6"/>
<text transform="translate(211.1,1145.6) scale(1.060,1)" text-anchor="middle" fill="#000" stroke="#000" stroke-width="0.35" xml:space="preserve" style="font-family:'Liberation Sans',sans-serif;font-size:21px">5</text>
<line x1="258.1" y1="1115.9" x2="258.1" y2="1122.9" stroke="#000" stroke-width="1.6"/>
<text transform="translate(258.1,1145.6) scale(1.060,1)" text-anchor="middle" fill="#000" stroke="#000" stroke-width="0.35" xml:space="preserve" style="font-family:'Liberation Sans',sans-serif;font-size:21px">7</text>
<line x1="305.2" y1="1115.9" x2="305.2" y2="1122.9" stroke="#000" stroke-width="1.6"/>
<text transform="translate(305.2,1145.6) scale(1.060,1)" text-anchor="middle" fill="#000" stroke="#000" stroke-width="0.35" xml:space="preserve" style="font-family:'Liberation Sans',sans-serif;font-size:21px">9</text>
<line x1="352.2" y1="1115.9" x2="352.2" y2="1122.9" stroke="#000" stroke-width="1.6"/>
<text transform="translate(352.2,1145.6) scale(1.060,1)" text-anchor="middle" fill="#000" stroke="#000" stroke-width="0.35" xml:space="preserve" style="font-family:'Liberation Sans',sans-serif;font-size:21px">11</text>
<line x1="399.3" y1="1115.9" x2="399.3" y2="1122.9" stroke="#000" stroke-width="1.6"/>
<text transform="translate(399.3,1145.6) scale(1.060,1)" text-anchor="middle" fill="#000" stroke="#000" stroke-width="0.35" xml:space="preserve" style="font-family:'Liberation Sans',sans-serif;font-size:21px">13</text>
<line x1="446.3" y1="1115.9" x2="446.3" y2="1122.9" stroke="#000" stroke-width="1.6"/>
<text transform="translate(446.3,1145.6) scale(1.060,1)" text-anchor="middle" fill="#000" stroke="#000" stroke-width="0.35" xml:space="preserve" style="font-family:'Liberation Sans',sans-serif;font-size:21px">15</text>
<line x1="493.4" y1="1115.9" x2="493.4" y2="1122.9" stroke="#000" stroke-width="1.6"/>
<text transform="translate(493.4,1145.6) scale(1.060,1)" text-anchor="middle" fill="#000" stroke="#000" stroke-width="0.35" xml:space="preserve" style="font-family:'Liberation Sans',sans-serif;font-size:21px">17</text>
<line x1="540.4" y1="1115.9" x2="540.4" y2="1122.9" stroke="#000" stroke-width="1.6"/>
<text transform="translate(540.4,1145.6) scale(1.060,1)" text-anchor="middle" fill="#000" stroke="#000" stroke-width="0.35" xml:space="preserve" style="font-family:'Liberation Sans',sans-serif;font-size:21px">19</text>
<line x1="587.5" y1="1115.9" x2="587.5" y2="1122.9" stroke="#000" stroke-width="1.6"/>
<text transform="translate(587.5,1145.6) scale(1.060,1)" text-anchor="middle" fill="#000" stroke="#000" stroke-width="0.35" xml:space="preserve" style="font-family:'Liberation Sans',sans-serif;font-size:21px">21</text>
<line x1="634.5" y1="1115.9" x2="634.5" y2="1122.9" stroke="#000" stroke-width="1.6"/>
<text transform="translate(634.5,1145.6) scale(1.060,1)" text-anchor="middle" fill="#000" stroke="#000" stroke-width="0.35" xml:space="preserve" style="font-family:'Liberation Sans',sans-serif;font-size:21px">23</text>
<line x1="681.5" y1="1115.9" x2="681.5" y2="1122.9" stroke="#000" stroke-width="1.6"/>
<text transform="translate(681.5,1145.6) scale(1.060,1)" text-anchor="middle" fill="#000" stroke="#000" stroke-width="0.35" xml:space="preserve" style="font-family:'Liberation Sans',sans-serif;font-size:21px">25</text>
<line x1="728.6" y1="1115.9" x2="728.6" y2="1122.9" stroke="#000" stroke-width="1.6"/>
<text transform="translate(728.6,1145.6) scale(1.060,1)" text-anchor="middle" fill="#000" stroke="#000" stroke-width="0.35" xml:space="preserve" style="font-family:'Liberation Sans',sans-serif;font-size:21px">27</text>
<line x1="775.6" y1="1115.9" x2="775.6" y2="1122.9" stroke="#000" stroke-width="1.6"/>
<text transform="translate(775.6,1145.6) scale(1.060,1)" text-anchor="middle" fill="#000" stroke="#000" stroke-width="0.35" xml:space="preserve" style="font-family:'Liberation Sans',sans-serif;font-size:21px">29</text>
<line x1="822.7" y1="1115.9" x2="822.7" y2="1122.9" stroke="#000" stroke-width="1.6"/>
<text transform="translate(822.7,1145.6) scale(1.060,1)" text-anchor="middle" fill="#000" stroke="#000" stroke-width="0.35" xml:space="preserve" style="font-family:'Liberation Sans',sans-serif;font-size:21px">31</text>
<line x1="110.0" y1="728.0" x2="117.0" y2="728.0" stroke="#000" stroke-width="1.6"/>
<text transform="translate(91.2,737.6) scale(1.080,1)" text-anchor="end" fill="#000" stroke="#000" stroke-width="0.35" xml:space="preserve" style="font-family:'Liberation Sans',sans-serif;font-size:21px">10</text>
<text transform="translate(94.3,729.2) scale(1.050,1)" text-anchor="start" fill="#000" stroke="#000" stroke-width="0.35" xml:space="preserve" style="font-family:'Liberation Sans',sans-serif;font-size:14.6px">1</text>
<line x1="110.0" y1="845.3" x2="117.0" y2="845.3" stroke="#000" stroke-width="1.6"/>
<text transform="translate(91.2,854.9) scale(1.080,1)" text-anchor="end" fill="#000" stroke="#000" stroke-width="0.35" xml:space="preserve" style="font-family:'Liberation Sans',sans-serif;font-size:21px">10</text>
<text transform="translate(94.3,846.5) scale(1.050,1)" text-anchor="start" fill="#000" stroke="#000" stroke-width="0.35" xml:space="preserve" style="font-family:'Liberation Sans',sans-serif;font-size:14.6px">0</text>
<line x1="110.0" y1="962.6" x2="117.0" y2="962.6" stroke="#000" stroke-width="1.6"/>
<text transform="translate(80.2,972.2) scale(1.080,1)" text-anchor="end" fill="#000" stroke="#000" stroke-width="0.35" xml:space="preserve" style="font-family:'Liberation Sans',sans-serif;font-size:21px">10</text>
<text transform="translate(83.6,963.8) scale(1.050,1)" text-anchor="start" fill="#000" stroke="#000" stroke-width="0.35" xml:space="preserve" style="font-family:'Liberation Sans',sans-serif;font-size:14.6px">−1</text>
<line x1="110.0" y1="1079.9" x2="117.0" y2="1079.9" stroke="#000" stroke-width="1.6"/>
<text transform="translate(80.2,1089.5) scale(1.080,1)" text-anchor="end" fill="#000" stroke="#000" stroke-width="0.35" xml:space="preserve" style="font-family:'Liberation Sans',sans-serif;font-size:21px">10</text>
<text transform="translate(83.6,1081.1) scale(1.050,1)" text-anchor="start" fill="#000" stroke="#000" stroke-width="0.35" xml:space="preserve" style="font-family:'Liberation Sans',sans-serif;font-size:14.6px">−2</text>
<line x1="113.0" y1="1115.2" x2="117.0" y2="1115.2" stroke="#000" stroke-width="1.2"/>
<line x1="113.0" y1="1105.9" x2="117.0" y2="1105.9" stroke="#000" stroke-width="1.2"/>
<line x1="113.0" y1="1098.1" x2="117.0" y2="1098.1" stroke="#000" stroke-width="1.2"/>
<line x1="113.0" y1="1091.3" x2="117.0" y2="1091.3" stroke="#000" stroke-width="1.2"/>
<line x1="113.0" y1="1085.3" x2="117.0" y2="1085.3" stroke="#000" stroke-width="1.2"/>
<line x1="113.0" y1="1044.6" x2="117.0" y2="1044.6" stroke="#000" stroke-width="1.2"/>
<line x1="113.0" y1="1023.9" x2="117.0" y2="1023.9" stroke="#000" stroke-width="1.2"/>
<line x1="113.0" y1="1009.3" x2="117.0" y2="1009.3" stroke="#000" stroke-width="1.2"/>
<line x1="113.0" y1="997.9" x2="117.0" y2="997.9" stroke="#000" stroke-width="1.2"/>
<line x1="113.0" y1="988.6" x2="117.0" y2="988.6" stroke="#000" stroke-width="1.2"/>
<line x1="113.0" y1="980.8" x2="117.0" y2="980.8" stroke="#000" stroke-width="1.2"/>
<line x1="113.0" y1="974.0" x2="117.0" y2="974.0" stroke="#000" stroke-width="1.2"/>
<line x1="113.0" y1="968.0" x2="117.0" y2="968.0" stroke="#000" stroke-width="1.2"/>
<line x1="113.0" y1="927.3" x2="117.0" y2="927.3" stroke="#000" stroke-width="1.2"/>
<line x1="113.0" y1="906.6" x2="117.0" y2="906.6" stroke="#000" stroke-width="1.2"/>
<line x1="113.0" y1="892.0" x2="117.0" y2="892.0" stroke="#000" stroke-width="1.2"/>
<line x1="113.0" y1="880.6" x2="117.0" y2="880.6" stroke="#000" stroke-width="1.2"/>
<line x1="113.0" y1="871.3" x2="117.0" y2="871.3" stroke="#000" stroke-width="1.2"/>
<line x1="113.0" y1="863.5" x2="117.0" y2="863.5" stroke="#000" stroke-width="1.2"/>
<line x1="113.0" y1="856.7" x2="117.0" y2="856.7" stroke="#000" stroke-width="1.2"/>
<line x1="113.0" y1="850.7" x2="117.0" y2="850.7" stroke="#000" stroke-width="1.2"/>
<line x1="113.0" y1="810.0" x2="117.0" y2="810.0" stroke="#000" stroke-width="1.2"/>
<line x1="113.0" y1="789.3" x2="117.0" y2="789.3" stroke="#000" stroke-width="1.2"/>
<line x1="113.0" y1="774.7" x2="117.0" y2="774.7" stroke="#000" stroke-width="1.2"/>
<line x1="113.0" y1="763.3" x2="117.0" y2="763.3" stroke="#000" stroke-width="1.2"/>
<line x1="113.0" y1="754.0" x2="117.0" y2="754.0" stroke="#000" stroke-width="1.2"/>
<line x1="113.0" y1="746.2" x2="117.0" y2="746.2" stroke="#000" stroke-width="1.2"/>
<line x1="113.0" y1="739.4" x2="117.0" y2="739.4" stroke="#000" stroke-width="1.2"/>
<line x1="113.0" y1="733.4" x2="117.0" y2="733.4" stroke="#000" stroke-width="1.2"/>
<line x1="113.0" y1="692.7" x2="117.0" y2="692.7" stroke="#000" stroke-width="1.2"/>
<line x1="113.0" y1="672.0" x2="117.0" y2="672.0" stroke="#000" stroke-width="1.2"/>
<line x1="113.0" y1="657.4" x2="117.0" y2="657.4" stroke="#000" stroke-width="1.2"/>
<text transform="translate(189.5,643.0) scale(1.110,1)" text-anchor="middle" fill="#ff0000" stroke="#ff0000" stroke-width="0.35" xml:space="preserve" style="font-family:'Liberation Sans',sans-serif;font-size:21px">-180dB</text>
<text transform="translate(335.3,643.0) scale(1.110,1)" text-anchor="middle" fill="#ff0000" stroke="#ff0000" stroke-width="0.35" xml:space="preserve" style="font-family:'Liberation Sans',sans-serif;font-size:21px">-160dB</text>
<text transform="translate(481.1,643.0) scale(1.110,1)" text-anchor="middle" fill="#ff0000" stroke="#ff0000" stroke-width="0.35" xml:space="preserve" style="font-family:'Liberation Sans',sans-serif;font-size:21px">-140dB</text>
<text transform="translate(626.9,643.0) scale(1.110,1)" text-anchor="middle" fill="#ff0000" stroke="#ff0000" stroke-width="0.35" xml:space="preserve" style="font-family:'Liberation Sans',sans-serif;font-size:21px">-120dB</text>
<text transform="translate(772.7,643.0) scale(1.110,1)" text-anchor="middle" fill="#ff0000" stroke="#ff0000" stroke-width="0.35" xml:space="preserve" style="font-family:'Liberation Sans',sans-serif;font-size:21px">-100dB</text>
<text transform="translate(477.4,1174.9) scale(1.045,1)" text-anchor="middle" fill="#000" stroke="#000" stroke-width="0.35" xml:space="preserve" style="font-family:'Liberation Sans',sans-serif;font-size:21px">August 2023 UP KALU  HHN</text>
<text transform="translate(39.8,882.2) rotate(-90) scale(1.140,1)" text-anchor="middle" fill="#000" stroke="#000" stroke-width="0.35" xml:space="preserve" style="font-family:'Liberation Sans',sans-serif;font-size:21px">f [Hz]</text>
<rect x="892.1" y="646.9" width="22.4" height="469.0" fill="url(#jetg)"/>
<rect x="892.1" y="646.9" width="22.4" height="469.0" fill="none" stroke="#000" stroke-width="1.6"/>
<line x1="914.5" y1="646.9" x2="921.9" y2="646.9" stroke="#000" stroke-width="1.6"/>
<text transform="translate(930.2,654.5) scale(1.060,1)" text-anchor="start" fill="#000" stroke="#000" stroke-width="0.35" xml:space="preserve" style="font-family:'Liberation Sans',sans-serif;font-size:21px">20</text>
<line x1="914.5" y1="740.7" x2="921.9" y2="740.7" stroke="#000" stroke-width="1.6"/>
<text transform="translate(930.2,748.3) scale(1.060,1)" text-anchor="start" fill="#000" stroke="#000" stroke-width="0.35" xml:space="preserve" style="font-family:'Liberation Sans',sans-serif;font-size:21px">15</text>
<line x1="914.5" y1="834.5" x2="921.9" y2="834.5" stroke="#000" stroke-width="1.6"/>
<text transform="translate(930.2,842.1) scale(1.060,1)" text-anchor="start" fill="#000" stroke="#000" stroke-width="0.35" xml:space="preserve" style="font-family:'Liberation Sans',sans-serif;font-size:21px">10</text>
<line x1="914.5" y1="928.3" x2="921.9" y2="928.3" stroke="#000" stroke-width="1.6"/>
<text transform="translate(930.2,935.9) scale(1.060,1)" text-anchor="start" fill="#000" stroke="#000" stroke-width="0.35" xml:space="preserve" style="font-family:'Liberation Sans',sans-serif;font-size:21px">5</text>
<line x1="914.5" y1="1022.1" x2="921.9" y2="1022.1" stroke="#000" stroke-width="1.6"/>
<text transform="translate(930.2,1029.7) scale(1.060,1)" text-anchor="start" fill="#000" stroke="#000" stroke-width="0.35" xml:space="preserve" style="font-family:'Liberation Sans',sans-serif;font-size:21px">0</text>
<line x1="914.5" y1="1115.9" x2="921.9" y2="1115.9" stroke="#000" stroke-width="1.6"/>
<text transform="translate(930.2,1123.5) scale(1.200,1)" text-anchor="start" fill="#000" stroke="#000" stroke-width="0.35" xml:space="preserve" style="font-family:'Liberation Sans',sans-serif;font-size:21px">−5</text>
<text transform="translate(983.5,881.4) rotate(-90) scale(1.133,1)" text-anchor="middle" fill="#000" stroke="#000" stroke-width="0.35" xml:space="preserve" style="font-family:'Liberation Sans',sans-serif;font-size:21px">residual [dB] from average curve</text><clipPath id="cp2"><rect x="117.0" y="1248.9" width="729.2" height="469.0"/></clipPath>
<g clip-path="url(#cp2)">
<g transform="translate(0,1204.0)"><rect x="117.0" y="44.9" width="729.2" height="469.0" fill="#00009b"/><g><rect x="115.0" y="392" width="4.5" height="124" fill="url(#sB)"/><rect x="129.1" y="394" width="2.3" height="122" fill="url(#sB)"/><rect x="141.9" y="419" width="1.7" height="97" fill="url(#sB)"/><rect x="152.9" y="420" width="2.3" height="96" fill="url(#sLB)"/><rect x="162.0" y="371" width="2.3" height="145" fill="url(#sB)"/><rect x="165.9" y="398" width="4.5" height="118" fill="url(#sB)"/><rect x="179.1" y="404" width="4.5" height="111" fill="url(#sB)"/><rect x="192.2" y="415" width="3.4" height="101" fill="url(#sB)"/><rect x="200.3" y="393" width="2.8" height="123" fill="url(#sB)"/><rect x="207.0" y="397" width="4.5" height="119" fill="url(#sB)"/><rect x="218.6" y="392" width="4.1" height="124" fill="url(#sR)"/><rect x="223.0" y="397" width="2.8" height="118" fill="url(#sB)"/><rect x="235.4" y="427" width="2.8" height="89" fill="url(#sB)"/><rect x="249.1" y="399" width="4.5" height="117" fill="url(#sB)"/><rect x="264.3" y="394" width="2.3" height="122" fill="url(#sLB)"/><rect x="279.1" y="412" width="7.6" height="104" fill="url(#sG)"/><rect x="287.9" y="369" width="4.5" height="147" fill="url(#sC)"/><rect x="295.1" y="388" width="2.3" height="128" fill="url(#sB)"/><rect x="310.4" y="419" width="3.4" height="96" fill="url(#sB)"/><rect x="321.2" y="381" width="3.5" height="135" fill="url(#sG)"/><rect x="325.8" y="404" width="3.5" height="112" fill="url(#sC)"/><rect x="329.8" y="382" width="4.5" height="134" fill="url(#sB)"/><rect x="336.4" y="374" width="2.3" height="142" fill="url(#sB)"/><rect x="351.7" y="389" width="2.8" height="127" fill="url(#sB)"/><rect x="366.8" y="397" width="2.3" height="119" fill="url(#sB)"/><rect x="380.7" y="367" width="2.3" height="149" fill="url(#sLB)"/><rect x="386.7" y="408" width="3.4" height="108" fill="url(#sLB)"/><rect x="394.2" y="372" width="2.8" height="144" fill="url(#sLB)"/><rect x="400.5" y="415" width="3.4" height="101" fill="url(#sLB)"/><rect x="416.8" y="375" width="3.4" height="140" fill="url(#sLB)"/><rect x="425.0" y="414" width="2.3" height="102" fill="url(#sB)"/><rect x="439.1" y="437" width="2.3" height="79" fill="url(#sLB)"/><rect x="452.2" y="386" width="2.3" height="130" fill="url(#sB)"/><rect x="467.6" y="417" width="1.7" height="99" fill="url(#sLB)"/><rect x="480.6" y="399" width="2.3" height="117" fill="url(#sLB)"/><rect x="493.2" y="437" width="1.7" height="79" fill="url(#sB)"/><rect x="501.0" y="416" width="3.4" height="100" fill="url(#sB)"/><rect x="518.0" y="409" width="2.8" height="107" fill="url(#sB)"/><rect x="526.2" y="439" width="3.4" height="77" fill="url(#sB)"/><rect x="533.6" y="422" width="4.5" height="94" fill="url(#sB)"/><rect x="554.3" y="401" width="4.5" height="115" fill="url(#sB)"/><rect x="569.0" y="385" width="2.8" height="130" fill="url(#sB)"/><rect x="587.1" y="437" width="2.2" height="79" fill="url(#sLB)"/><rect x="599.1" y="374" width="1.7" height="142" fill="url(#sB)"/><rect x="614.7" y="423" width="2.2" height="93" fill="url(#sB)"/><rect x="629.1" y="382" width="3.4" height="134" fill="url(#sLB)"/><rect x="647.6" y="421" width="2.8" height="95" fill="url(#sB)"/><rect x="655.6" y="383" width="3.4" height="133" fill="url(#sB)"/><rect x="667.6" y="368" width="1.7" height="148" fill="url(#sB)"/><rect x="680.8" y="417" width="4.5" height="99" fill="url(#sB)"/><rect x="687.6" y="440" width="3.4" height="76" fill="url(#sB)"/><rect x="692.1" y="427" width="1.7" height="88" fill="url(#sB)"/><rect x="710.5" y="369" width="1.7" height="147" fill="url(#sB)"/><rect x="720.6" y="370" width="3.4" height="146" fill="url(#sLB)"/><rect x="728.0" y="384" width="2.2" height="132" fill="url(#sLB)"/><rect x="734.0" y="428" width="2.2" height="88" fill="url(#sB)"/><rect x="747.3" y="374" width="1.7" height="142" fill="url(#sB)"/><rect x="758.7" y="387" width="2.8" height="129" fill="url(#sLB)"/><rect x="770.6" y="367" width="2.0" height="149" fill="url(#sB)"/><rect x="773.4" y="427" width="5.4" height="89" fill="url(#sB)"/><rect x="781.8" y="438" width="2.7" height="78" fill="url(#sLB)"/><rect x="786.1" y="383" width="5.4" height="133" fill="url(#sC)"/><rect x="793.7" y="402" width="3.4" height="114" fill="url(#sB)"/><rect x="805.9" y="398" width="1.7" height="118" fill="url(#sLB)"/><rect x="812.9" y="383" width="4.5" height="133" fill="url(#sB)"/><rect x="824.9" y="397" width="1.7" height="119" fill="url(#sLB)"/><rect x="839.0" y="392" width="3.5" height="123" fill="url(#sC)"/><rect x="844.6" y="387" width="2.6" height="129" fill="url(#sG)"/><rect x="848.1" y="412" width="7.0" height="104" fill="url(#sG)"/><rect x="208.0" y="427" width="12" height="89" fill="url(#sY)"/><rect x="213.0" y="440" width="4" height="76" fill="url(#sR)"/><rect x="276.0" y="440" width="4" height="76" fill="url(#sY)"/><rect x="282.0" y="440" width="4" height="76" fill="url(#sY)"/><rect x="317.0" y="420" width="10" height="96" fill="url(#sC)"/><rect x="360.0" y="420" width="3" height="96" fill="url(#sC)"/><rect x="420.0" y="420" width="3" height="96" fill="url(#sC)"/><rect x="500.0" y="420" width="3" height="96" fill="url(#sC)"/><rect x="560.0" y="420" width="3" height="96" fill="url(#sC)"/><rect x="640.0" y="420" width="3" height="96" fill="url(#sC)"/><rect x="700.0" y="420" width="3" height="96" fill="url(#sC)"/><rect x="773.0" y="400" width="6" height="116" fill="url(#sR)"/><rect x="831.0" y="400" width="4" height="116" fill="url(#sY)"/><rect x="836.0" y="400" width="4" height="116" fill="url(#sR)"/><rect x="842.0" y="400" width="4" height="116" fill="url(#sG)"/><rect x="150.0" y="420" width="3" height="96" fill="url(#sC)"/><rect x="250.0" y="420" width="3" height="96" fill="url(#sC)"/></g><g filter="url(#bl4)"><rect x="105.0" y="30" width="30.0" height="172" fill="#0000e1"/><rect x="135.0" y="30" width="5.0" height="172" fill="#0000ce"/><rect x="140.0" y="30" width="40.0" height="172" fill="#0000ce"/><rect x="180.0" y="30" width="5.0" height="172" fill="#0000e1"/><rect x="185.0" y="30" width="15.0" height="172" fill="#0000e1"/><rect x="200.0" y="30" width="10.0" height="172" fill="#0000c5"/><rect x="210.0" y="30" width="30.0" height="172" fill="#0000c5"/><rect x="240.0" y="30" width="20.0" height="172" fill="#0000c5"/><rect x="260.0" y="30" width="5.0" height="172" fill="#0000f8"/><rect x="265.0" y="30" width="35.0" height="172" fill="#0000f8"/><rect x="300.0" y="30" width="20.0" height="172" fill="#0000e1"/><rect x="320.0" y="30" width="10.0" height="172" fill="#0000e1"/><rect x="330.0" y="30" width="5.0" height="172" fill="#0000c5"/><rect x="335.0" y="30" width="30.0" height="172" fill="#0000c5"/><rect x="365.0" y="30" width="5.0" height="172" fill="#0000c5"/><rect x="370.0" y="30" width="10.0" height="172" fill="#0000e1"/><rect x="380.0" y="30" width="20.0" height="172" fill="#0000e1"/><rect x="400.0" y="30" width="10.0" height="172" fill="#0000d8"/><rect x="410.0" y="30" width="30.0" height="172" fill="#0000d8"/><rect x="440.0" y="30" width="42.0" height="172" fill="#0000e1"/><rect x="482.0" y="30" width="18.0" height="172" fill="#0000e1"/><rect x="500.0" y="30" width="30.0" height="172" fill="#0000b2"/><rect x="530.0" y="30" width="25.0" height="172" fill="#0000c0"/><rect x="555.0" y="30" width="25.0" height="172" fill="#0000ea"/><rect x="580.0" y="30" width="20.0" height="172" fill="#0000ea"/><rect x="600.0" y="30" width="10.0" height="172" fill="#0000e1"/><rect x="610.0" y="30" width="10.0" height="172" fill="#0000e1"/><rect x="620.0" y="30" width="5.0" height="172" fill="#0000ff"/><rect x="625.0" y="30" width="25.0" height="172" fill="#0000ff"/><rect x="650.0" y="30" width="40.0" height="172" fill="#0000e1"/><rect x="690.0" y="30" width="60.0" height="172" fill="#0000a5"/><rect x="750.0" y="30" width="5.0" height="172" fill="#0000a5"/><rect x="755.0" y="30" width="30.0" height="172" fill="#0000ff"/><rect x="785.0" y="30" width="15.0" height="172" fill="#0000ff"/><rect x="800.0" y="30" width="15.0" height="172" fill="#0000ff"/><rect x="815.0" y="30" width="43.2" height="172" fill="#0000ea"/><rect x="105.0" y="200" width="30.0" height="36" fill="#0000dc"/><rect x="135.0" y="200" width="3.0" height="36" fill="#0000d3"/><rect x="138.0" y="200" width="2.0" height="36" fill="#003cff"/><rect x="140.0" y="200" width="39.0" height="36" fill="#003cff"/><rect x="179.0" y="200" width="1.0" height="36" fill="#0000da"/><rect x="180.0" y="200" width="5.0" height="36" fill="#0000e3"/><rect x="185.0" y="200" width="15.0" height="36" fill="#0000e3"/><rect x="200.0" y="200" width="7.0" height="36" fill="#0000d5"/><rect x="207.0" y="200" width="3.0" height="36" fill="#002eff"/><rect x="210.0" y="200" width="30.0" height="36" fill="#002eff"/><rect x="240.0" y="200" width="16.0" height="36" fill="#002eff"/><rect x="256.0" y="200" width="4.0" height="36" fill="#0000da"/><rect x="260.0" y="200" width="5.0" height="36" fill="#0000f3"/><rect x="265.0" y="200" width="19.0" height="36" fill="#0000f3"/><rect x="284.0" y="200" width="16.0" height="36" fill="#0059ff"/><rect x="300.0" y="200" width="20.0" height="36" fill="#004fff"/><rect x="320.0" y="200" width="10.0" height="36" fill="#004fff"/><rect x="330.0" y="200" width="5.0" height="36" fill="#0042ff"/><rect x="335.0" y="200" width="11.0" height="36" fill="#0042ff"/><rect x="346.0" y="200" width="19.0" height="36" fill="#0000df"/><rect x="365.0" y="200" width="5.0" height="36" fill="#0000df"/><rect x="370.0" y="200" width="4.0" height="36" fill="#0000ec"/><rect x="374.0" y="200" width="6.0" height="36" fill="#004aff"/><rect x="380.0" y="200" width="20.0" height="36" fill="#004aff"/><rect x="400.0" y="200" width="10.0" height="36" fill="#0046ff"/><rect x="410.0" y="200" width="5.0" height="36" fill="#0046ff"/><rect x="415.0" y="200" width="21.0" height="36" fill="#0000e8"/><rect x="436.0" y="200" width="4.0" height="36" fill="#002cff"/><rect x="440.0" y="200" width="38.0" height="36" fill="#0030ff"/><rect x="478.0" y="200" width="4.0" height="36" fill="#0011ff"/><rect x="482.0" y="200" width="3.0" height="36" fill="#0011ff"/><rect x="485.0" y="200" width="15.0" height="36" fill="#0040ff"/><rect x="500.0" y="200" width="30.0" height="36" fill="#002cff"/><rect x="530.0" y="200" width="3.0" height="36" fill="#0032ff"/><rect x="533.0" y="200" width="14.0" height="36" fill="#0000ef"/><rect x="547.0" y="200" width="8.0" height="36" fill="#0028ff"/><rect x="555.0" y="200" width="25.0" height="36" fill="#003aff"/><rect x="580.0" y="200" width="9.0" height="36" fill="#003aff"/><rect x="589.0" y="200" width="11.0" height="36" fill="#0000ec"/><rect x="600.0" y="200" width="3.0" height="36" fill="#0000e8"/><rect x="603.0" y="200" width="7.0" height="36" fill="#0030ff"/><rect x="610.0" y="200" width="10.0" height="36" fill="#0030ff"/><rect x="620.0" y="200" width="5.0" height="36" fill="#003eff"/><rect x="625.0" y="200" width="5.0" height="36" fill="#003eff"/><rect x="630.0" y="200" width="20.0" height="36" fill="#0000e1"/><rect x="650.0" y="200" width="40.0" height="36" fill="#0000d1"/><rect x="690.0" y="200" width="5.0" height="36" fill="#0000b2"/><rect x="695.0" y="200" width="50.0" height="36" fill="#0000e1"/><rect x="745.0" y="200" width="5.0" height="36" fill="#0020ff"/><rect x="750.0" y="200" width="5.0" height="36" fill="#0020ff"/><rect x="755.0" y="200" width="29.0" height="36" fill="#004aff"/><rect x="784.0" y="200" width="1.0" height="36" fill="#0036ff"/><rect x="785.0" y="200" width="15.0" height="36" fill="#0034ff"/><rect x="800.0" y="200" width="15.0" height="36" fill="#0044ff"/><rect x="815.0" y="200" width="43.2" height="36" fill="#003aff"/><rect x="105.0" y="234" width="33.0" height="28" fill="#0000d8"/><rect x="105.0" y="261" width="33.0" height="30" fill="#0000d8"/><rect x="138.0" y="234" width="41.0" height="28" fill="#00a2ff"/><rect x="138.0" y="261" width="41.0" height="30" fill="#00c7ff"/><rect x="179.0" y="234" width="28.0" height="28" fill="#0000e5"/><rect x="179.0" y="261" width="28.0" height="30" fill="#0000e5"/><rect x="207.0" y="234" width="49.0" height="28" fill="#008eff"/><rect x="207.0" y="261" width="49.0" height="30" fill="#00b2ff"/><rect x="256.0" y="234" width="28.0" height="28" fill="#0000ef"/><rect x="256.0" y="261" width="28.0" height="30" fill="#0000ef"/><rect x="284.0" y="234" width="62.0" height="28" fill="#00b7ff"/><rect x="284.0" y="261" width="62.0" height="30" fill="#00dbff"/><rect x="346.0" y="234" width="28.0" height="28" fill="#0000f8"/><rect x="346.0" y="261" width="28.0" height="30" fill="#0000f8"/><rect x="374.0" y="234" width="41.0" height="28" fill="#00aeff"/><rect x="374.0" y="261" width="41.0" height="30" fill="#00d3ff"/><rect x="415.0" y="234" width="21.0" height="28" fill="#0000f8"/><rect x="415.0" y="261" width="21.0" height="30" fill="#0000f8"/><rect x="436.0" y="234" width="42.0" height="28" fill="#0079ff"/><rect x="436.0" y="261" width="42.0" height="30" fill="#009eff"/><rect x="478.0" y="234" width="7.0" height="28" fill="#004dff"/><rect x="478.0" y="261" width="7.0" height="30" fill="#004dff"/><rect x="485.0" y="234" width="48.0" height="28" fill="#009aff"/><rect x="485.0" y="261" width="48.0" height="30" fill="#00bfff"/><rect x="533.0" y="234" width="14.0" height="28" fill="#000bff"/><rect x="533.0" y="261" width="14.0" height="30" fill="#000bff"/><rect x="547.0" y="234" width="42.0" height="28" fill="#0086ff"/><rect x="547.0" y="261" width="42.0" height="30" fill="#00aaff"/><rect x="589.0" y="234" width="14.0" height="28" fill="#0000ef"/><rect x="589.0" y="261" width="14.0" height="30" fill="#0000ef"/><rect x="603.0" y="234" width="27.0" height="28" fill="#0079ff"/><rect x="603.0" y="261" width="27.0" height="30" fill="#009eff"/><rect x="630.0" y="234" width="65.0" height="28" fill="#0000c0"/><rect x="630.0" y="261" width="65.0" height="30" fill="#0000c0"/><rect x="695.0" y="234" width="50.0" height="28" fill="#000bff"/><rect x="695.0" y="261" width="50.0" height="30" fill="#000bff"/><rect x="745.0" y="234" width="39.0" height="28" fill="#008eff"/><rect x="745.0" y="261" width="39.0" height="30" fill="#00b2ff"/><rect x="784.0" y="234" width="16.0" height="28" fill="#0065ff"/><rect x="784.0" y="261" width="16.0" height="30" fill="#008aff"/><rect x="800.0" y="234" width="58.2" height="28" fill="#0086ff"/><rect x="800.0" y="261" width="58.2" height="30" fill="#00aaff"/></g><g mask="url(#stmask)"><rect x="117.0" y="44.9" width="729.2" height="255.1" filter="url(#vd2)" opacity="0.9"/><rect x="117.0" y="44.9" width="729.2" height="255.1" filter="url(#vl2)" opacity="0.55"/><rect x="118.0" y="44.9" width="2.5" height="173" fill="#00b0ff" opacity="0.41"/><line x1="143.7" y1="44.9" x2="143.7" y2="281" stroke="#0090ff" stroke-width="2.5" stroke-dasharray="2.1 2.3" opacity="0.43"/><line x1="163.6" y1="44.9" x2="163.6" y2="212" stroke="#10d8ff" stroke-width="1.5" stroke-dasharray="3.3 2.4" opacity="0.38"/><line x1="169.5" y1="44.9" x2="169.5" y2="279" stroke="#00b0ff" stroke-width="1.5" stroke-dasharray="3.9 2.9" opacity="0.43"/><rect x="177.3" y="44.9" width="1.2" height="171" fill="#0070ff" opacity="0.35"/><line x1="185.4" y1="44.9" x2="185.4" y2="259" stroke="#10d8ff" stroke-width="1.5" stroke-dasharray="2.1 2.8" opacity="0.53"/><line x1="197.5" y1="44.9" x2="197.5" y2="290" stroke="#0090ff" stroke-width="2" stroke-dasharray="2.4 1.1" opacity="0.60"/><line x1="207.1" y1="44.9" x2="207.1" y2="231" stroke="#0090ff" stroke-width="2.5" stroke-dasharray="2.1 2.8" opacity="0.55"/><rect x="228.7" y="44.9" width="1.2" height="156" fill="#40ffd0" opacity="0.48"/><rect x="251.9" y="44.9" width="2.5" height="181" fill="#0090ff" opacity="0.38"/><rect x="262.8" y="44.9" width="2.5" height="214" fill="#40ffd0" opacity="0.37"/><rect x="271.5" y="44.9" width="1.5" height="195" fill="#00b0ff" opacity="0.44"/><line x1="281.2" y1="44.9" x2="281.2" y2="202" stroke="#0090ff" stroke-width="2.5" stroke-dasharray="2.9 1.3" opacity="0.49"/><line x1="287.1" y1="44.9" x2="287.1" y2="208" stroke="#10d8ff" stroke-width="1.2" stroke-dasharray="2.4 2.0" opacity="0.59"/><rect x="304.1" y="44.9" width="1.2" height="158" fill="#0070ff" opacity="0.44"/><rect x="323.2" y="44.9" width="2.5" height="232" fill="#0070ff" opacity="0.51"/><line x1="347.8" y1="44.9" x2="347.8" y2="256" stroke="#0070ff" stroke-width="1.5" stroke-dasharray="2.9 1.0" opacity="0.43"/><rect x="360.2" y="44.9" width="1.2" height="233" fill="#00b0ff" opacity="0.45"/><rect x="374.7" y="44.9" width="2.5" height="232" fill="#10d8ff" opacity="0.41"/><rect x="386.7" y="44.9" width="1.5" height="203" fill="#0070ff" opacity="0.49"/><line x1="401.7" y1="44.9" x2="401.7" y2="274" stroke="#0090ff" stroke-width="2.5" stroke-dasharray="3.8 2.3" opacity="0.30"/><rect x="416.9" y="44.9" width="1.2" height="234" fill="#40ffd0" opacity="0.53"/><rect x="428.8" y="44.9" width="2.5" height="242" fill="#00b0ff" opacity="0.31"/><rect x="438.8" y="44.9" width="2.5" height="222" fill="#0090ff" opacity="0.64"/><line x1="450.3" y1="44.9" x2="450.3" y2="217" stroke="#00b0ff" stroke-width="2" stroke-dasharray="2.0 2.8" opacity="0.50"/><line x1="464.0" y1="44.9" x2="464.0" y2="226" stroke="#00b0ff" stroke-width="1.2" stroke-dasharray="3.9 1.3" opacity="0.57"/><rect x="487.1" y="44.9" width="2.5" height="233" fill="#0070ff" opacity="0.27"/><rect x="499.3" y="44.9" width="1.2" height="196" fill="#0090ff" opacity="0.51"/><line x1="522.1" y1="44.9" x2="522.1" y2="216" stroke="#0070ff" stroke-width="2" stroke-dasharray="3.5 2.3" opacity="0.42"/><line x1="531.8" y1="44.9" x2="531.8" y2="221" stroke="#0090ff" stroke-width="2" stroke-dasharray="1.6 2.0" opacity="0.50"/><rect x="545.1" y="44.9" width="1.5" height="186" fill="#10d8ff" opacity="0.47"/><line x1="568.4" y1="44.9" x2="568.4" y2="256" stroke="#0090ff" stroke-width="1.5" stroke-dasharray="2.6 2.6" opacity="0.33"/><rect x="580.1" y="44.9" width="2.5" height="180" fill="#10d8ff" opacity="0.40"/><rect x="587.8" y="44.9" width="1.2" height="241" fill="#0090ff" opacity="0.54"/><line x1="597.6" y1="44.9" x2="597.6" y2="238" stroke="#00b0ff" stroke-width="1.5" stroke-dasharray="2.1 2.9" opacity="0.55"/><rect x="620.3" y="44.9" width="1.2" height="228" fill="#0090ff" opacity="0.57"/><line x1="633.4" y1="44.9" x2="633.4" y2="202" stroke="#0070ff" stroke-width="2" stroke-dasharray="3.8 2.4" opacity="0.36"/><line x1="640.3" y1="44.9" x2="640.3" y2="218" stroke="#0090ff" stroke-width="2" stroke-dasharray="1.9 1.7" opacity="0.58"/><rect x="661.5" y="44.9" width="2.5" height="166" fill="#0070ff" opacity="0.31"/><rect x="683.8" y="44.9" width="2.5" height="211" fill="#10d8ff" opacity="0.47"/><rect x="695.7" y="44.9" width="2.5" height="240" fill="#0070ff" opacity="0.26"/><rect x="712.7" y="44.9" width="2" height="161" fill="#0090ff" opacity="0.27"/><rect x="729.5" y="44.9" width="2.5" height="211" fill="#40ffd0" opacity="0.44"/><rect x="738.2" y="44.9" width="2" height="223" fill="#0070ff" opacity="0.60"/><rect x="760.1" y="44.9" width="1.2" height="215" fill="#00b0ff" opacity="0.36"/><rect x="771.5" y="44.9" width="1.5" height="165" fill="#0070ff" opacity="0.54"/><line x1="784.0" y1="44.9" x2="784.0" y2="223" stroke="#10d8ff" stroke-width="1.2" stroke-dasharray="3.3 1.6" opacity="0.28"/><line x1="797.0" y1="44.9" x2="797.0" y2="279" stroke="#40ffd0" stroke-width="1.5" stroke-dasharray="1.5 2.6" opacity="0.28"/><rect x="809.2" y="44.9" width="2.5" height="168" fill="#0070ff" opacity="0.56"/><rect x="823.1" y="44.9" width="1.5" height="205" fill="#0070ff" opacity="0.41"/><line x1="373.8" y1="44.9" x2="373.8" y2="202" stroke="#00ffff" stroke-width="1.3" stroke-dasharray="1.5 2.6" opacity="0.76"/><line x1="521.1" y1="44.9" x2="521.1" y2="200" stroke="#00ffff" stroke-width="1.3" stroke-dasharray="1.5 6.9" opacity="0.80"/><line x1="789.2" y1="44.9" x2="789.2" y2="164" stroke="#00ffff" stroke-width="1.3" stroke-dasharray="1.5 5.6" opacity="0.72"/><line x1="797.5" y1="44.9" x2="797.5" y2="227" stroke="#40e0ff" stroke-width="1.3" stroke-dasharray="1.5 4.5" opacity="0.41"/><line x1="516.1" y1="44.9" x2="516.1" y2="185" stroke="#00ffff" stroke-width="1.3" stroke-dasharray="1.5 5.5" opacity="0.54"/><line x1="133.9" y1="44.9" x2="133.9" y2="264" stroke="#ffff00" stroke-width="1.3" stroke-dasharray="1.5 5.3" opacity="0.52"/><line x1="335.8" y1="44.9" x2="335.8" y2="210" stroke="#40e0ff" stroke-width="1.3" stroke-dasharray="1.5 5.0" opacity="0.61"/><line x1="155.7" y1="44.9" x2="155.7" y2="170" stroke="#ff8000" stroke-width="1.3" stroke-dasharray="1.5 6.7" opacity="0.47"/><line x1="397.4" y1="44.9" x2="397.4" y2="232" stroke="#00ffff" stroke-width="1.3" stroke-dasharray="1.5 4.1" opacity="0.74"/><line x1="671.0" y1="44.9" x2="671.0" y2="243" stroke="#0090ff" stroke-width="1.3" stroke-dasharray="1.5 5.8" opacity="0.77"/><line x1="367.8" y1="44.9" x2="367.8" y2="211" stroke="#40e0ff" stroke-width="1.3" stroke-dasharray="1.5 5.1" opacity="0.65"/><line x1="689.8" y1="44.9" x2="689.8" y2="218" stroke="#00ffff" stroke-width="1.3" stroke-dasharray="1.5 2.7" opacity="0.71"/><line x1="806.0" y1="44.9" x2="806.0" y2="180" stroke="#0090ff" stroke-width="1.3" stroke-dasharray="1.5 6.4" opacity="0.79"/><line x1="587.3" y1="44.9" x2="587.3" y2="207" stroke="#0090ff" stroke-width="1.3" stroke-dasharray="1.5 3.3" opacity="0.63"/><line x1="285.0" y1="44.9" x2="285.0" y2="174" stroke="#0090ff" stroke-width="1.3" stroke-dasharray="1.5 5.3" opacity="0.59"/><line x1="839.3" y1="44.9" x2="839.3" y2="209" stroke="#ff8000" stroke-width="1.3" stroke-dasharray="1.5 4.3" opacity="0.72"/><line x1="698.4" y1="44.9" x2="698.4" y2="216" stroke="#00ffff" stroke-width="1.3" stroke-dasharray="1.5 5.0" opacity="0.59"/><line x1="133.8" y1="44.9" x2="133.8" y2="206" stroke="#40e0ff" stroke-width="1.3" stroke-dasharray="1.5 6.5" opacity="0.44"/><line x1="662.8" y1="44.9" x2="662.8" y2="247" stroke="#0090ff" stroke-width="1.3" stroke-dasharray="1.5 5.5" opacity="0.64"/><line x1="510.5" y1="44.9" x2="510.5" y2="211" stroke="#40e0ff" stroke-width="1.3" stroke-dasharray="1.5 5.0" opacity="0.41"/><line x1="661.6" y1="44.9" x2="661.6" y2="213" stroke="#0090ff" stroke-width="1.3" stroke-dasharray="1.5 3.3" opacity="0.68"/><line x1="200.5" y1="44.9" x2="200.5" y2="279" stroke="#40e0ff" stroke-width="1.3" stroke-dasharray="1.5 6.2" opacity="0.42"/><line x1="296.1" y1="44.9" x2="296.1" y2="229" stroke="#40e0ff" stroke-width="1.3" stroke-dasharray="1.5 3.9" opacity="0.53"/><line x1="282.5" y1="44.9" x2="282.5" y2="187" stroke="#40e0ff" stroke-width="1.3" stroke-dasharray="1.5 3.4" opacity="0.47"/><line x1="432.8" y1="44.9" x2="432.8" y2="160" stroke="#00ffff" stroke-width="1.3" stroke-dasharray="1.5 5.2" opacity="0.64"/><line x1="170.0" y1="44.9" x2="170.0" y2="286" stroke="#00ffff" stroke-width="1.3" stroke-dasharray="1.5 3.5" opacity="0.55"/><line x1="745.1" y1="44.9" x2="745.1" y2="289" stroke="#ff8000" stroke-width="1.3" stroke-dasharray="1.5 5.8" opacity="0.52"/><line x1="491.4" y1="44.9" x2="491.4" y2="172" stroke="#0090ff" stroke-width="1.3" stroke-dasharray="1.5 6.9" opacity="0.66"/><line x1="576.3" y1="44.9" x2="576.3" y2="235" stroke="#0090ff" stroke-width="1.3" stroke-dasharray="1.5 3.5" opacity="0.70"/><line x1="754.5" y1="44.9" x2="754.5" y2="155" stroke="#0090ff" stroke-width="1.3" stroke-dasharray="1.5 3.9" opacity="0.47"/><line x1="129.8" y1="44.9" x2="129.8" y2="262" stroke="#00ffff" stroke-width="1.3" stroke-dasharray="1.5 2.6" opacity="0.56"/><line x1="641.5" y1="44.9" x2="641.5" y2="209" stroke="#0090ff" stroke-width="1.3" stroke-dasharray="1.5 4.7" opacity="0.62"/><line x1="157.5" y1="44.9" x2="157.5" y2="256" stroke="#0090ff" stroke-width="1.3" stroke-dasharray="1.5 3.8" opacity="0.63"/><line x1="550.6" y1="44.9" x2="550.6" y2="268" stroke="#00ffff" stroke-width="1.3" stroke-dasharray="1.5 5.3" opacity="0.52"/><line x1="679.5" y1="44.9" x2="679.5" y2="286" stroke="#40e0ff" stroke-width="1.3" stroke-dasharray="1.5 3.9" opacity="0.80"/><line x1="459.7" y1="44.9" x2="459.7" y2="251" stroke="#0090ff" stroke-width="1.3" stroke-dasharray="1.5 5.5" opacity="0.78"/><line x1="130.6" y1="44.9" x2="130.6" y2="238" stroke="#ff8000" stroke-width="1.3" stroke-dasharray="1.5 3.0" opacity="0.40"/><line x1="459.4" y1="44.9" x2="459.4" y2="251" stroke="#0090ff" stroke-width="1.3" stroke-dasharray="1.5 3.8" opacity="0.76"/><line x1="172.6" y1="44.9" x2="172.6" y2="182" stroke="#0090ff" stroke-width="1.3" stroke-dasharray="1.5 5.8" opacity="0.65"/><line x1="278.8" y1="44.9" x2="278.8" y2="176" stroke="#40e0ff" stroke-width="1.3" stroke-dasharray="1.5 5.0" opacity="0.59"/><line x1="735.0" y1="44.9" x2="735.0" y2="199" stroke="#ffff00" stroke-width="1.3" stroke-dasharray="1.5 3.4" opacity="0.75"/><line x1="791.8" y1="44.9" x2="791.8" y2="183" stroke="#40e0ff" stroke-width="1.3" stroke-dasharray="1.5 3.6" opacity="0.68"/><line x1="174.9" y1="44.9" x2="174.9" y2="228" stroke="#00ffff" stroke-width="1.3" stroke-dasharray="1.5 3.0" opacity="0.56"/><line x1="693.9" y1="44.9" x2="693.9" y2="224" stroke="#00ffff" stroke-width="1.3" stroke-dasharray="1.5 4.7" opacity="0.71"/><line x1="308.3" y1="44.9" x2="308.3" y2="195" stroke="#0090ff" stroke-width="1.3" stroke-dasharray="1.5 2.8" opacity="0.45"/><line x1="482.2" y1="44.9" x2="482.2" y2="209" stroke="#0090ff" stroke-width="1.3" stroke-dasharray="1.5 3.0" opacity="0.77"/><line x1="151.2" y1="44.9" x2="151.2" y2="205" stroke="#0090ff" stroke-width="1.3" stroke-dasharray="1.5 4.6" opacity="0.70"/><line x1="784.8" y1="44.9" x2="784.8" y2="152" stroke="#0090ff" stroke-width="1.3" stroke-dasharray="1.5 2.9" opacity="0.77"/><line x1="609.4" y1="44.9" x2="609.4" y2="164" stroke="#0090ff" stroke-width="1.3" stroke-dasharray="1.5 3.7" opacity="0.78"/><line x1="474.2" y1="44.9" x2="474.2" y2="254" stroke="#0090ff" stroke-width="1.3" stroke-dasharray="1.5 4.4" opacity="0.62"/><line x1="431.5" y1="44.9" x2="431.5" y2="251" stroke="#40e0ff" stroke-width="1.3" stroke-dasharray="1.5 6.6" opacity="0.57"/><line x1="830.9" y1="44.9" x2="830.9" y2="275" stroke="#00ffff" stroke-width="1.3" stroke-dasharray="1.5 5.3" opacity="0.54"/><line x1="510.6" y1="44.9" x2="510.6" y2="263" stroke="#0090ff" stroke-width="1.3" stroke-dasharray="1.5 5.1" opacity="0.60"/><line x1="201.5" y1="44.9" x2="201.5" y2="263" stroke="#0090ff" stroke-width="1.3" stroke-dasharray="1.5 5.4" opacity="0.60"/><line x1="528.9" y1="44.9" x2="528.9" y2="233" stroke="#0090ff" stroke-width="1.3" stroke-dasharray="1.5 2.8" opacity="0.51"/><line x1="117.0" y1="122.4" x2="846.2" y2="122.4" stroke="#30e0ff" stroke-width="1.3" stroke-dasharray="3 2" opacity="0.5"/><line x1="117.0" y1="64.4" x2="846.2" y2="64.4" stroke="#30e0ff" stroke-width="1.3" stroke-dasharray="3 2" opacity="0.4"/><line x1="117.0" y1="143.5" x2="846.2" y2="143.5" stroke="#30e0ff" stroke-width="1.3" stroke-dasharray="3 2" opacity="0.4"/><line x1="117.0" y1="120.8" x2="846.2" y2="120.8" stroke="#000060" stroke-width="1.3" stroke-dasharray="3 2" opacity="0.5"/><line x1="117.0" y1="75" x2="846.2" y2="75" stroke="#000060" stroke-width="1.3" stroke-dasharray="3 2" opacity="0.5"/><rect x="131.2" y="44.9" width="1.6" height="255" fill="#ffd000" opacity="0.7"/><rect x="180.2" y="44.9" width="1.6" height="255" fill="#ff4000" opacity="0.6"/><rect x="224.7" y="44.9" width="1.6" height="255" fill="#ffff40" opacity="0.7"/><rect x="262.2" y="44.9" width="1.6" height="255" fill="#00ffff" opacity="0.7"/><rect x="340.2" y="44.9" width="1.6" height="255" fill="#ff8000" opacity="0.6"/><rect x="527.2" y="44.9" width="1.6" height="255" fill="#ffff00" opacity="0.6"/><rect x="619.2" y="44.9" width="1.6" height="255" fill="#ffd000" opacity="0.5"/><rect x="659.2" y="44.9" width="1.6" height="255" fill="#ffff00" opacity="0.5"/><rect x="772.2" y="44.9" width="1.6" height="255" fill="#ff6000" opacity="0.6"/><rect x="831.2" y="44.9" width="1.6" height="255" fill="#ffff00" opacity="0.6"/></g><rect x="117.0" y="44.9" width="729.2" height="255.1" filter="url(#sp2)" opacity="0.5"/><g filter="url(#bl6)"><ellipse cx="730.0" cy="222.5" rx="30.0" ry="62.5" fill="#0000c5" fill-opacity="0.5"/><ellipse cx="666.0" cy="247.5" rx="36.0" ry="52.5" fill="#000092" fill-opacity="0.65"/></g><rect x="117.0" y="44.9" width="729.2" height="255.1" fill="url(#up2)"/><rect x="117.0" y="44.9" width="729.2" height="165.1" fill="url(#vshade)"/><g filter="url(#bl3)"><ellipse cx="145.0" cy="308.0" rx="35.0" ry="28.0" fill="#000080" fill-opacity="0.95"/><ellipse cx="697.5" cy="294.0" rx="67.5" ry="26.0" fill="#000080" fill-opacity="0.9"/><ellipse cx="432.5" cy="298.5" rx="22.5" ry="13.5" fill="#000097" fill-opacity="0.7"/><ellipse cx="253.0" cy="292.5" rx="17.0" ry="12.5" fill="#0000ae" fill-opacity="0.6"/></g><g filter="url(#bl5)" opacity="0.95"><rect x="105.0" y="282" width="65.0" height="15" fill="#000089"/><rect x="170.0" y="282" width="25.0" height="15" fill="#0075ff"/><rect x="195.0" y="282" width="40.0" height="15" fill="#00a6ff"/><rect x="235.0" y="282" width="35.0" height="15" fill="#004dff"/><rect x="270.0" y="282" width="30.0" height="15" fill="#008aff"/><rect x="300.0" y="282" width="67.0" height="15" fill="#00b2ff"/><rect x="367.0" y="282" width="38.0" height="15" fill="#0075ff"/><rect x="405.0" y="282" width="55.0" height="15" fill="#000fff"/><rect x="460.0" y="282" width="20.0" height="15" fill="#0075ff"/><rect x="480.0" y="282" width="120.0" height="15" fill="#08f0ef"/><rect x="600.0" y="282" width="47.0" height="15" fill="#0075ff"/><rect x="647.0" y="282" width="130.0" height="15" fill="#000097"/><rect x="777.0" y="282" width="81.2" height="15" fill="#0061ff"/><rect x="105.0" y="295" width="65.0" height="14" fill="#000089"/><rect x="170.0" y="295" width="20.0" height="14" fill="#004dff"/><rect x="190.0" y="295" width="50.0" height="14" fill="#00b2ff"/><rect x="240.0" y="295" width="30.0" height="14" fill="#0024ff"/><rect x="270.0" y="295" width="30.0" height="14" fill="#00c7ff"/><rect x="300.0" y="295" width="45.0" height="14" fill="#4affad"/><rect x="345.0" y="295" width="22.0" height="14" fill="#00c7ff"/><rect x="367.0" y="295" width="38.0" height="14" fill="#000097"/><rect x="405.0" y="295" width="75.0" height="14" fill="#000097"/><rect x="480.0" y="295" width="80.0" height="14" fill="#6bff8c"/><rect x="560.0" y="295" width="43.0" height="14" fill="#29ffce"/><rect x="603.0" y="295" width="44.0" height="14" fill="#00b2ff"/><rect x="647.0" y="295" width="130.0" height="14" fill="#000089"/><rect x="777.0" y="295" width="81.2" height="14" fill="#0024ff"/><rect x="105.0" y="307" width="87.0" height="14" fill="#000089"/><rect x="192.0" y="307" width="13.0" height="14" fill="#08f0ef"/><rect x="205.0" y="307" width="35.0" height="14" fill="#9cff5a"/><rect x="240.0" y="307" width="10.0" height="14" fill="#00c7ff"/><rect x="250.0" y="307" width="32.0" height="14" fill="#0000ae"/><rect x="282.0" y="307" width="18.0" height="14" fill="#3affbd"/><rect x="300.0" y="307" width="45.0" height="14" fill="#ff8e00"/><rect x="345.0" y="307" width="15.0" height="14" fill="#6bff8c"/><rect x="360.0" y="307" width="20.0" height="14" fill="#00dbff"/><rect x="380.0" y="307" width="50.0" height="14" fill="#000097"/><rect x="430.0" y="307" width="60.0" height="14" fill="#000097"/><rect x="490.0" y="307" width="70.0" height="14" fill="#9cff5a"/><rect x="560.0" y="307" width="43.0" height="14" fill="#4affad"/><rect x="603.0" y="307" width="47.0" height="14" fill="#08f0ef"/><rect x="650.0" y="307" width="50.0" height="14" fill="#004dff"/><rect x="700.0" y="307" width="77.0" height="14" fill="#000089"/><rect x="777.0" y="307" width="81.2" height="14" fill="#00c7ff"/><rect x="105.0" y="319" width="87.0" height="15" fill="#000089"/><rect x="192.0" y="319" width="13.0" height="15" fill="#00dbff"/><rect x="205.0" y="319" width="35.0" height="15" fill="#7bff7b"/><rect x="240.0" y="319" width="10.0" height="15" fill="#009eff"/><rect x="250.0" y="319" width="32.0" height="15" fill="#000097"/><rect x="282.0" y="319" width="18.0" height="15" fill="#3affbd"/><rect x="300.0" y="319" width="45.0" height="15" fill="#ff4200"/><rect x="345.0" y="319" width="15.0" height="15" fill="#4affad"/><rect x="360.0" y="319" width="20.0" height="15" fill="#00dbff"/><rect x="380.0" y="319" width="50.0" height="15" fill="#008aff"/><rect x="430.0" y="319" width="70.0" height="15" fill="#0000dc"/><rect x="500.0" y="319" width="60.0" height="15" fill="#4affad"/><rect x="560.0" y="319" width="43.0" height="15" fill="#29ffce"/><rect x="603.0" y="319" width="47.0" height="15" fill="#00dbff"/><rect x="650.0" y="319" width="50.0" height="15" fill="#0024ff"/><rect x="700.0" y="319" width="65.0" height="15" fill="#000089"/><rect x="765.0" y="319" width="93.2" height="15" fill="#00dbff"/><rect x="105.0" y="332" width="80.0" height="14" fill="#0000ff"/><rect x="185.0" y="332" width="75.0" height="14" fill="#0038ff"/><rect x="260.0" y="332" width="40.0" height="14" fill="#0000ae"/><rect x="300.0" y="332" width="60.0" height="14" fill="#0024ff"/><rect x="360.0" y="332" width="40.0" height="14" fill="#004dff"/><rect x="400.0" y="332" width="80.0" height="14" fill="#0000a0"/><rect x="480.0" y="332" width="60.0" height="14" fill="#004dff"/><rect x="540.0" y="332" width="63.0" height="14" fill="#0000a0"/><rect x="603.0" y="332" width="77.0" height="14" fill="#00c7ff"/><rect x="680.0" y="332" width="40.0" height="14" fill="#009eff"/><rect x="720.0" y="332" width="40.0" height="14" fill="#0024ff"/><rect x="760.0" y="332" width="98.2" height="14" fill="#00c7ff"/><rect x="105.0" y="344" width="185.0" height="13" fill="#0061ff"/><rect x="290.0" y="344" width="70.0" height="13" fill="#008aff"/><rect x="360.0" y="344" width="60.0" height="13" fill="#0075ff"/><rect x="420.0" y="344" width="60.0" height="13" fill="#004dff"/><rect x="480.0" y="344" width="120.0" height="13" fill="#0024ff"/><rect x="600.0" y="344" width="86.0" height="13" fill="#0075ff"/><rect x="686.0" y="344" width="37.0" height="13" fill="#3affbd"/><rect x="723.0" y="344" width="37.0" height="13" fill="#0024ff"/><rect x="760.0" y="344" width="98.2" height="13" fill="#00c7ff"/><rect x="105.0" y="355" width="40.0" height="16" fill="#0000ae"/><rect x="145.0" y="355" width="55.0" height="16" fill="#00c7ff"/><rect x="200.0" y="355" width="100.0" height="16" fill="#0000dc"/><rect x="300.0" y="355" width="50.0" height="16" fill="#4affad"/><rect x="350.0" y="355" width="80.0" height="16" fill="#00c7ff"/><rect x="430.0" y="355" width="100.0" height="16" fill="#0024ff"/><rect x="530.0" y="355" width="73.0" height="16" fill="#0061ff"/><rect x="603.0" y="355" width="77.0" height="16" fill="#0000ae"/><rect x="680.0" y="355" width="40.0" height="16" fill="#004dff"/><rect x="720.0" y="355" width="138.2" height="16" fill="#0061ff"/><rect x="105.0" y="369" width="40.0" height="16" fill="#000097"/><rect x="145.0" y="369" width="55.0" height="16" fill="#00c7ff"/><rect x="200.0" y="369" width="100.0" height="16" fill="#0000ae"/><rect x="300.0" y="369" width="50.0" height="16" fill="#00c7ff"/><rect x="350.0" y="369" width="80.0" height="16" fill="#008aff"/><rect x="430.0" y="369" width="428.2" height="16" fill="#0000a0"/></g><g filter="url(#bl3)"><ellipse cx="220.0" cy="322.0" rx="20.0" ry="7.0" fill="#adff4a" fill-opacity="0.75"/><ellipse cx="318.0" cy="322.0" rx="38.0" ry="18.0" fill="#bdff3a" fill-opacity="0.9"/><ellipse cx="323.0" cy="328.0" rx="23.0" ry="10.0" fill="#ff5500" fill-opacity="0.95"/><ellipse cx="324.0" cy="329.5" rx="16.0" ry="6.5" fill="#c50000" fill-opacity="0.95"/><ellipse cx="331.5" cy="316.0" rx="13.5" ry="6.0" fill="#ff6800" fill-opacity="0.85"/><ellipse cx="553.0" cy="316.0" rx="36.0" ry="14.0" fill="#bdff3a" fill-opacity="0.85"/><ellipse cx="533.5" cy="312.5" rx="6.5" ry="3.5" fill="#ff8e00" fill-opacity="0.8"/></g><rect x="117.0" y="283" width="729.2" height="100" filter="url(#sp2)" opacity="0.22"/><rect x="117.0" y="283" width="729.2" height="100" filter="url(#speckd)" opacity="0.25"/><rect x="126.1" y="345" width="1.8" height="110" fill="url(#spk)"/><rect x="132.1" y="340" width="1.8" height="110" fill="url(#spk)"/><rect x="142.1" y="360" width="1.8" height="80" fill="url(#spk)"/><rect x="152.1" y="350" width="1.8" height="100" fill="url(#spk)"/><rect x="165.1" y="370" width="1.8" height="70" fill="url(#spk)"/><rect x="189.1" y="340" width="1.8" height="100" fill="url(#spk)"/><rect x="208.1" y="360" width="1.8" height="90" fill="url(#spk)"/><rect x="219.1" y="370" width="1.8" height="60" fill="url(#spk)"/><rect x="235.1" y="340" width="1.8" height="110" fill="url(#spk)"/><rect x="251.1" y="350" width="1.8" height="90" fill="url(#spk)"/><rect x="265.1" y="330" width="1.8" height="120" fill="url(#spk)"/><rect x="274.1" y="350" width="1.8" height="100" fill="url(#spk)"/><rect x="284.1" y="350" width="1.8" height="90" fill="url(#spk)"/><rect x="296.1" y="350" width="1.8" height="110" fill="url(#spk)"/><rect x="317.1" y="330" width="1.8" height="130" fill="url(#spk)"/><rect x="333.1" y="340" width="1.8" height="100" fill="url(#spk)"/><rect x="344.1" y="350" width="1.8" height="100" fill="url(#spk)"/><rect x="359.1" y="360" width="1.8" height="70" fill="url(#spk)"/><rect x="379.1" y="350" width="1.8" height="90" fill="url(#spk)"/><rect x="401.1" y="340" width="1.8" height="100" fill="url(#spk)"/><rect x="410.1" y="350" width="1.8" height="100" fill="url(#spk)"/><rect x="431.1" y="330" width="1.8" height="120" fill="url(#spk)"/><rect x="461.1" y="330" width="1.8" height="110" fill="url(#spk)"/><rect x="485.1" y="340" width="1.8" height="120" fill="url(#spk)"/><rect x="493.1" y="330" width="1.8" height="120" fill="url(#spk)"/><rect x="505.1" y="350" width="1.8" height="100" fill="url(#spk)"/><rect x="529.1" y="360" width="1.8" height="90" fill="url(#spk)"/><rect x="549.1" y="350" width="1.8" height="90" fill="url(#spk)"/><rect x="569.1" y="360" width="1.8" height="90" fill="url(#spk)"/><rect x="590.1" y="340" width="1.8" height="100" fill="url(#spk)"/><rect x="635.1" y="330" width="1.8" height="110" fill="url(#spk)"/><rect x="649.1" y="350" width="1.8" height="100" fill="url(#spk)"/><rect x="671.1" y="320" width="1.8" height="150" fill="url(#spk)"/><rect x="689.1" y="340" width="1.8" height="100" fill="url(#spk)"/><rect x="748.1" y="320" width="1.8" height="150" fill="url(#spk)"/><rect x="794.1" y="340" width="1.8" height="110" fill="url(#spk)"/><rect x="811.1" y="330" width="1.8" height="130" fill="url(#spk)"/><rect x="830.1" y="330" width="1.8" height="140" fill="url(#spk)"/><rect x="544.0" y="352" width="1.4" height="99" fill="url(#spk)"/><rect x="328.2" y="338" width="1.4" height="63" fill="url(#spk)"/><rect x="294.3" y="350" width="1.4" height="114" fill="url(#spk)"/><rect x="268.7" y="369" width="1.4" height="68" fill="url(#spk)"/><rect x="408.5" y="331" width="1.4" height="75" fill="url(#spk)"/><rect x="175.5" y="369" width="1.4" height="108" fill="url(#spk)"/><rect x="363.1" y="364" width="1.4" height="127" fill="url(#spk)"/><rect x="285.3" y="364" width="1.4" height="80" fill="url(#spk)"/><rect x="429.0" y="363" width="1.4" height="86" fill="url(#spk)"/><rect x="408.0" y="359" width="1.4" height="66" fill="url(#spk)"/><rect x="454.5" y="338" width="1.4" height="80" fill="url(#spk)"/><rect x="225.4" y="341" width="1.4" height="126" fill="url(#spk)"/><rect x="310.0" y="364" width="1.4" height="70" fill="url(#spk)"/><rect x="228.4" y="330" width="1.4" height="93" fill="url(#spk)"/><rect x="537.5" y="351" width="1.4" height="110" fill="url(#spk)"/><rect x="191.3" y="332" width="1.4" height="76" fill="url(#spk)"/><rect x="538.5" y="358" width="1.4" height="125" fill="url(#spk)"/><rect x="460.3" y="340" width="1.4" height="73" fill="url(#spk)"/><rect x="388.9" y="336" width="1.4" height="94" fill="url(#spk)"/><rect x="356.1" y="340" width="1.4" height="128" fill="url(#spk)"/><rect x="145.0" y="367" width="1.4" height="63" fill="url(#spk)"/><rect x="545.2" y="346" width="1.4" height="71" fill="url(#spk)"/><rect x="394.2" y="358" width="1.4" height="88" fill="url(#spk)"/><rect x="328.8" y="357" width="1.4" height="79" fill="url(#spk)"/><rect x="256.8" y="358" width="1.4" height="92" fill="url(#spk)"/><rect x="486.5" y="348" width="1.4" height="111" fill="url(#spk)"/><rect x="359.4" y="340" width="1.4" height="86" fill="url(#spk)"/><rect x="364.9" y="349" width="1.4" height="109" fill="url(#spk)"/><rect x="415.9" y="358" width="1.4" height="77" fill="url(#spk)"/><rect x="500.8" y="367" width="1.4" height="85" fill="url(#spk)"/><rect x="771.5" y="354" width="1.6" height="66" fill="url(#spkc)"/><rect x="164.3" y="364" width="1.6" height="91" fill="url(#spkc)"/><rect x="596.0" y="351" width="1.6" height="56" fill="url(#spkc)"/><rect x="121.6" y="361" width="1.6" height="89" fill="url(#spkc)"/><rect x="808.3" y="370" width="1.6" height="83" fill="url(#spkc)"/><rect x="826.5" y="331" width="1.6" height="106" fill="url(#spkc)"/><rect x="490.3" y="353" width="1.6" height="87" fill="url(#spkc)"/><rect x="374.2" y="355" width="1.6" height="103" fill="url(#spkc)"/><rect x="618.8" y="376" width="1.6" height="80" fill="url(#spkc)"/><rect x="252.5" y="354" width="1.6" height="95" fill="url(#spkc)"/><rect x="345.3" y="361" width="1.6" height="90" fill="url(#spkc)"/><rect x="381.9" y="330" width="1.6" height="93" fill="url(#spkc)"/><rect x="336.8" y="379" width="1.6" height="51" fill="url(#spkc)"/><rect x="627.9" y="359" width="1.6" height="103" fill="url(#spkc)"/><rect x="729.1" y="374" width="1.6" height="94" fill="url(#spkc)"/><rect x="594.9" y="367" width="1.6" height="94" fill="url(#spkc)"/><rect x="466.7" y="349" width="1.6" height="60" fill="url(#spkc)"/><rect x="403.6" y="356" width="1.6" height="104" fill="url(#spkc)"/><rect x="292.6" y="374" width="1.6" height="97" fill="url(#spkc)"/><rect x="373.4" y="364" width="1.6" height="109" fill="url(#spkc)"/><rect x="759.0" y="368" width="1.6" height="70" fill="url(#spkc)"/><rect x="396.2" y="350" width="1.6" height="67" fill="url(#spkc)"/><rect x="447.2" y="372" width="1.6" height="94" fill="url(#spkc)"/><rect x="323.4" y="363" width="1.6" height="85" fill="url(#spkc)"/><rect x="190.1" y="342" width="1.6" height="65" fill="url(#spkc)"/><rect x="176.8" y="364" width="1.6" height="88" fill="url(#spkc)"/><rect x="383.6" y="377" width="1.6" height="74" fill="url(#spkc)"/><rect x="257.1" y="351" width="1.6" height="75" fill="url(#spkc)"/><rect x="248.0" y="348" width="1.6" height="92" fill="url(#spkc)"/><rect x="571.7" y="335" width="1.6" height="90" fill="url(#spkc)"/><rect x="548.7" y="335" width="1.6" height="67" fill="url(#spkc)"/><rect x="634.5" y="370" width="1.6" height="97" fill="url(#spkc)"/><rect x="361.1" y="374" width="1.6" height="82" fill="url(#spkc)"/><rect x="593.0" y="345" width="1.6" height="69" fill="url(#spkc)"/><rect x="221.0" y="336" width="1.6" height="92" fill="url(#spkc)"/><rect x="183.3" y="363" width="1.6" height="75" fill="url(#spkc)"/><rect x="350.1" y="353" width="1.6" height="101" fill="url(#spkc)"/><rect x="556.9" y="352" width="1.6" height="85" fill="url(#spkc)"/><rect x="535.7" y="332" width="1.6" height="64" fill="url(#spkc)"/><rect x="758.6" y="370" width="1.6" height="92" fill="url(#spkc)"/><rect x="815.0" y="364" width="1.6" height="89" fill="url(#spkc)"/><rect x="748.5" y="339" width="1.6" height="76" fill="url(#spkc)"/><rect x="676.0" y="339" width="1.6" height="89" fill="url(#spkc)"/><rect x="172.2" y="334" width="1.6" height="71" fill="url(#spkc)"/><rect x="632.1" y="369" width="1.6" height="77" fill="url(#spkc)"/><rect x="604.4" y="349" width="1.6" height="70" fill="url(#spkc)"/><rect x="254.0" y="350" width="1.6" height="107" fill="url(#spkc)"/><rect x="570.4" y="352" width="1.6" height="84" fill="url(#spkc)"/><rect x="558.5" y="367" width="1.6" height="81" fill="url(#spkc)"/><rect x="510.4" y="345" width="1.6" height="95" fill="url(#spkc)"/><rect x="783.0" y="360" width="1.6" height="56" fill="url(#spkc)"/><rect x="385.8" y="363" width="1.6" height="61" fill="url(#spkc)"/><rect x="754.3" y="336" width="1.6" height="105" fill="url(#spkc)"/><rect x="656.9" y="359" width="1.6" height="84" fill="url(#spkc)"/><rect x="766.5" y="354" width="1.6" height="105" fill="url(#spkc)"/><rect x="831.0" y="336" width="1.6" height="105" fill="url(#spkc)"/><rect x="493.3" y="372" width="1.6" height="59" fill="url(#spkc)"/><rect x="711.7" y="354" width="1.6" height="92" fill="url(#spkc)"/><rect x="400.9" y="335" width="1.6" height="84" fill="url(#spkc)"/><rect x="784.8" y="349" width="1.6" height="70" fill="url(#spkc)"/><rect x="266.7" y="44.9" width="1.1" height="469.0" fill="#8b0000"/><rect x="453.5" y="44.9" width="1.1" height="469.0" fill="#8b0000"/><rect x="497.8" y="44.9" width="1.1" height="469.0" fill="#8b0000"/><rect x="503.8" y="44.9" width="1.1" height="469.0" fill="#8b0000"/><rect x="526.2" y="44.9" width="1.1" height="469.0" fill="#8b0000"/><rect x="623.0" y="44.9" width="1.1" height="469.0" fill="#8b0000"/><rect x="664.5" y="44.9" width="1.1" height="469.0" fill="#8b0000"/><rect x="829.0" y="44.9" width="1.1" height="469.0" fill="#8b0000"/><rect x="832.5" y="44.9" width="1.1" height="469.0" fill="#8b0000"/></g>
<polyline points="278.2,1330.0 287.7,1357.0 287.7,1400.6 269.4,1435.9 309.5,1458.3 419.3,1491.9 474.3,1521.6 474.3,1529.3 416.7,1538.6 309.2,1564.6 291.0,1573.9 321.0,1587.3 208.9,1604.5 154.3,1623.2 136.0,1641.2 136.0,1663.7 154.2,1682.4 154.3,1703.9 136.1,1742.4" fill="none" stroke="#bfbf00" stroke-width="3.3" stroke-linejoin="miter"/>
<polyline points="835.9,1330.0 792.8,1370.2 697.4,1389.3 628.1,1435.9 788.5,1515.3 799.4,1525.0 766.6,1541.1 675.5,1552.6 628.1,1586.6 493.3,1599.9 584.3,1746.4" fill="none" stroke="#bfbf00" stroke-width="3.3" stroke-linejoin="miter"/>
<g transform="translate(0,1204.0)" fill="none" stroke="#ff0000" stroke-linejoin="round" stroke-linecap="round"><line x1="260" y1="46.9" x2="482.7" y2="46.9" stroke-width="2.4" stroke-linecap="butt"/><polyline points="520.7,48.9 478.9,48.6 471.3,53.3 463.7,59.0 456.0,66.6 450.3,74.2 444.6,83.7 442.7,93.2 444.6,104.6 444.6,116.0 439.0,125.6 431.3,135.0 425.6,144.6 418.0,156.0 410.4,165.5 404.7,175.0 402.8,180.7 408.5,190.2 410.4,197.8 418.0,203.5 427.5,211.1 437.0,216.8 452.2,224.4 467.5,237.7 470.0,240.3 488.0,262.0 506.0,271.0 542.3,283.7 571.2,294.5 589.2,303.5 598.3,307.1 589.2,312.6 582.0,319.8 542.3,325.2 506.1,332.4 488.0,337.9 470.0,345.0 444.0,349.3 409.0,358.0 377.3,366.9 359.7,375.7 365.0,384.5 356.2,391.5 328.0,396.8 285.9,407.3 261.2,414.4 243.7,424.9 231.4,439.0 231.4,451.3 240.1,460.1 245.4,477.7 254.2,495.3 266.5,511.0 270.0,516.0" stroke-width="3.6"/><polyline points="470.0,54.0 462.0,61.0 455.0,69.0 450.0,78.0 446.0,88.0 446.0,100.0 447.0,112.0 441.0,123.0 434.0,133.0 428.0,143.0 420.0,155.0 412.0,165.0 406.0,176.0" stroke-width="3.6"/><line x1="473.4" y1="52.0" x2="479.0" y2="52.0" stroke-width="2.6"/><line x1="470.7" y1="53.8" x2="474.9" y2="53.8" stroke-width="2.6"/><line x1="467.1" y1="56.5" x2="474.4" y2="56.5" stroke-width="2.6"/><line x1="464.7" y1="58.2" x2="473.7" y2="58.2" stroke-width="2.6"/><line x1="461.7" y1="61.0" x2="463.0" y2="61.0" stroke-width="2.6"/><line x1="459.2" y1="63.5" x2="463.6" y2="63.5" stroke-width="2.6"/><line x1="457.5" y1="65.1" x2="461.4" y2="65.1" stroke-width="2.6"/><line x1="455.3" y1="67.6" x2="457.3" y2="67.6" stroke-width="2.6"/><line x1="453.8" y1="69.5" x2="461.0" y2="69.5" stroke-width="2.6"/><line x1="452.4" y1="71.4" x2="461.3" y2="71.4" stroke-width="2.6"/><line x1="450.6" y1="73.8" x2="457.3" y2="73.8" stroke-width="2.6"/><line x1="449.6" y1="75.3" x2="451.3" y2="75.3" stroke-width="2.6"/><line x1="448.2" y1="77.7" x2="450.7" y2="77.7" stroke-width="2.6"/><line x1="446.8" y1="80.0" x2="455.9" y2="80.0" stroke-width="2.6"/><line x1="445.4" y1="82.4" x2="450.4" y2="82.4" stroke-width="2.6"/><line x1="444.5" y1="84.1" x2="446.7" y2="84.1" stroke-width="2.6"/><line x1="444.2" y1="85.9" x2="453.7" y2="85.9" stroke-width="2.6"/><line x1="443.6" y1="88.6" x2="446.2" y2="88.6" stroke-width="2.6"/><line x1="443.3" y1="90.1" x2="453.1" y2="90.1" stroke-width="2.6"/><line x1="442.7" y1="93.1" x2="448.5" y2="93.1" stroke-width="2.6"/><line x1="443.0" y1="95.0" x2="448.8" y2="95.0" stroke-width="2.6"/><line x1="443.5" y1="97.8" x2="446.7" y2="97.8" stroke-width="2.6"/><line x1="443.9" y1="100.5" x2="449.4" y2="100.5" stroke-width="2.6"/><line x1="444.3" y1="102.8" x2="453.7" y2="102.8" stroke-width="2.6"/><line x1="444.6" y1="104.3" x2="448.3" y2="104.3" stroke-width="2.6"/><line x1="444.6" y1="106.0" x2="447.1" y2="106.0" stroke-width="2.6"/><line x1="444.6" y1="108.8" x2="445.9" y2="108.8" stroke-width="2.6"/><line x1="444.6" y1="111.7" x2="448.8" y2="111.7" stroke-width="2.6"/><line x1="444.6" y1="114.1" x2="450.0" y2="114.1" stroke-width="2.6"/><line x1="444.6" y1="115.8" x2="447.8" y2="115.8" stroke-width="2.6"/><line x1="443.7" y1="117.6" x2="447.6" y2="117.6" stroke-width="2.6"/><line x1="442.8" y1="119.1" x2="449.0" y2="119.1" stroke-width="2.6"/><line x1="441.7" y1="121.0" x2="448.8" y2="121.0" stroke-width="2.6"/><line x1="440.3" y1="123.3" x2="448.9" y2="123.3" stroke-width="2.6"/><line x1="438.5" y1="126.2" x2="442.4" y2="126.2" stroke-width="2.6"/><line x1="436.5" y1="128.7" x2="444.5" y2="128.7" stroke-width="2.6"/><line x1="435.4" y1="130.0" x2="443.6" y2="130.0" stroke-width="2.6"/><line x1="433.3" y1="132.6" x2="444.6" y2="132.6" stroke-width="2.6"/><line x1="431.2" y1="135.3" x2="438.1" y2="135.3" stroke-width="2.6"/><line x1="429.8" y1="137.5" x2="435.4" y2="137.5" stroke-width="2.6"/><line x1="428.4" y1="140.0" x2="441.1" y2="140.0" stroke-width="2.6"/><line x1="427.4" y1="141.5" x2="436.7" y2="141.5" stroke-width="2.6"/><line x1="425.9" y1="144.1" x2="432.0" y2="144.1" stroke-width="2.6"/><line x1="424.9" y1="145.6" x2="429.2" y2="145.6" stroke-width="2.6"/><line x1="423.0" y1="148.5" x2="433.1" y2="148.5" stroke-width="2.6"/><line x1="421.3" y1="151.0" x2="433.6" y2="151.0" stroke-width="2.6"/><line x1="419.4" y1="153.8" x2="420.6" y2="153.8" stroke-width="2.6"/><line x1="418.0" y1="156.0" x2="427.4" y2="156.0" stroke-width="2.6"/><line x1="415.8" y1="158.7" x2="422.5" y2="158.7" stroke-width="2.6"/><line x1="414.6" y1="160.3" x2="423.0" y2="160.3" stroke-width="2.6"/><line x1="412.5" y1="162.8" x2="418.5" y2="162.8" stroke-width="2.6"/><line x1="411.3" y1="164.4" x2="414.5" y2="164.4" stroke-width="2.6"/><line x1="410.0" y1="166.1" x2="416.8" y2="166.1" stroke-width="2.6"/><line x1="408.4" y1="168.8" x2="411.3" y2="168.8" stroke-width="2.6"/><line x1="407.2" y1="170.9" x2="410.7" y2="170.9" stroke-width="2.6"/><line x1="406.2" y1="172.6" x2="409.2" y2="172.6" stroke-width="2.6"/><line x1="404.8" y1="174.9" x2="415.1" y2="174.9" stroke-width="2.6"/><line x1="403.8" y1="177.8" x2="415.8" y2="177.8" stroke-width="2.6"/><line x1="402.8" y1="180.7" x2="410.2" y2="180.7" stroke-width="2.6"/><line x1="404.4" y1="183.4" x2="408.7" y2="183.4" stroke-width="2.6"/><line x1="405.9" y1="185.9" x2="417.1" y2="185.9" stroke-width="2.6"/><line x1="407.1" y1="187.8" x2="410.5" y2="187.8" stroke-width="2.6"/><line x1="408.2" y1="189.7" x2="416.5" y2="189.7" stroke-width="2.6"/><line x1="450.0" y1="68.5" x2="496.0" y2="68.5" stroke-width="3.6"/><line x1="446.0" y1="73.3" x2="492.2" y2="73.3" stroke-width="3.6"/><line x1="444.0" y1="79.9" x2="529.2" y2="79.9" stroke-width="3.6"/><line x1="443.0" y1="91.3" x2="496.0" y2="91.3" stroke-width="3.6"/><line x1="445.0" y1="100.8" x2="484.6" y2="100.8" stroke-width="3.6"/><line x1="437.0" y1="126.5" x2="465.6" y2="126.5" stroke-width="3.6"/><line x1="424.0" y1="144.6" x2="450.3" y2="144.6" stroke-width="3.6"/><line x1="415.0" y1="157.9" x2="443.7" y2="157.9" stroke-width="3.6"/><line x1="408.0" y1="169.3" x2="429.4" y2="169.3" stroke-width="3.6"/><line x1="430.0" y1="134.1" x2="445.6" y2="134.1" stroke-width="3.6"/><line x1="445.0" y1="110.0" x2="458.0" y2="110.0" stroke-width="3.6"/><line x1="445.0" y1="117.0" x2="455.0" y2="117.0" stroke-width="3.6"/></g>
</g>
<rect x="189.2" y="1248.9" width="2.9" height="9.8" fill="#ff0000"/>
<rect x="335.1" y="1248.9" width="2.9" height="9.8" fill="#ff0000"/>
<rect x="480.9" y="1248.9" width="2.9" height="9.8" fill="#ff0000"/>
<rect x="626.6" y="1248.9" width="2.9" height="9.8" fill="#ff0000"/>
<rect x="772.5" y="1248.9" width="2.9" height="9.8" fill="#ff0000"/>
<rect x="117.0" y="1248.9" width="729.2" height="469.0" fill="none" stroke="#000" stroke-width="1.6"/>
<line x1="117.0" y1="1717.9" x2="117.0" y2="1724.9" stroke="#000" stroke-width="1.6"/>
<text transform="translate(117.0,1747.6) scale(1.060,1)" text-anchor="middle" fill="#000" stroke="#000" stroke-width="0.35" xml:space="preserve" style="font-family:'Liberation Sans',sans-serif;font-size:21px">1</text>
<line x1="164.0" y1="1717.9" x2="164.0" y2="1724.9" stroke="#000" stroke-width="1.6"/>
<text transform="translate(164.0,1747.6) scale(1.060,1)" text-anchor="middle" fill="#000" stroke="#000" stroke-width="0.35" xml:space="preserve" style="font-family:'Liberation Sans',sans-serif;font-size:21px">3</text>
<line x1="211.1" y1="1717.9" x2="211.1" y2="1724.9" stroke="#000" stroke-width="1.6"/>
<text transform="translate(211.1,1747.6) scale(1.060,1)" text-anchor="middle" fill="#000" stroke="#000" stroke-width="0.35" xml:space="preserve" style="font-family:'Liberation Sans',sans-serif;font-size:21px">5</text>
<line x1="258.1" y1="1717.9" x2="258.1" y2="1724.9" stroke="#000" stroke-width="1.6"/>
<text transform="translate(258.1,1747.6) scale(1.060,1)" text-anchor="middle" fill="#000" stroke="#000" stroke-width="0.35" xml:space="preserve" style="font-family:'Liberation Sans',sans-serif;font-size:21px">7</text>
<line x1="305.2" y1="1717.9" x2="305.2" y2="1724.9" stroke="#000" stroke-width="1.6"/>
<text transform="translate(305.2,1747.6) scale(1.060,1)" text-anchor="middle" fill="#000" stroke="#000" stroke-width="0.35" xml:space="preserve" style="font-family:'Liberation Sans',sans-serif;font-size:21px">9</text>
<line x1="352.2" y1="1717.9" x2="352.2" y2="1724.9" stroke="#000" stroke-width="1.6"/>
<text transform="translate(352.2,1747.6) scale(1.060,1)" text-anchor="middle" fill="#000" stroke="#000" stroke-width="0.35" xml:space="preserve" style="font-family:'Liberation Sans',sans-serif;font-size:21px">11</text>
<line x1="399.3" y1="1717.9" x2="399.3" y2="1724.9" stroke="#000" stroke-width="1.6"/>
<text transform="translate(399.3,1747.6) scale(1.060,1)" text-anchor="middle" fill="#000" stroke="#000" stroke-width="0.35" xml:space="preserve" style="font-family:'Liberation Sans',sans-serif;font-size:21px">13</text>
<line x1="446.3" y1="1717.9" x2="446.3" y2="1724.9" stroke="#000" stroke-width="1.6"/>
<text transform="translate(446.3,1747.6) scale(1.060,1)" text-anchor="middle" fill="#000" stroke="#000" stroke-width="0.35" xml:space="preserve" style="font-family:'Liberation Sans',sans-serif;font-size:21px">15</text>
<line x1="493.4" y1="1717.9" x2="493.4" y2="1724.9" stroke="#000" stroke-width="1.6"/>
<text transform="translate(493.4,1747.6) scale(1.060,1)" text-anchor="middle" fill="#000" stroke="#000" stroke-width="0.35" xml:space="preserve" style="font-family:'Liberation Sans',sans-serif;font-size:21px">17</text>
<line x1="540.4" y1="1717.9" x2="540.4" y2="1724.9" stroke="#000" stroke-width="1.6"/>
<text transform="translate(540.4,1747.6) scale(1.060,1)" text-anchor="middle" fill="#000" stroke="#000" stroke-width="0.35" xml:space="preserve" style="font-family:'Liberation Sans',sans-serif;font-size:21px">19</text>
<line x1="587.5" y1="1717.9" x2="587.5" y2="1724.9" stroke="#000" stroke-width="1.6"/>
<text transform="translate(587.5,1747.6) scale(1.060,1)" text-anchor="middle" fill="#000" stroke="#000" stroke-width="0.35" xml:space="preserve" style="font-family:'Liberation Sans',sans-serif;font-size:21px">21</text>
<line x1="634.5" y1="1717.9" x2="634.5" y2="1724.9" stroke="#000" stroke-width="1.6"/>
<text transform="translate(634.5,1747.6) scale(1.060,1)" text-anchor="middle" fill="#000" stroke="#000" stroke-width="0.35" xml:space="preserve" style="font-family:'Liberation Sans',sans-serif;font-size:21px">23</text>
<line x1="681.5" y1="1717.9" x2="681.5" y2="1724.9" stroke="#000" stroke-width="1.6"/>
<text transform="translate(681.5,1747.6) scale(1.060,1)" text-anchor="middle" fill="#000" stroke="#000" stroke-width="0.35" xml:space="preserve" style="font-family:'Liberation Sans',sans-serif;font-size:21px">25</text>
<line x1="728.6" y1="1717.9" x2="728.6" y2="1724.9" stroke="#000" stroke-width="1.6"/>
<text transform="translate(728.6,1747.6) scale(1.060,1)" text-anchor="middle" fill="#000" stroke="#000" stroke-width="0.35" xml:space="preserve" style="font-family:'Liberation Sans',sans-serif;font-size:21px">27</text>
<line x1="775.6" y1="1717.9" x2="775.6" y2="1724.9" stroke="#000" stroke-width="1.6"/>
<text transform="translate(775.6,1747.6) scale(1.060,1)" text-anchor="middle" fill="#000" stroke="#000" stroke-width="0.35" xml:space="preserve" style="font-family:'Liberation Sans',sans-serif;font-size:21px">29</text>
<line x1="822.7" y1="1717.9" x2="822.7" y2="1724.9" stroke="#000" stroke-width="1.6"/>
<text transform="translate(822.7,1747.6) scale(1.060,1)" text-anchor="middle" fill="#000" stroke="#000" stroke-width="0.35" xml:space="preserve" style="font-family:'Liberation Sans',sans-serif;font-size:21px">31</text>
<line x1="110.0" y1="1330.0" x2="117.0" y2="1330.0" stroke="#000" stroke-width="1.6"/>
<text transform="translate(91.2,1339.6) scale(1.080,1)" text-anchor="end" fill="#000" stroke="#000" stroke-width="0.35" xml:space="preserve" style="font-family:'Liberation Sans',sans-serif;font-size:21px">10</text>
<text transform="translate(94.3,1331.2) scale(1.050,1)" text-anchor="start" fill="#000" stroke="#000" stroke-width="0.35" xml:space="preserve" style="font-family:'Liberation Sans',sans-serif;font-size:14.6px">1</text>
<line x1="110.0" y1="1447.3" x2="117.0" y2="1447.3" stroke="#000" stroke-width="1.6"/>
<text transform="translate(91.2,1456.9) scale(1.080,1)" text-anchor="end" fill="#000" stroke="#000" stroke-width="0.35" xml:space="preserve" style="font-family:'Liberation Sans',sans-serif;font-size:21px">10</text>
<text transform="translate(94.3,1448.5) scale(1.050,1)" text-anchor="start" fill="#000" stroke="#000" stroke-width="0.35" xml:space="preserve" style="font-family:'Liberation Sans',sans-serif;font-size:14.6px">0</text>
<line x1="110.0" y1="1564.6" x2="117.0" y2="1564.6" stroke="#000" stroke-width="1.6"/>
<text transform="translate(80.2,1574.2) scale(1.080,1)" text-anchor="end" fill="#000" stroke="#000" stroke-width="0.35" xml:space="preserve" style="font-family:'Liberation Sans',sans-serif;font-size:21px">10</text>
<text transform="translate(83.6,1565.8) scale(1.050,1)" text-anchor="start" fill="#000" stroke="#000" stroke-width="0.35" xml:space="preserve" style="font-family:'Liberation Sans',sans-serif;font-size:14.6px">−1</text>
<line x1="110.0" y1="1681.9" x2="117.0" y2="1681.9" stroke="#000" stroke-width="1.6"/>
<text transform="translate(80.2,1691.5) scale(1.080,1)" text-anchor="end" fill="#000" stroke="#000" stroke-width="0.35" xml:space="preserve" style="font-family:'Liberation Sans',sans-serif;font-size:21px">10</text>
<text transform="translate(83.6,1683.1) scale(1.050,1)" text-anchor="start" fill="#000" stroke="#000" stroke-width="0.35" xml:space="preserve" style="font-family:'Liberation Sans',sans-serif;font-size:14.6px">−2</text>
<line x1="113.0" y1="1717.2" x2="117.0" y2="1717.2" stroke="#000" stroke-width="1.2"/>
<line x1="113.0" y1="1707.9" x2="117.0" y2="1707.9" stroke="#000" stroke-width="1.2"/>
<line x1="113.0" y1="1700.1" x2="117.0" y2="1700.1" stroke="#000" stroke-width="1.2"/>
<line x1="113.0" y1="1693.3" x2="117.0" y2="1693.3" stroke="#000" stroke-width="1.2"/>
<line x1="113.0" y1="1687.3" x2="117.0" y2="1687.3" stroke="#000" stroke-width="1.2"/>
<line x1="113.0" y1="1646.6" x2="117.0" y2="1646.6" stroke="#000" stroke-width="1.2"/>
<line x1="113.0" y1="1625.9" x2="117.0" y2="1625.9" stroke="#000" stroke-width="1.2"/>
<line x1="113.0" y1="1611.3" x2="117.0" y2="1611.3" stroke="#000" stroke-width="1.2"/>
<line x1="113.0" y1="1599.9" x2="117.0" y2="1599.9" stroke="#000" stroke-width="1.2"/>
<line x1="113.0" y1="1590.6" x2="117.0" y2="1590.6" stroke="#000" stroke-width="1.2"/>
<line x1="113.0" y1="1582.8" x2="117.0" y2="1582.8" stroke="#000" stroke-width="1.2"/>
<line x1="113.0" y1="1576.0" x2="117.0" y2="1576.0" stroke="#000" stroke-width="1.2"/>
<line x1="113.0" y1="1570.0" x2="117.0" y2="1570.0" stroke="#000" stroke-width="1.2"/>
<line x1="113.0" y1="1529.3" x2="117.0" y2="1529.3" stroke="#000" stroke-width="1.2"/>
<line x1="113.0" y1="1508.6" x2="117.0" y2="1508.6" stroke="#000" stroke-width="1.2"/>
<line x1="113.0" y1="1494.0" x2="117.0" y2="1494.0" stroke="#000" stroke-width="1.2"/>
<line x1="113.0" y1="1482.6" x2="117.0" y2="1482.6" stroke="#000" stroke-width="1.2"/>
<line x1="113.0" y1="1473.3" x2="117.0" y2="1473.3" stroke="#000" stroke-width="1.2"/>
<line x1="113.0" y1="1465.5" x2="117.0" y2="1465.5" stroke="#000" stroke-width="1.2"/>
<line x1="113.0" y1="1458.7" x2="117.0" y2="1458.7" stroke="#000" stroke-width="1.2"/>
<line x1="113.0" y1="1452.7" x2="117.0" y2="1452.7" stroke="#000" stroke-width="1.2"/>
<line x1="113.0" y1="1412.0" x2="117.0" y2="1412.0" stroke="#000" stroke-width="1.2"/>
<line x1="113.0" y1="1391.3" x2="117.0" y2="1391.3" stroke="#000" stroke-width="1.2"/>
<line x1="113.0" y1="1376.7" x2="117.0" y2="1376.7" stroke="#000" stroke-width="1.2"/>
<line x1="113.0" y1="1365.3" x2="117.0" y2="1365.3" stroke="#000" stroke-width="1.2"/>
<line x1="113.0" y1="1356.0" x2="117.0" y2="1356.0" stroke="#000" stroke-width="1.2"/>
<line x1="113.0" y1="1348.2" x2="117.0" y2="1348.2" stroke="#000" stroke-width="1.2"/>
<line x1="113.0" y1="1341.4" x2="117.0" y2="1341.4" stroke="#000" stroke-width="1.2"/>
<line x1="113.0" y1="1335.4" x2="117.0" y2="1335.4" stroke="#000" stroke-width="1.2"/>
<line x1="113.0" y1="1294.7" x2="117.0" y2="1294.7" stroke="#000" stroke-width="1.2"/>
<line x1="113.0" y1="1274.0" x2="117.0" y2="1274.0" stroke="#000" stroke-width="1.2"/>
<line x1="113.0" y1="1259.4" x2="117.0" y2="1259.4" stroke="#000" stroke-width="1.2"/>
<text transform="translate(189.5,1245.0) scale(1.110,1)" text-anchor="middle" fill="#ff0000" stroke="#ff0000" stroke-width="0.35" xml:space="preserve" style="font-family:'Liberation Sans',sans-serif;font-size:21px">-180dB</text>
<text transform="translate(335.3,1245.0) scale(1.110,1)" text-anchor="middle" fill="#ff0000" stroke="#ff0000" stroke-width="0.35" xml:space="preserve" style="font-family:'Liberation Sans',sans-serif;font-size:21px">-160dB</text>
<text transform="translate(481.1,1245.0) scale(1.110,1)" text-anchor="middle" fill="#ff0000" stroke="#ff0000" stroke-width="0.35" xml:space="preserve" style="font-family:'Liberation Sans',sans-serif;font-size:21px">-140dB</text>
<text transform="translate(626.9,1245.0) scale(1.110,1)" text-anchor="middle" fill="#ff0000" stroke="#ff0000" stroke-width="0.35" xml:space="preserve" style="font-family:'Liberation Sans',sans-serif;font-size:21px">-120dB</text>
<text transform="translate(772.7,1245.0) scale(1.110,1)" text-anchor="middle" fill="#ff0000" stroke="#ff0000" stroke-width="0.35" xml:space="preserve" style="font-family:'Liberation Sans',sans-serif;font-size:21px">-100dB</text>
<text transform="translate(477.4,1776.9) scale(1.045,1)" text-anchor="middle" fill="#000" stroke="#000" stroke-width="0.35" xml:space="preserve" style="font-family:'Liberation Sans',sans-serif;font-size:21px">August 2023 UP KALU  HHZ</text>
<text transform="translate(39.8,1484.2) rotate(-90) scale(1.140,1)" text-anchor="middle" fill="#000" stroke="#000" stroke-width="0.35" xml:space="preserve" style="font-family:'Liberation Sans',sans-serif;font-size:21px">f [Hz]</text>
<rect x="892.1" y="1248.9" width="22.4" height="469.0" fill="url(#jetg)"/>
<rect x="892.1" y="1248.9" width="22.4" height="469.0" fill="none" stroke="#000" stroke-width="1.6"/>
<line x1="914.5" y1="1248.9" x2="921.9" y2="1248.9" stroke="#000" stroke-width="1.6"/>
<text transform="translate(930.2,1256.5) scale(1.060,1)" text-anchor="start" fill="#000" stroke="#000" stroke-width="0.35" xml:space="preserve" style="font-family:'Liberation Sans',sans-serif;font-size:21px">20</text>
<line x1="914.5" y1="1342.7" x2="921.9" y2="1342.7" stroke="#000" stroke-width="1.6"/>
<text transform="translate(930.2,1350.3) scale(1.060,1)" text-anchor="start" fill="#000" stroke="#000" stroke-width="0.35" xml:space="preserve" style="font-family:'Liberation Sans',sans-serif;font-size:21px">15</text>
<line x1="914.5" y1="1436.5" x2="921.9" y2="1436.5" stroke="#000" stroke-width="1.6"/>
<text transform="translate(930.2,1444.1) scale(1.060,1)" text-anchor="start" fill="#000" stroke="#000" stroke-width="0.35" xml:space="preserve" style="font-family:'Liberation Sans',sans-serif;font-size:21px">10</text>
<line x1="914.5" y1="1530.3" x2="921.9" y2="1530.3" stroke="#000" stroke-width="1.6"/>
<text transform="translate(930.2,1537.9) scale(1.060,1)" text-anchor="start" fill="#000" stroke="#000" stroke-width="0.35" xml:space="preserve" style="font-family:'Liberation Sans',sans-serif;font-size:21px">5</text>
<line x1="914.5" y1="1624.1" x2="921.9" y2="1624.1" stroke="#000" stroke-width="1.6"/>
<text transform="translate(930.2,1631.7) scale(1.060,1)" text-anchor="start" fill="#000" stroke="#000" stroke-width="0.35" xml:space="preserve" style="font-family:'Liberation Sans',sans-serif;font-size:21px">0</text>
<line x1="914.5" y1="1717.9" x2="921.9" y2="1717.9" stroke="#000" stroke-width="1.6"/>
<text transform="translate(930.2,1725.5) scale(1.200,1)" text-anchor="start" fill="#000" stroke="#000" stroke-width="0.35" xml:space="preserve" style="font-family:'Liberation Sans',sans-serif;font-size:21px">−5</text>
<text transform="translate(983.5,1483.4) rotate(-90) scale(1.133,1)" text-anchor="middle" fill="#000" stroke="#000" stroke-width="0.35" xml:space="preserve" style="font-family:'Liberation Sans',sans-serif;font-size:21px">residual [dB] from average curve</text>
</svg></body></html>
